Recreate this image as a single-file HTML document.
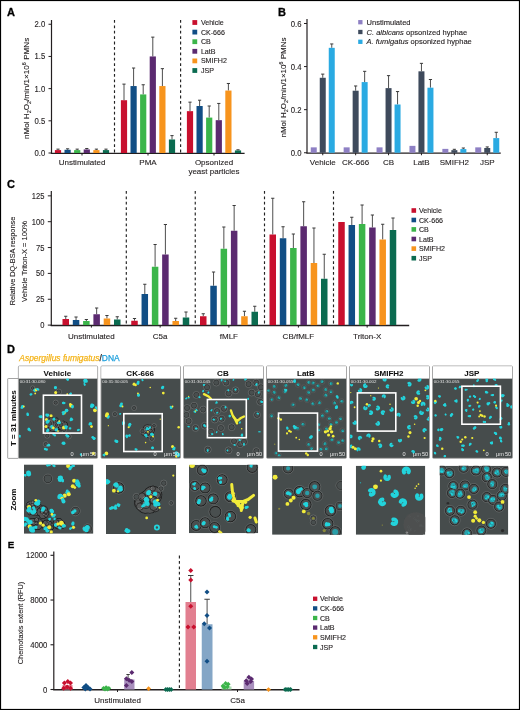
<!DOCTYPE html>
<html><head><meta charset="utf-8"><style>
html,body{margin:0;padding:0;background:#fff;}
body{width:520px;height:710px;overflow:hidden;}
svg{display:block;}
text{font-family:"Liberation Sans",sans-serif;}
</style></head><body>
<svg width="520" height="710" viewBox="0 0 520 710">
<defs><filter id="bl" x="-5%" y="-5%" width="110%" height="110%"><feGaussianBlur stdDeviation="0.3"/></filter></defs>
<rect x="0" y="0" width="520" height="710" fill="#fff"/>
<g opacity="0.999"><text x="7" y="15.7" font-size="11" text-anchor="start" font-weight="bold" fill="#000" stroke="#000" stroke-width="0.3">A</text><line x1="51.5" y1="20" x2="51.5" y2="153.6" stroke="#231f20" stroke-width="1.2"/><line x1="50.9" y1="153.35" x2="244.6" y2="153.35" stroke="#231f20" stroke-width="1.35"/><line x1="48.5" y1="153.0" x2="51.5" y2="153.0" stroke="#231f20" stroke-width="1"/><text x="0" y="0" font-size="8.4" text-anchor="end" font-weight="normal" fill="#231f20" stroke="#231f20" stroke-width="0.12" transform="translate(45.3 156.0) scale(0.92 1)">0.0</text><line x1="48.5" y1="120.8125" x2="51.5" y2="120.8125" stroke="#231f20" stroke-width="1"/><text x="0" y="0" font-size="8.4" text-anchor="end" font-weight="normal" fill="#231f20" stroke="#231f20" stroke-width="0.12" transform="translate(45.3 123.8125) scale(0.92 1)">0.5</text><line x1="48.5" y1="88.625" x2="51.5" y2="88.625" stroke="#231f20" stroke-width="1"/><text x="0" y="0" font-size="8.4" text-anchor="end" font-weight="normal" fill="#231f20" stroke="#231f20" stroke-width="0.12" transform="translate(45.3 91.625) scale(0.92 1)">1.0</text><line x1="48.5" y1="56.4375" x2="51.5" y2="56.4375" stroke="#231f20" stroke-width="1"/><text x="0" y="0" font-size="8.4" text-anchor="end" font-weight="normal" fill="#231f20" stroke="#231f20" stroke-width="0.12" transform="translate(45.3 59.4375) scale(0.92 1)">1.5</text><line x1="48.5" y1="24.25" x2="51.5" y2="24.25" stroke="#231f20" stroke-width="1"/><text x="0" y="0" font-size="8.4" text-anchor="end" font-weight="normal" fill="#231f20" stroke="#231f20" stroke-width="0.12" transform="translate(45.3 27.25) scale(0.92 1)">2.0</text><line x1="114.5" y1="20" x2="114.5" y2="153.0" stroke="#222" stroke-width="1.15" stroke-dasharray="2.8 2.6"/><line x1="180.6" y1="20" x2="180.6" y2="153.0" stroke="#222" stroke-width="1.15" stroke-dasharray="2.8 2.6"/><line x1="58.0" y1="150.103125" x2="58.0" y2="149.1375" stroke="#3a3a3a" stroke-width="0.9"/><line x1="56.4" y1="149.1375" x2="59.6" y2="149.1375" stroke="#3a3a3a" stroke-width="1.0"/><rect x="54.90" y="150.10" width="6.20" height="2.90" fill="#c8102e"/><line x1="67.6" y1="149.78125" x2="67.6" y2="148.815625" stroke="#3a3a3a" stroke-width="0.9"/><line x1="66.0" y1="148.815625" x2="69.19999999999999" y2="148.815625" stroke="#3a3a3a" stroke-width="1.0"/><rect x="64.50" y="149.78" width="6.20" height="3.22" fill="#114e85"/><line x1="77.19999999999999" y1="150.103125" x2="77.19999999999999" y2="149.1375" stroke="#3a3a3a" stroke-width="0.9"/><line x1="75.6" y1="149.1375" x2="78.79999999999998" y2="149.1375" stroke="#3a3a3a" stroke-width="1.0"/><rect x="74.10" y="150.10" width="6.20" height="2.90" fill="#3bb54a"/><line x1="86.79999999999998" y1="149.459375" x2="86.79999999999998" y2="148.49375" stroke="#3a3a3a" stroke-width="0.9"/><line x1="85.19999999999999" y1="148.49375" x2="88.39999999999998" y2="148.49375" stroke="#3a3a3a" stroke-width="1.0"/><rect x="83.70" y="149.46" width="6.20" height="3.54" fill="#5b2a70"/><line x1="96.39999999999999" y1="150.103125" x2="96.39999999999999" y2="149.1375" stroke="#3a3a3a" stroke-width="0.9"/><line x1="94.8" y1="149.1375" x2="97.99999999999999" y2="149.1375" stroke="#3a3a3a" stroke-width="1.0"/><rect x="93.30" y="150.10" width="6.20" height="2.90" fill="#f7941d"/><line x1="106.0" y1="150.103125" x2="106.0" y2="149.1375" stroke="#3a3a3a" stroke-width="0.9"/><line x1="104.4" y1="149.1375" x2="107.6" y2="149.1375" stroke="#3a3a3a" stroke-width="1.0"/><rect x="102.90" y="150.10" width="6.20" height="2.90" fill="#0b6b50"/><line x1="82.0" y1="153.0" x2="82.0" y2="155.5" stroke="#231f20" stroke-width="1"/><line x1="124.0" y1="100.2125" x2="124.0" y2="84.11874999999999" stroke="#3a3a3a" stroke-width="0.9"/><line x1="122.4" y1="84.11874999999999" x2="125.6" y2="84.11874999999999" stroke="#3a3a3a" stroke-width="1.0"/><rect x="120.90" y="100.21" width="6.20" height="52.79" fill="#c8102e"/><line x1="133.6" y1="86.05" x2="133.6" y2="68.02499999999999" stroke="#3a3a3a" stroke-width="0.9"/><line x1="132.0" y1="68.02499999999999" x2="135.2" y2="68.02499999999999" stroke="#3a3a3a" stroke-width="1.0"/><rect x="130.50" y="86.05" width="6.20" height="66.95" fill="#114e85"/><line x1="143.2" y1="94.41874999999999" x2="143.2" y2="84.7625" stroke="#3a3a3a" stroke-width="0.9"/><line x1="141.6" y1="84.7625" x2="144.79999999999998" y2="84.7625" stroke="#3a3a3a" stroke-width="1.0"/><rect x="140.10" y="94.42" width="6.20" height="58.58" fill="#3bb54a"/><line x1="152.79999999999998" y1="56.4375" x2="152.79999999999998" y2="37.125" stroke="#3a3a3a" stroke-width="0.9"/><line x1="151.2" y1="37.125" x2="154.39999999999998" y2="37.125" stroke="#3a3a3a" stroke-width="1.0"/><rect x="149.70" y="56.44" width="6.20" height="96.56" fill="#5b2a70"/><line x1="162.4" y1="86.05" x2="162.4" y2="68.66875" stroke="#3a3a3a" stroke-width="0.9"/><line x1="160.8" y1="68.66875" x2="164.0" y2="68.66875" stroke="#3a3a3a" stroke-width="1.0"/><rect x="159.30" y="86.05" width="6.20" height="66.95" fill="#f7941d"/><line x1="172.0" y1="139.48125" x2="172.0" y2="135.61875" stroke="#3a3a3a" stroke-width="0.9"/><line x1="170.4" y1="135.61875" x2="173.6" y2="135.61875" stroke="#3a3a3a" stroke-width="1.0"/><rect x="168.90" y="139.48" width="6.20" height="13.52" fill="#0b6b50"/><line x1="148.0" y1="153.0" x2="148.0" y2="155.5" stroke="#231f20" stroke-width="1"/><line x1="190.0" y1="111.15625" x2="190.0" y2="102.14375" stroke="#3a3a3a" stroke-width="0.9"/><line x1="188.4" y1="102.14375" x2="191.6" y2="102.14375" stroke="#3a3a3a" stroke-width="1.0"/><rect x="186.90" y="111.16" width="6.20" height="41.84" fill="#c8102e"/><line x1="199.6" y1="106.00625" x2="199.6" y2="100.2125" stroke="#3a3a3a" stroke-width="0.9"/><line x1="198.0" y1="100.2125" x2="201.2" y2="100.2125" stroke="#3a3a3a" stroke-width="1.0"/><rect x="196.50" y="106.01" width="6.20" height="46.99" fill="#114e85"/><line x1="209.2" y1="117.59375" x2="209.2" y2="106.00625" stroke="#3a3a3a" stroke-width="0.9"/><line x1="207.6" y1="106.00625" x2="210.79999999999998" y2="106.00625" stroke="#3a3a3a" stroke-width="1.0"/><rect x="206.10" y="117.59" width="6.20" height="35.41" fill="#3bb54a"/><line x1="218.79999999999998" y1="120.16875" x2="218.79999999999998" y2="103.43125" stroke="#3a3a3a" stroke-width="0.9"/><line x1="217.2" y1="103.43125" x2="220.39999999999998" y2="103.43125" stroke="#3a3a3a" stroke-width="1.0"/><rect x="215.70" y="120.17" width="6.20" height="32.83" fill="#5b2a70"/><line x1="228.4" y1="90.55625" x2="228.4" y2="83.475" stroke="#3a3a3a" stroke-width="0.9"/><line x1="226.8" y1="83.475" x2="230.0" y2="83.475" stroke="#3a3a3a" stroke-width="1.0"/><rect x="225.30" y="90.56" width="6.20" height="62.44" fill="#f7941d"/><line x1="238.0" y1="150.425" x2="238.0" y2="149.78125" stroke="#3a3a3a" stroke-width="0.9"/><line x1="236.4" y1="149.78125" x2="239.6" y2="149.78125" stroke="#3a3a3a" stroke-width="1.0"/><rect x="234.90" y="150.43" width="6.20" height="2.57" fill="#0b6b50"/><line x1="214.0" y1="153.0" x2="214.0" y2="155.5" stroke="#231f20" stroke-width="1"/><text x="82" y="165" font-size="8" text-anchor="middle" font-weight="normal" fill="#231f20" stroke="#231f20" stroke-width="0.12">Unstimulated</text><text x="148" y="165" font-size="8" text-anchor="middle" font-weight="normal" fill="#231f20" stroke="#231f20" stroke-width="0.12">PMA</text><text x="214" y="164.8" font-size="8" text-anchor="middle" font-weight="normal" fill="#231f20" stroke="#231f20" stroke-width="0.12">Opsonized</text><text x="214" y="173.8" font-size="8" text-anchor="middle" font-weight="normal" fill="#231f20" stroke="#231f20" stroke-width="0.12">yeast particles</text><rect x="192.40" y="20.10" width="4.80" height="4.80" fill="#c8102e"/><text x="200.9" y="25.0" font-size="7.1" text-anchor="start" font-weight="normal" fill="#231f20" stroke="#231f20" stroke-width="0.12">Vehicle</text><rect x="192.40" y="29.70" width="4.80" height="4.80" fill="#114e85"/><text x="200.9" y="34.6" font-size="7.1" text-anchor="start" font-weight="normal" fill="#231f20" stroke="#231f20" stroke-width="0.12">CK-666</text><rect x="192.40" y="39.30" width="4.80" height="4.80" fill="#3bb54a"/><text x="200.9" y="44.2" font-size="7.1" text-anchor="start" font-weight="normal" fill="#231f20" stroke="#231f20" stroke-width="0.12">CB</text><rect x="192.40" y="48.90" width="4.80" height="4.80" fill="#5b2a70"/><text x="200.9" y="53.8" font-size="7.1" text-anchor="start" font-weight="normal" fill="#231f20" stroke="#231f20" stroke-width="0.12">LatB</text><rect x="192.40" y="58.50" width="4.80" height="4.80" fill="#f7941d"/><text x="200.9" y="63.4" font-size="7.1" text-anchor="start" font-weight="normal" fill="#231f20" stroke="#231f20" stroke-width="0.12">SMIFH2</text><rect x="192.40" y="68.10" width="4.80" height="4.80" fill="#0b6b50"/><text x="200.9" y="73.0" font-size="7.1" text-anchor="start" font-weight="normal" fill="#231f20" stroke="#231f20" stroke-width="0.12">JSP</text><text x="29.5" y="88.4" font-size="8.1" text-anchor="middle" fill="#231f20" stroke="#231f20" stroke-width="0.12" transform="rotate(-90 29.5 88.4)">nMol H<tspan font-size="5.5" dy="1.5">2</tspan><tspan dy="-1.5">O</tspan><tspan font-size="5.5" dy="1.5">2</tspan><tspan dy="-1.5">/min/1×10</tspan><tspan font-size="5.5" dy="-3">6</tspan><tspan dy="3"> PMNs</tspan></text><text x="278" y="15.7" font-size="11" text-anchor="start" font-weight="bold" fill="#000" stroke="#000" stroke-width="0.3">B</text><line x1="307" y1="19" x2="307" y2="153.35" stroke="#231f20" stroke-width="1.2"/><line x1="306.4" y1="153.15" x2="500.75" y2="153.15" stroke="#231f20" stroke-width="1.35"/><line x1="304" y1="152.75" x2="307" y2="152.75" stroke="#231f20" stroke-width="1"/><text x="0" y="0" font-size="8.4" text-anchor="end" font-weight="normal" fill="#231f20" stroke="#231f20" stroke-width="0.12" transform="translate(301.5 155.75) scale(0.92 1)">0.0</text><line x1="304" y1="109.66666666666666" x2="307" y2="109.66666666666666" stroke="#231f20" stroke-width="1"/><text x="0" y="0" font-size="8.4" text-anchor="end" font-weight="normal" fill="#231f20" stroke="#231f20" stroke-width="0.12" transform="translate(301.5 112.66666666666666) scale(0.92 1)">0.2</text><line x1="304" y1="66.58333333333331" x2="307" y2="66.58333333333331" stroke="#231f20" stroke-width="1"/><text x="0" y="0" font-size="8.4" text-anchor="end" font-weight="normal" fill="#231f20" stroke="#231f20" stroke-width="0.12" transform="translate(301.5 69.58333333333331) scale(0.92 1)">0.4</text><line x1="304" y1="23.5" x2="307" y2="23.5" stroke="#231f20" stroke-width="1"/><text x="0" y="0" font-size="8.4" text-anchor="end" font-weight="normal" fill="#231f20" stroke="#231f20" stroke-width="0.12" transform="translate(301.5 26.5) scale(0.92 1)">0.6</text><rect x="310.75" y="147.36" width="6.00" height="5.39" fill="#8e80c4"/><line x1="322.75" y1="77.785" x2="322.75" y2="74.12291666666667" stroke="#3a3a3a" stroke-width="0.9"/><line x1="321.15" y1="74.12291666666667" x2="324.35" y2="74.12291666666667" stroke="#3a3a3a" stroke-width="1.0"/><rect x="319.75" y="77.78" width="6.00" height="74.97" fill="#3e4a5c"/><line x1="331.75" y1="47.84208333333332" x2="331.75" y2="43.96458333333332" stroke="#3a3a3a" stroke-width="0.9"/><line x1="330.15" y1="43.96458333333332" x2="333.35" y2="43.96458333333332" stroke="#3a3a3a" stroke-width="1.0"/><rect x="328.75" y="47.84" width="6.00" height="104.91" fill="#2aaae2"/><line x1="322.75" y1="152.75" x2="322.75" y2="155.25" stroke="#231f20" stroke-width="1"/><text x="322.75" y="165" font-size="8" text-anchor="middle" font-weight="normal" fill="#231f20" stroke="#231f20" stroke-width="0.12">Vehicle</text><rect x="343.65" y="147.36" width="6.00" height="5.39" fill="#8e80c4"/><line x1="355.65" y1="90.71000000000001" x2="355.65" y2="85.97083333333333" stroke="#3a3a3a" stroke-width="0.9"/><line x1="354.04999999999995" y1="85.97083333333333" x2="357.25" y2="85.97083333333333" stroke="#3a3a3a" stroke-width="1.0"/><rect x="352.65" y="90.71" width="6.00" height="62.04" fill="#3e4a5c"/><line x1="364.65" y1="82.09333333333332" x2="364.65" y2="71.32249999999999" stroke="#3a3a3a" stroke-width="0.9"/><line x1="363.04999999999995" y1="71.32249999999999" x2="366.25" y2="71.32249999999999" stroke="#3a3a3a" stroke-width="1.0"/><rect x="361.65" y="82.09" width="6.00" height="70.66" fill="#2aaae2"/><line x1="355.65" y1="152.75" x2="355.65" y2="155.25" stroke="#231f20" stroke-width="1"/><text x="355.65" y="165" font-size="8" text-anchor="middle" font-weight="normal" fill="#231f20" stroke="#231f20" stroke-width="0.12">CK-666</text><rect x="376.55" y="147.36" width="6.00" height="5.39" fill="#8e80c4"/><line x1="388.55" y1="88.125" x2="388.55" y2="75.63083333333333" stroke="#3a3a3a" stroke-width="0.9"/><line x1="386.95" y1="75.63083333333333" x2="390.15000000000003" y2="75.63083333333333" stroke="#3a3a3a" stroke-width="1.0"/><rect x="385.55" y="88.12" width="6.00" height="64.62" fill="#3e4a5c"/><line x1="397.55" y1="104.49666666666667" x2="397.55" y2="91.57166666666666" stroke="#3a3a3a" stroke-width="0.9"/><line x1="395.95" y1="91.57166666666666" x2="399.15000000000003" y2="91.57166666666666" stroke="#3a3a3a" stroke-width="1.0"/><rect x="394.55" y="104.50" width="6.00" height="48.25" fill="#2aaae2"/><line x1="388.55" y1="152.75" x2="388.55" y2="155.25" stroke="#231f20" stroke-width="1"/><text x="388.55" y="165" font-size="8" text-anchor="middle" font-weight="normal" fill="#231f20" stroke="#231f20" stroke-width="0.12">CB</text><rect x="409.45" y="145.86" width="6.00" height="6.89" fill="#8e80c4"/><line x1="421.45" y1="71.32249999999999" x2="421.45" y2="63.352083333333326" stroke="#3a3a3a" stroke-width="0.9"/><line x1="419.84999999999997" y1="63.352083333333326" x2="423.05" y2="63.352083333333326" stroke="#3a3a3a" stroke-width="1.0"/><rect x="418.45" y="71.32" width="6.00" height="81.43" fill="#3e4a5c"/><line x1="430.45" y1="87.69416666666666" x2="430.45" y2="79.50833333333333" stroke="#3a3a3a" stroke-width="0.9"/><line x1="428.84999999999997" y1="79.50833333333333" x2="432.05" y2="79.50833333333333" stroke="#3a3a3a" stroke-width="1.0"/><rect x="427.45" y="87.69" width="6.00" height="65.06" fill="#2aaae2"/><line x1="421.45" y1="152.75" x2="421.45" y2="155.25" stroke="#231f20" stroke-width="1"/><text x="421.45" y="165" font-size="8" text-anchor="middle" font-weight="normal" fill="#231f20" stroke="#231f20" stroke-width="0.12">LatB</text><rect x="442.35" y="148.87" width="6.00" height="3.88" fill="#8e80c4"/><line x1="454.35" y1="150.165" x2="454.35" y2="149.30333333333334" stroke="#3a3a3a" stroke-width="0.9"/><line x1="452.75" y1="149.30333333333334" x2="455.95000000000005" y2="149.30333333333334" stroke="#3a3a3a" stroke-width="1.0"/><rect x="451.35" y="150.16" width="6.00" height="2.59" fill="#3e4a5c"/><line x1="463.35" y1="149.08791666666667" x2="463.35" y2="148.01083333333332" stroke="#3a3a3a" stroke-width="0.9"/><line x1="461.75" y1="148.01083333333332" x2="464.95000000000005" y2="148.01083333333332" stroke="#3a3a3a" stroke-width="1.0"/><rect x="460.35" y="149.09" width="6.00" height="3.66" fill="#2aaae2"/><line x1="454.35" y1="152.75" x2="454.35" y2="155.25" stroke="#231f20" stroke-width="1"/><text x="454.35" y="165" font-size="8" text-anchor="middle" font-weight="normal" fill="#231f20" stroke="#231f20" stroke-width="0.12">SMIFH2</text><rect x="475.25" y="147.36" width="6.00" height="5.39" fill="#8e80c4"/><line x1="487.25" y1="148.01083333333332" x2="487.25" y2="146.93375" stroke="#3a3a3a" stroke-width="0.9"/><line x1="485.65" y1="146.93375" x2="488.85" y2="146.93375" stroke="#3a3a3a" stroke-width="1.0"/><rect x="484.25" y="148.01" width="6.00" height="4.74" fill="#3e4a5c"/><line x1="496.25" y1="138.10166666666666" x2="496.25" y2="132.28541666666666" stroke="#3a3a3a" stroke-width="0.9"/><line x1="494.65" y1="132.28541666666666" x2="497.85" y2="132.28541666666666" stroke="#3a3a3a" stroke-width="1.0"/><rect x="493.25" y="138.10" width="6.00" height="14.65" fill="#2aaae2"/><line x1="487.25" y1="152.75" x2="487.25" y2="155.25" stroke="#231f20" stroke-width="1"/><text x="487.25" y="165" font-size="8" text-anchor="middle" font-weight="normal" fill="#231f20" stroke="#231f20" stroke-width="0.12">JSP</text><rect x="358.20" y="20.05" width="4.30" height="4.30" fill="#8e80c4"/><text x="366.5" y="24.7" font-size="7.55" fill="#231f20" stroke="#231f20" stroke-width="0.12">Unstimulated</text><rect x="358.20" y="29.85" width="4.30" height="4.30" fill="#3e4a5c"/><text x="366.5" y="34.5" font-size="7.55" fill="#231f20" stroke="#231f20" stroke-width="0.12"><tspan font-style="italic">C. albicans</tspan> opsonized hyphae</text><rect x="358.20" y="39.65" width="4.30" height="4.30" fill="#2aaae2"/><text x="366.5" y="44.3" font-size="7.55" fill="#231f20" stroke="#231f20" stroke-width="0.12"><tspan font-style="italic">A. fumigatus</tspan> opsonized hyphae</text><text x="286.3" y="87.5" font-size="8.0" text-anchor="middle" fill="#231f20" stroke="#231f20" stroke-width="0.12" transform="rotate(-90 286.3 87.5)">nMol H<tspan font-size="5.5" dy="1.5">2</tspan><tspan dy="-1.5">O</tspan><tspan font-size="5.5" dy="1.5">2</tspan><tspan dy="-1.5">/min/1×10</tspan><tspan font-size="5.5" dy="-3">6</tspan><tspan dy="3"> PMNs</tspan></text><text x="7" y="188.2" font-size="11" text-anchor="start" font-weight="bold" fill="#000" stroke="#000" stroke-width="0.3">C</text><line x1="51.3" y1="191" x2="51.3" y2="325.70000000000005" stroke="#231f20" stroke-width="1.2"/><line x1="50.699999999999996" y1="325.45000000000005" x2="409.2" y2="325.45000000000005" stroke="#231f20" stroke-width="1.35"/><line x1="47.8" y1="325.1" x2="51.3" y2="325.1" stroke="#231f20" stroke-width="1"/><text x="0" y="0" font-size="8.4" text-anchor="end" font-weight="normal" fill="#231f20" stroke="#231f20" stroke-width="0.12" transform="translate(44.4 328.1) scale(0.9 1)">0</text><line x1="47.8" y1="299.25" x2="51.3" y2="299.25" stroke="#231f20" stroke-width="1"/><text x="0" y="0" font-size="8.4" text-anchor="end" font-weight="normal" fill="#231f20" stroke="#231f20" stroke-width="0.12" transform="translate(44.4 302.25) scale(0.9 1)">25</text><line x1="47.8" y1="273.40000000000003" x2="51.3" y2="273.40000000000003" stroke="#231f20" stroke-width="1"/><text x="0" y="0" font-size="8.4" text-anchor="end" font-weight="normal" fill="#231f20" stroke="#231f20" stroke-width="0.12" transform="translate(44.4 276.40000000000003) scale(0.9 1)">50</text><line x1="47.8" y1="247.55" x2="51.3" y2="247.55" stroke="#231f20" stroke-width="1"/><text x="0" y="0" font-size="8.4" text-anchor="end" font-weight="normal" fill="#231f20" stroke="#231f20" stroke-width="0.12" transform="translate(44.4 250.55) scale(0.9 1)">75</text><line x1="47.8" y1="221.70000000000002" x2="51.3" y2="221.70000000000002" stroke="#231f20" stroke-width="1"/><text x="0" y="0" font-size="8.4" text-anchor="end" font-weight="normal" fill="#231f20" stroke="#231f20" stroke-width="0.12" transform="translate(44.4 224.70000000000002) scale(0.9 1)">100</text><line x1="47.8" y1="195.85000000000002" x2="51.3" y2="195.85000000000002" stroke="#231f20" stroke-width="1"/><text x="0" y="0" font-size="8.4" text-anchor="end" font-weight="normal" fill="#231f20" stroke="#231f20" stroke-width="0.12" transform="translate(44.4 198.85000000000002) scale(0.9 1)">125</text><line x1="126.3" y1="191" x2="126.3" y2="325.1" stroke="#222" stroke-width="1.15" stroke-dasharray="2.8 2.6"/><line x1="195.25" y1="191" x2="195.25" y2="325.1" stroke="#222" stroke-width="1.15" stroke-dasharray="2.8 2.6"/><line x1="264.5" y1="191" x2="264.5" y2="325.1" stroke="#222" stroke-width="1.15" stroke-dasharray="2.8 2.6"/><line x1="333.5" y1="191" x2="333.5" y2="325.1" stroke="#222" stroke-width="1.15" stroke-dasharray="2.8 2.6"/><line x1="65.75" y1="319" x2="65.75" y2="316.25" stroke="#3a3a3a" stroke-width="0.9"/><line x1="64.15" y1="316.25" x2="67.35" y2="316.25" stroke="#3a3a3a" stroke-width="1.0"/><rect x="62.50" y="319.00" width="6.50" height="6.10" fill="#c8102e"/><line x1="76.05" y1="320" x2="76.05" y2="317" stroke="#3a3a3a" stroke-width="0.9"/><line x1="74.45" y1="317" x2="77.64999999999999" y2="317" stroke="#3a3a3a" stroke-width="1.0"/><rect x="72.80" y="320.00" width="6.50" height="5.10" fill="#114e85"/><line x1="86.35" y1="321" x2="86.35" y2="319.5" stroke="#3a3a3a" stroke-width="0.9"/><line x1="84.75" y1="319.5" x2="87.94999999999999" y2="319.5" stroke="#3a3a3a" stroke-width="1.0"/><rect x="83.10" y="321.00" width="6.50" height="4.10" fill="#3bb54a"/><line x1="96.65" y1="314.25" x2="96.65" y2="308" stroke="#3a3a3a" stroke-width="0.9"/><line x1="95.05000000000001" y1="308" x2="98.25" y2="308" stroke="#3a3a3a" stroke-width="1.0"/><rect x="93.40" y="314.25" width="6.50" height="10.85" fill="#5b2a70"/><line x1="106.95" y1="318.5" x2="106.95" y2="315.5" stroke="#3a3a3a" stroke-width="0.9"/><line x1="105.35000000000001" y1="315.5" x2="108.55" y2="315.5" stroke="#3a3a3a" stroke-width="1.0"/><rect x="103.70" y="318.50" width="6.50" height="6.60" fill="#f7941d"/><line x1="117.25" y1="319.5" x2="117.25" y2="316.75" stroke="#3a3a3a" stroke-width="0.9"/><line x1="115.65" y1="316.75" x2="118.85" y2="316.75" stroke="#3a3a3a" stroke-width="1.0"/><rect x="114.00" y="319.50" width="6.50" height="5.60" fill="#0b6b50"/><line x1="91.4" y1="325.1" x2="91.4" y2="327.6" stroke="#231f20" stroke-width="1"/><text x="91.4" y="338.5" font-size="8" text-anchor="middle" font-weight="normal" fill="#231f20" stroke="#231f20" stroke-width="0.12">Unstimulated</text><line x1="134.5" y1="320.75" x2="134.5" y2="318.5" stroke="#3a3a3a" stroke-width="0.9"/><line x1="132.9" y1="318.5" x2="136.1" y2="318.5" stroke="#3a3a3a" stroke-width="1.0"/><rect x="131.25" y="320.75" width="6.50" height="4.35" fill="#c8102e"/><line x1="144.8" y1="294" x2="144.8" y2="284.25" stroke="#3a3a3a" stroke-width="0.9"/><line x1="143.20000000000002" y1="284.25" x2="146.4" y2="284.25" stroke="#3a3a3a" stroke-width="1.0"/><rect x="141.55" y="294.00" width="6.50" height="31.10" fill="#114e85"/><line x1="155.1" y1="266.75" x2="155.1" y2="244.5" stroke="#3a3a3a" stroke-width="0.9"/><line x1="153.5" y1="244.5" x2="156.7" y2="244.5" stroke="#3a3a3a" stroke-width="1.0"/><rect x="151.85" y="266.75" width="6.50" height="58.35" fill="#3bb54a"/><line x1="165.4" y1="254.5" x2="165.4" y2="224.5" stroke="#3a3a3a" stroke-width="0.9"/><line x1="163.8" y1="224.5" x2="167.0" y2="224.5" stroke="#3a3a3a" stroke-width="1.0"/><rect x="162.15" y="254.50" width="6.50" height="70.60" fill="#5b2a70"/><line x1="175.7" y1="321" x2="175.7" y2="318.25" stroke="#3a3a3a" stroke-width="0.9"/><line x1="174.1" y1="318.25" x2="177.29999999999998" y2="318.25" stroke="#3a3a3a" stroke-width="1.0"/><rect x="172.45" y="321.00" width="6.50" height="4.10" fill="#f7941d"/><line x1="186.0" y1="317.5" x2="186.0" y2="312" stroke="#3a3a3a" stroke-width="0.9"/><line x1="184.4" y1="312" x2="187.6" y2="312" stroke="#3a3a3a" stroke-width="1.0"/><rect x="182.75" y="317.50" width="6.50" height="7.60" fill="#0b6b50"/><line x1="160.15" y1="325.1" x2="160.15" y2="327.6" stroke="#231f20" stroke-width="1"/><text x="160.15" y="338.5" font-size="8" text-anchor="middle" font-weight="normal" fill="#231f20" stroke="#231f20" stroke-width="0.12">C5a</text><line x1="203.25" y1="316.25" x2="203.25" y2="313.75" stroke="#3a3a3a" stroke-width="0.9"/><line x1="201.65" y1="313.75" x2="204.85" y2="313.75" stroke="#3a3a3a" stroke-width="1.0"/><rect x="200.00" y="316.25" width="6.50" height="8.85" fill="#c8102e"/><line x1="213.55" y1="285.75" x2="213.55" y2="272" stroke="#3a3a3a" stroke-width="0.9"/><line x1="211.95000000000002" y1="272" x2="215.15" y2="272" stroke="#3a3a3a" stroke-width="1.0"/><rect x="210.30" y="285.75" width="6.50" height="39.35" fill="#114e85"/><line x1="223.85" y1="248.75" x2="223.85" y2="227" stroke="#3a3a3a" stroke-width="0.9"/><line x1="222.25" y1="227" x2="225.45" y2="227" stroke="#3a3a3a" stroke-width="1.0"/><rect x="220.60" y="248.75" width="6.50" height="76.35" fill="#3bb54a"/><line x1="234.15" y1="230.75" x2="234.15" y2="205.5" stroke="#3a3a3a" stroke-width="0.9"/><line x1="232.55" y1="205.5" x2="235.75" y2="205.5" stroke="#3a3a3a" stroke-width="1.0"/><rect x="230.90" y="230.75" width="6.50" height="94.35" fill="#5b2a70"/><line x1="244.45" y1="316.25" x2="244.45" y2="311.25" stroke="#3a3a3a" stroke-width="0.9"/><line x1="242.85" y1="311.25" x2="246.04999999999998" y2="311.25" stroke="#3a3a3a" stroke-width="1.0"/><rect x="241.20" y="316.25" width="6.50" height="8.85" fill="#f7941d"/><line x1="254.75" y1="311.75" x2="254.75" y2="306.25" stroke="#3a3a3a" stroke-width="0.9"/><line x1="253.15" y1="306.25" x2="256.35" y2="306.25" stroke="#3a3a3a" stroke-width="1.0"/><rect x="251.50" y="311.75" width="6.50" height="13.35" fill="#0b6b50"/><line x1="228.9" y1="325.1" x2="228.9" y2="327.6" stroke="#231f20" stroke-width="1"/><text x="228.9" y="338.5" font-size="8" text-anchor="middle" font-weight="normal" fill="#231f20" stroke="#231f20" stroke-width="0.12">fMLF</text><line x1="272.75" y1="234.5" x2="272.75" y2="198.25" stroke="#3a3a3a" stroke-width="0.9"/><line x1="271.15" y1="198.25" x2="274.35" y2="198.25" stroke="#3a3a3a" stroke-width="1.0"/><rect x="269.50" y="234.50" width="6.50" height="90.60" fill="#c8102e"/><line x1="283.05" y1="238.25" x2="283.05" y2="226.75" stroke="#3a3a3a" stroke-width="0.9"/><line x1="281.45" y1="226.75" x2="284.65000000000003" y2="226.75" stroke="#3a3a3a" stroke-width="1.0"/><rect x="279.80" y="238.25" width="6.50" height="86.85" fill="#114e85"/><line x1="293.35" y1="248" x2="293.35" y2="234" stroke="#3a3a3a" stroke-width="0.9"/><line x1="291.75" y1="234" x2="294.95000000000005" y2="234" stroke="#3a3a3a" stroke-width="1.0"/><rect x="290.10" y="248.00" width="6.50" height="77.10" fill="#3bb54a"/><line x1="303.65" y1="226.25" x2="303.65" y2="201.75" stroke="#3a3a3a" stroke-width="0.9"/><line x1="302.04999999999995" y1="201.75" x2="305.25" y2="201.75" stroke="#3a3a3a" stroke-width="1.0"/><rect x="300.40" y="226.25" width="6.50" height="98.85" fill="#5b2a70"/><line x1="313.95" y1="263" x2="313.95" y2="228" stroke="#3a3a3a" stroke-width="0.9"/><line x1="312.34999999999997" y1="228" x2="315.55" y2="228" stroke="#3a3a3a" stroke-width="1.0"/><rect x="310.70" y="263.00" width="6.50" height="62.10" fill="#f7941d"/><line x1="324.25" y1="278.75" x2="324.25" y2="254.25" stroke="#3a3a3a" stroke-width="0.9"/><line x1="322.65" y1="254.25" x2="325.85" y2="254.25" stroke="#3a3a3a" stroke-width="1.0"/><rect x="321.00" y="278.75" width="6.50" height="46.35" fill="#0b6b50"/><line x1="298.4" y1="325.1" x2="298.4" y2="327.6" stroke="#231f20" stroke-width="1"/><text x="298.4" y="338.5" font-size="8" text-anchor="middle" font-weight="normal" fill="#231f20" stroke="#231f20" stroke-width="0.12">CB/fMLF</text><rect x="338.25" y="222.00" width="6.50" height="103.10" fill="#c8102e"/><line x1="351.8" y1="225" x2="351.8" y2="217.25" stroke="#3a3a3a" stroke-width="0.9"/><line x1="350.2" y1="217.25" x2="353.40000000000003" y2="217.25" stroke="#3a3a3a" stroke-width="1.0"/><rect x="348.55" y="225.00" width="6.50" height="100.10" fill="#114e85"/><line x1="362.1" y1="224" x2="362.1" y2="205" stroke="#3a3a3a" stroke-width="0.9"/><line x1="360.5" y1="205" x2="363.70000000000005" y2="205" stroke="#3a3a3a" stroke-width="1.0"/><rect x="358.85" y="224.00" width="6.50" height="101.10" fill="#3bb54a"/><line x1="372.4" y1="227.5" x2="372.4" y2="215" stroke="#3a3a3a" stroke-width="0.9"/><line x1="370.79999999999995" y1="215" x2="374.0" y2="215" stroke="#3a3a3a" stroke-width="1.0"/><rect x="369.15" y="227.50" width="6.50" height="97.60" fill="#5b2a70"/><line x1="382.7" y1="239.5" x2="382.7" y2="224.25" stroke="#3a3a3a" stroke-width="0.9"/><line x1="381.09999999999997" y1="224.25" x2="384.3" y2="224.25" stroke="#3a3a3a" stroke-width="1.0"/><rect x="379.45" y="239.50" width="6.50" height="85.60" fill="#f7941d"/><line x1="393.0" y1="230" x2="393.0" y2="218" stroke="#3a3a3a" stroke-width="0.9"/><line x1="391.4" y1="218" x2="394.6" y2="218" stroke="#3a3a3a" stroke-width="1.0"/><rect x="389.75" y="230.00" width="6.50" height="95.10" fill="#0b6b50"/><line x1="367.15" y1="325.1" x2="367.15" y2="327.6" stroke="#231f20" stroke-width="1"/><text x="367.15" y="338.5" font-size="8" text-anchor="middle" font-weight="normal" fill="#231f20" stroke="#231f20" stroke-width="0.12">Triton-X</text><rect x="411.50" y="208.20" width="4.60" height="4.60" fill="#c8102e"/><text x="419" y="213.0" font-size="7.1" text-anchor="start" font-weight="normal" fill="#231f20" stroke="#231f20" stroke-width="0.12">Vehicle</text><rect x="411.50" y="217.70" width="4.60" height="4.60" fill="#114e85"/><text x="419" y="222.5" font-size="7.1" text-anchor="start" font-weight="normal" fill="#231f20" stroke="#231f20" stroke-width="0.12">CK-666</text><rect x="411.50" y="227.10" width="4.60" height="4.60" fill="#3bb54a"/><text x="419" y="231.9" font-size="7.1" text-anchor="start" font-weight="normal" fill="#231f20" stroke="#231f20" stroke-width="0.12">CB</text><rect x="411.50" y="236.70" width="4.60" height="4.60" fill="#5b2a70"/><text x="419" y="241.5" font-size="7.1" text-anchor="start" font-weight="normal" fill="#231f20" stroke="#231f20" stroke-width="0.12">LatB</text><rect x="411.50" y="246.30" width="4.60" height="4.60" fill="#f7941d"/><text x="419" y="251.1" font-size="7.1" text-anchor="start" font-weight="normal" fill="#231f20" stroke="#231f20" stroke-width="0.12">SMIFH2</text><rect x="411.50" y="255.90" width="4.60" height="4.60" fill="#0b6b50"/><text x="419" y="260.7" font-size="7.1" text-anchor="start" font-weight="normal" fill="#231f20" stroke="#231f20" stroke-width="0.12">JSP</text><text x="14.8" y="261" font-size="7.35" text-anchor="middle" font-weight="normal" fill="#231f20" stroke="#231f20" stroke-width="0.12" transform="rotate(-90 14.8 261)">Relative DQ-BSA response</text><text x="26.6" y="261.5" font-size="7.55" text-anchor="middle" font-weight="normal" fill="#231f20" stroke="#231f20" stroke-width="0.12" transform="rotate(-90 26.6 261.5)">Vehicle Triton-X = 100%</text><text x="7" y="352.6" font-size="11" text-anchor="start" font-weight="bold" fill="#000" stroke="#000" stroke-width="0.3">D</text><text x="19.3" y="361.3" font-size="8.45" fill="#231f20" stroke="#231f20" stroke-width="0.25"><tspan font-style="italic" fill="#f4b41a" stroke="#f4b41a">Aspergillus fumigatus</tspan>/<tspan fill="#1c9fdc" stroke="#1c9fdc">DNA</tspan></text><clipPath id="cp0"><rect x="18.4" y="378.3" width="79.2" height="80.0"/></clipPath><g clip-path="url(#cp0)"><rect x="18.40" y="378.30" width="79.20" height="80.00" fill="#464c4c"/><g filter="url(#bl)"><circle cx="67.94" cy="379.61" r="1.05" fill="#22d4dc"/><circle cx="67.49" cy="379.30" r="1.25" fill="#22d4dc"/><circle cx="67.79" cy="379.49" r="1.06" fill="#22d4dc"/><circle cx="86.35" cy="381.39" r="1.43" fill="#22d4dc"/><circle cx="86.04" cy="380.42" r="1.34" fill="#22d4dc"/><circle cx="84.85" cy="380.21" r="1.50" fill="#22d4dc"/><circle cx="84.72" cy="381.82" r="1.26" fill="#22d4dc"/><circle cx="84.80" cy="384.64" r="0.86" fill="#22d4dc"/><circle cx="84.65" cy="384.86" r="0.88" fill="#22d4dc"/><circle cx="84.32" cy="383.82" r="0.94" fill="#22d4dc"/><circle cx="58.77" cy="391.85" r="2.15" fill="#4a5050" stroke="#1a1a1a" stroke-width="0.55"/><circle cx="58.77" cy="391.85" r="2.75" fill="none" stroke="#7a7e7e" stroke-width="0.55"/><circle cx="55.52" cy="387.60" r="1.46" fill="#22d4dc"/><circle cx="55.37" cy="387.78" r="1.45" fill="#22d4dc"/><circle cx="55.69" cy="392.62" r="1.54" fill="#f2ec3a"/><circle cx="32.62" cy="388.00" r="1.54" fill="#4a5050" stroke="#1a1a1a" stroke-width="0.55"/><circle cx="32.62" cy="388.00" r="2.14" fill="none" stroke="#7a7e7e" stroke-width="0.55"/><circle cx="34.79" cy="390.83" r="1.10" fill="#22d4dc"/><circle cx="35.34" cy="389.72" r="1.15" fill="#22d4dc"/><circle cx="34.51" cy="390.33" r="1.20" fill="#22d4dc"/><circle cx="34.77" cy="389.93" r="1.22" fill="#22d4dc"/><circle cx="36.15" cy="390.00" r="1.38" fill="#f2ec3a"/><circle cx="37.72" cy="389.03" r="0.97" fill="#22d4dc"/><circle cx="38.37" cy="389.71" r="1.06" fill="#22d4dc"/><circle cx="36.99" cy="389.19" r="0.92" fill="#22d4dc"/><circle cx="35.23" cy="393.38" r="0.92" fill="#f2ec3a"/><circle cx="30.52" cy="394.55" r="0.96" fill="#22d4dc"/><circle cx="31.51" cy="394.24" r="0.97" fill="#22d4dc"/><circle cx="30.83" cy="394.52" r="1.04" fill="#22d4dc"/><circle cx="70.18" cy="393.97" r="1.03" fill="#22d4dc"/><circle cx="70.93" cy="393.47" r="0.88" fill="#22d4dc"/><circle cx="70.66" cy="393.70" r="1.06" fill="#22d4dc"/><circle cx="70.68" cy="393.78" r="0.94" fill="#22d4dc"/><circle cx="67.23" cy="394.15" r="0.92" fill="#f2ec3a"/><circle cx="22.52" cy="407.30" r="1.24" fill="#22d4dc"/><circle cx="22.55" cy="406.29" r="1.36" fill="#22d4dc"/><circle cx="21.71" cy="407.67" r="1.17" fill="#22d4dc"/><circle cx="22.60" cy="406.25" r="1.09" fill="#22d4dc"/><circle cx="23.85" cy="406.46" r="0.92" fill="#f2ec3a"/><circle cx="27.74" cy="414.86" r="1.04" fill="#22d4dc"/><circle cx="27.55" cy="413.59" r="1.14" fill="#22d4dc"/><circle cx="27.73" cy="414.80" r="1.26" fill="#22d4dc"/><circle cx="41.16" cy="416.97" r="1.23" fill="#22d4dc"/><circle cx="39.66" cy="416.64" r="1.05" fill="#22d4dc"/><circle cx="41.06" cy="416.68" r="1.36" fill="#22d4dc"/><circle cx="55.69" cy="402.62" r="1.85" fill="#4a5050" stroke="#1a1a1a" stroke-width="0.55"/><circle cx="55.69" cy="402.62" r="2.45" fill="none" stroke="#7a7e7e" stroke-width="0.55"/><circle cx="63.31" cy="403.02" r="1.09" fill="#22d4dc"/><circle cx="63.37" cy="402.96" r="1.26" fill="#22d4dc"/><circle cx="63.33" cy="402.82" r="1.13" fill="#22d4dc"/><circle cx="64.44" cy="403.06" r="1.11" fill="#22d4dc"/><circle cx="71.08" cy="405.69" r="1.85" fill="#f2ec3a"/><circle cx="72.63" cy="406.07" r="1.11" fill="#22d4dc"/><circle cx="72.46" cy="407.07" r="1.39" fill="#22d4dc"/><circle cx="72.45" cy="405.99" r="1.08" fill="#22d4dc"/><circle cx="70.31" cy="404.15" r="1.23" fill="#f2ec3a"/><circle cx="66.63" cy="410.27" r="1.46" fill="#22d4dc"/><circle cx="66.32" cy="410.68" r="1.39" fill="#22d4dc"/><circle cx="65.59" cy="411.45" r="1.31" fill="#22d4dc"/><circle cx="66.89" cy="410.48" r="1.48" fill="#22d4dc"/><circle cx="64.15" cy="413.08" r="1.54" fill="#f2ec3a"/><circle cx="63.02" cy="412.46" r="1.32" fill="#22d4dc"/><circle cx="63.13" cy="414.21" r="1.07" fill="#22d4dc"/><circle cx="63.84" cy="412.72" r="1.37" fill="#22d4dc"/><circle cx="71.18" cy="418.81" r="1.19" fill="#22d4dc"/><circle cx="70.79" cy="420.07" r="1.20" fill="#22d4dc"/><circle cx="71.94" cy="419.46" r="1.20" fill="#22d4dc"/><circle cx="91.80" cy="404.89" r="1.47" fill="#22d4dc"/><circle cx="91.42" cy="406.24" r="1.25" fill="#22d4dc"/><circle cx="91.70" cy="406.50" r="1.55" fill="#22d4dc"/><circle cx="92.74" cy="405.44" r="1.66" fill="#22d4dc"/><circle cx="94.92" cy="410.31" r="1.85" fill="#f2ec3a"/><circle cx="97.03" cy="407.84" r="0.89" fill="#22d4dc"/><circle cx="96.54" cy="408.52" r="0.89" fill="#22d4dc"/><circle cx="95.90" cy="407.45" r="1.08" fill="#22d4dc"/><circle cx="90.92" cy="423.76" r="1.27" fill="#22d4dc"/><circle cx="90.62" cy="423.62" r="1.18" fill="#22d4dc"/><circle cx="90.15" cy="423.52" r="1.37" fill="#22d4dc"/><circle cx="89.52" cy="424.50" r="1.06" fill="#22d4dc"/><circle cx="91.54" cy="426.62" r="1.38" fill="#f2ec3a"/><circle cx="28.65" cy="429.75" r="1.06" fill="#22d4dc"/><circle cx="30.10" cy="430.40" r="1.04" fill="#22d4dc"/><circle cx="28.88" cy="429.12" r="1.28" fill="#22d4dc"/><circle cx="28.89" cy="428.99" r="1.21" fill="#22d4dc"/><circle cx="19.90" cy="437.01" r="0.83" fill="#22d4dc"/><circle cx="19.76" cy="435.77" r="0.86" fill="#22d4dc"/><circle cx="19.54" cy="435.96" r="1.12" fill="#22d4dc"/><circle cx="54.15" cy="424.15" r="4.58" fill="#1a1a1a" stroke="#1a1a1a" stroke-width="1.4"/><circle cx="55.24" cy="427.15" r="3.35" fill="#1a1a1a" stroke="#1a1a1a" stroke-width="1.4"/><circle cx="54.80" cy="426.85" r="4.17" fill="#1a1a1a" stroke="#1a1a1a" stroke-width="1.4"/><circle cx="52.86" cy="426.66" r="4.25" fill="#1a1a1a" stroke="#1a1a1a" stroke-width="1.4"/><circle cx="56.97" cy="425.29" r="4.32" fill="#1a1a1a" stroke="#1a1a1a" stroke-width="1.4"/><circle cx="52.52" cy="421.50" r="3.90" fill="#1a1a1a" stroke="#1a1a1a" stroke-width="1.4"/><circle cx="54.15" cy="424.15" r="4.58" fill="#535555"/><circle cx="55.24" cy="427.15" r="3.35" fill="#535555"/><circle cx="54.80" cy="426.85" r="4.17" fill="#535555"/><circle cx="52.86" cy="426.66" r="4.25" fill="#535555"/><circle cx="56.97" cy="425.29" r="4.32" fill="#535555"/><circle cx="52.52" cy="421.50" r="3.90" fill="#535555"/><circle cx="56.73" cy="419.26" r="1.36" fill="#565858" stroke="#141414" stroke-width="0.6"/><path d="M57.32 420.09 A1.02 1.02 0 0 1 55.79 419.64" fill="none" stroke="#c4c6c6" stroke-width="0.4"/><circle cx="48.65" cy="423.79" r="1.89" fill="#565858" stroke="#141414" stroke-width="0.6"/><path d="M47.55 422.90 A1.41 1.41 0 0 1 49.76 422.92" fill="none" stroke="#c4c6c6" stroke-width="0.4"/><circle cx="54.53" cy="421.90" r="1.37" fill="#565858" stroke="#141414" stroke-width="0.6"/><path d="M53.77 421.20 A1.03 1.03 0 0 1 55.38 421.32" fill="none" stroke="#c4c6c6" stroke-width="0.4"/><circle cx="55.22" cy="425.16" r="1.81" fill="#565858" stroke="#141414" stroke-width="0.6"/><path d="M53.89 424.90 A1.36 1.36 0 0 1 55.78 423.92" fill="none" stroke="#c4c6c6" stroke-width="0.4"/><circle cx="48.98" cy="424.73" r="1.97" fill="#565858" stroke="#141414" stroke-width="0.6"/><path d="M50.37 425.24 A1.48 1.48 0 0 1 48.16 425.96" fill="none" stroke="#c4c6c6" stroke-width="0.4"/><circle cx="54.59" cy="425.29" r="1.33" fill="#565858" stroke="#141414" stroke-width="0.6"/><path d="M53.64 425.58 A1.00 1.00 0 0 1 54.52 424.29" fill="none" stroke="#c4c6c6" stroke-width="0.4"/><circle cx="59.65" cy="425.13" r="1.31" fill="#565858" stroke="#141414" stroke-width="0.6"/><path d="M59.21 426.00 A0.98 0.98 0 0 1 58.91 424.49" fill="none" stroke="#c4c6c6" stroke-width="0.4"/><circle cx="58.69" cy="423.39" r="1.42" fill="#565858" stroke="#141414" stroke-width="0.6"/><path d="M58.51 424.44 A1.06 1.06 0 0 1 57.71 422.97" fill="none" stroke="#c4c6c6" stroke-width="0.4"/><circle cx="62.62" cy="425.69" r="2.86" fill="#1a1a1a" stroke="#1a1a1a" stroke-width="1.4"/><circle cx="60.67" cy="425.59" r="2.43" fill="#1a1a1a" stroke="#1a1a1a" stroke-width="1.4"/><circle cx="62.64" cy="427.44" r="2.68" fill="#1a1a1a" stroke="#1a1a1a" stroke-width="1.4"/><circle cx="64.43" cy="424.81" r="2.69" fill="#1a1a1a" stroke="#1a1a1a" stroke-width="1.4"/><circle cx="63.11" cy="427.31" r="2.37" fill="#1a1a1a" stroke="#1a1a1a" stroke-width="1.4"/><circle cx="61.36" cy="426.70" r="2.54" fill="#1a1a1a" stroke="#1a1a1a" stroke-width="1.4"/><circle cx="62.62" cy="425.69" r="2.86" fill="#535555"/><circle cx="60.67" cy="425.59" r="2.43" fill="#535555"/><circle cx="62.64" cy="427.44" r="2.68" fill="#535555"/><circle cx="64.43" cy="424.81" r="2.69" fill="#535555"/><circle cx="63.11" cy="427.31" r="2.37" fill="#535555"/><circle cx="61.36" cy="426.70" r="2.54" fill="#535555"/><circle cx="61.08" cy="426.43" r="0.94" fill="#565858" stroke="#141414" stroke-width="0.6"/><path d="M61.59 426.92 A0.70 0.70 0 0 1 60.49 426.81" fill="none" stroke="#c4c6c6" stroke-width="0.4"/><circle cx="63.22" cy="422.16" r="1.11" fill="#565858" stroke="#141414" stroke-width="0.6"/><path d="M62.66 422.79 A0.83 0.83 0 0 1 62.74 421.48" fill="none" stroke="#c4c6c6" stroke-width="0.4"/><circle cx="62.59" cy="427.06" r="1.02" fill="#565858" stroke="#141414" stroke-width="0.6"/><path d="M62.57 426.29 A0.77 0.77 0 0 1 63.34 427.22" fill="none" stroke="#c4c6c6" stroke-width="0.4"/><circle cx="65.50" cy="427.63" r="0.87" fill="#565858" stroke="#141414" stroke-width="0.6"/><path d="M65.18 427.06 A0.65 0.65 0 0 1 66.12 427.44" fill="none" stroke="#c4c6c6" stroke-width="0.4"/><circle cx="63.13" cy="428.75" r="1.29" fill="#565858" stroke="#141414" stroke-width="0.6"/><path d="M62.33 429.30 A0.97 0.97 0 0 1 62.77 427.85" fill="none" stroke="#c4c6c6" stroke-width="0.4"/><circle cx="49.54" cy="423.38" r="2.31" fill="#4a5050" stroke="#1a1a1a" stroke-width="0.55"/><circle cx="49.54" cy="423.38" r="2.91" fill="none" stroke="#7a7e7e" stroke-width="0.55"/><circle cx="61.08" cy="424.92" r="2.15" fill="#4a5050" stroke="#1a1a1a" stroke-width="0.55"/><circle cx="61.08" cy="424.92" r="2.75" fill="none" stroke="#7a7e7e" stroke-width="0.55"/><circle cx="56.46" cy="424.92" r="1.54" fill="#4a5050" stroke="#1a1a1a" stroke-width="0.55"/><circle cx="56.46" cy="424.92" r="2.14" fill="none" stroke="#7a7e7e" stroke-width="0.55"/><circle cx="44.92" cy="424.15" r="1.85" fill="#4a5050" stroke="#1a1a1a" stroke-width="0.55"/><circle cx="44.92" cy="424.15" r="2.45" fill="none" stroke="#7a7e7e" stroke-width="0.55"/><circle cx="64.15" cy="430.31" r="1.54" fill="#4a5050" stroke="#1a1a1a" stroke-width="0.55"/><circle cx="64.15" cy="430.31" r="2.14" fill="none" stroke="#7a7e7e" stroke-width="0.55"/><circle cx="47.47" cy="415.59" r="1.30" fill="#22d4dc"/><circle cx="48.05" cy="415.02" r="1.20" fill="#22d4dc"/><circle cx="47.94" cy="415.00" r="1.27" fill="#22d4dc"/><circle cx="46.64" cy="414.88" r="1.40" fill="#22d4dc"/><circle cx="51.08" cy="415.69" r="1.54" fill="#f2ec3a"/><circle cx="53.99" cy="418.66" r="1.13" fill="#22d4dc"/><circle cx="54.28" cy="419.00" r="1.13" fill="#22d4dc"/><circle cx="53.91" cy="419.32" r="1.37" fill="#22d4dc"/><circle cx="46.46" cy="419.54" r="1.54" fill="#f2ec3a"/><circle cx="47.19" cy="422.39" r="1.47" fill="#22d4dc"/><circle cx="47.14" cy="421.88" r="1.36" fill="#22d4dc"/><circle cx="48.24" cy="421.10" r="1.64" fill="#22d4dc"/><circle cx="46.00" cy="426.46" r="1.54" fill="#f2ec3a"/><circle cx="52.03" cy="426.84" r="1.60" fill="#22d4dc"/><circle cx="52.08" cy="427.81" r="1.27" fill="#22d4dc"/><circle cx="51.68" cy="426.52" r="1.39" fill="#22d4dc"/><circle cx="53.38" cy="428.00" r="1.38" fill="#f2ec3a"/><circle cx="57.08" cy="429.23" r="1.08" fill="#22d4dc"/><circle cx="55.80" cy="429.42" r="1.07" fill="#22d4dc"/><circle cx="56.77" cy="430.04" r="1.11" fill="#22d4dc"/><circle cx="56.19" cy="430.19" r="1.32" fill="#22d4dc"/><circle cx="57.94" cy="422.91" r="1.13" fill="#22d4dc"/><circle cx="59.11" cy="421.64" r="1.05" fill="#22d4dc"/><circle cx="59.56" cy="422.71" r="1.40" fill="#22d4dc"/><circle cx="59.23" cy="421.08" r="0.92" fill="#f2ec3a"/><circle cx="63.85" cy="427.54" r="1.85" fill="#f2ec3a"/><circle cx="66.02" cy="428.00" r="1.28" fill="#22d4dc"/><circle cx="65.49" cy="426.53" r="1.24" fill="#22d4dc"/><circle cx="66.78" cy="426.58" r="1.15" fill="#22d4dc"/><circle cx="66.15" cy="427.89" r="1.11" fill="#22d4dc"/><circle cx="69.52" cy="428.33" r="0.84" fill="#22d4dc"/><circle cx="70.33" cy="428.35" r="1.05" fill="#22d4dc"/><circle cx="69.98" cy="428.51" r="0.85" fill="#22d4dc"/><circle cx="47.83" cy="429.67" r="1.14" fill="#22d4dc"/><circle cx="47.27" cy="431.01" r="1.20" fill="#22d4dc"/><circle cx="47.65" cy="430.95" r="1.13" fill="#22d4dc"/><circle cx="48.22" cy="430.07" r="1.24" fill="#22d4dc"/><circle cx="58.00" cy="431.08" r="0.92" fill="#f2ec3a"/><circle cx="78.86" cy="429.73" r="1.00" fill="#22d4dc"/><circle cx="78.27" cy="430.13" r="0.96" fill="#22d4dc"/><circle cx="77.86" cy="430.31" r="1.01" fill="#22d4dc"/><circle cx="47.23" cy="435.69" r="1.85" fill="#4a5050" stroke="#1a1a1a" stroke-width="0.55"/><circle cx="47.23" cy="435.69" r="2.45" fill="none" stroke="#7a7e7e" stroke-width="0.55"/><circle cx="54.95" cy="435.43" r="1.09" fill="#22d4dc"/><circle cx="53.51" cy="434.54" r="1.14" fill="#22d4dc"/><circle cx="68.77" cy="436.46" r="1.85" fill="#4a5050" stroke="#1a1a1a" stroke-width="0.55"/><circle cx="68.77" cy="436.46" r="2.45" fill="none" stroke="#7a7e7e" stroke-width="0.55"/><circle cx="68.02" cy="436.15" r="1.22" fill="#22d4dc"/><circle cx="67.73" cy="436.42" r="1.19" fill="#22d4dc"/><circle cx="66.55" cy="435.22" r="1.17" fill="#22d4dc"/><circle cx="93.92" cy="438.73" r="1.27" fill="#22d4dc"/><circle cx="94.30" cy="438.26" r="1.37" fill="#22d4dc"/><circle cx="92.75" cy="437.35" r="1.34" fill="#22d4dc"/><circle cx="93.90" cy="438.62" r="1.22" fill="#22d4dc"/><circle cx="63.85" cy="443.26" r="1.64" fill="#22d4dc"/><circle cx="62.95" cy="443.18" r="1.34" fill="#22d4dc"/><circle cx="45.69" cy="444.15" r="1.85" fill="#4a5050" stroke="#1a1a1a" stroke-width="0.55"/><circle cx="45.69" cy="444.15" r="2.45" fill="none" stroke="#7a7e7e" stroke-width="0.55"/><circle cx="48.83" cy="445.15" r="1.39" fill="#22d4dc"/><circle cx="47.45" cy="445.47" r="1.05" fill="#22d4dc"/><circle cx="45.07" cy="448.91" r="1.22" fill="#22d4dc"/><circle cx="46.63" cy="449.56" r="1.31" fill="#22d4dc"/><circle cx="80.82" cy="454.22" r="1.05" fill="#22d4dc"/><circle cx="81.07" cy="455.09" r="0.91" fill="#22d4dc"/><circle cx="93.38" cy="453.38" r="1.54" fill="#f2ec3a"/></g><text x="19.7" y="382.90000000000003" font-size="4.4" fill="#e2e2e2">00:31:30.080</text><text x="70.6" y="455.90000000000003" font-size="5.6" fill="#e8e8e8">0</text><text x="81.1" y="455.90000000000003" font-size="5.6" fill="#e8e8e8">μm</text><text x="90.1" y="455.90000000000003" font-size="5.6" fill="#e8e8e8">50</text></g><rect x="43.4" y="395.2" width="38.1" height="37.9" fill="none" stroke="#fff" stroke-width="1.6"/><clipPath id="cp1"><rect x="101.0" y="378.3" width="79.5" height="80.0"/></clipPath><g clip-path="url(#cp1)"><rect x="101.00" y="378.30" width="79.50" height="80.00" fill="#464c4c"/><g filter="url(#bl)"><circle cx="134.08" cy="384.15" r="1.54" fill="#f2ec3a"/><circle cx="138.03" cy="383.48" r="1.21" fill="#22d4dc"/><circle cx="138.26" cy="382.12" r="1.37" fill="#22d4dc"/><circle cx="137.79" cy="383.18" r="1.27" fill="#22d4dc"/><circle cx="135.62" cy="384.92" r="1.23" fill="#f2ec3a"/><circle cx="142.62" cy="380.51" r="0.79" fill="#22d4dc"/><circle cx="142.21" cy="379.81" r="0.87" fill="#22d4dc"/><circle cx="142.64" cy="380.34" r="0.79" fill="#22d4dc"/><circle cx="162.93" cy="387.01" r="1.37" fill="#22d4dc"/><circle cx="162.38" cy="387.90" r="1.45" fill="#22d4dc"/><circle cx="163.31" cy="393.08" r="1.38" fill="#f2ec3a"/><circle cx="150.23" cy="387.54" r="0.77" fill="#f2ec3a"/><circle cx="138.60" cy="394.88" r="1.38" fill="#22d4dc"/><circle cx="138.42" cy="395.41" r="1.37" fill="#22d4dc"/><circle cx="137.92" cy="393.38" r="0.92" fill="#f2ec3a"/><circle cx="121.52" cy="403.82" r="1.44" fill="#22d4dc"/><circle cx="120.91" cy="405.71" r="1.66" fill="#22d4dc"/><circle cx="122.54" cy="406.46" r="0.92" fill="#f2ec3a"/><circle cx="134.08" cy="408.00" r="1.85" fill="#4a5050" stroke="#1a1a1a" stroke-width="0.55"/><circle cx="134.08" cy="408.00" r="2.45" fill="none" stroke="#7a7e7e" stroke-width="0.55"/><circle cx="171.49" cy="407.48" r="1.18" fill="#22d4dc"/><circle cx="170.95" cy="407.89" r="1.13" fill="#22d4dc"/><circle cx="170.58" cy="406.77" r="0.97" fill="#22d4dc"/><circle cx="172.54" cy="406.46" r="0.92" fill="#f2ec3a"/><circle cx="107.15" cy="414.15" r="1.85" fill="#f2ec3a"/><circle cx="108.04" cy="417.44" r="1.21" fill="#22d4dc"/><circle cx="108.48" cy="416.55" r="1.22" fill="#22d4dc"/><circle cx="107.25" cy="416.68" r="1.09" fill="#22d4dc"/><circle cx="106.38" cy="415.69" r="1.54" fill="#f2ec3a"/><circle cx="114.85" cy="414.15" r="1.85" fill="#4a5050" stroke="#1a1a1a" stroke-width="0.55"/><circle cx="114.85" cy="414.15" r="2.45" fill="none" stroke="#7a7e7e" stroke-width="0.55"/><circle cx="119.97" cy="413.95" r="0.69" fill="#22d4dc"/><circle cx="120.04" cy="414.08" r="0.71" fill="#22d4dc"/><circle cx="120.60" cy="413.55" r="0.62" fill="#22d4dc"/><circle cx="123.30" cy="423.98" r="1.18" fill="#22d4dc"/><circle cx="123.72" cy="422.95" r="1.38" fill="#22d4dc"/><circle cx="123.34" cy="422.42" r="1.14" fill="#22d4dc"/><circle cx="129.85" cy="424.26" r="1.52" fill="#22d4dc"/><circle cx="129.46" cy="425.68" r="1.35" fill="#22d4dc"/><circle cx="128.69" cy="427.23" r="1.08" fill="#f2ec3a"/><circle cx="108.38" cy="425.69" r="0.62" fill="#f2ec3a"/><circle cx="147.92" cy="431.08" r="4.29" fill="#1a1a1a" stroke="#1a1a1a" stroke-width="1.4"/><circle cx="148.83" cy="433.37" r="4.11" fill="#1a1a1a" stroke="#1a1a1a" stroke-width="1.4"/><circle cx="150.10" cy="429.14" r="3.77" fill="#1a1a1a" stroke="#1a1a1a" stroke-width="1.4"/><circle cx="150.54" cy="429.50" r="3.69" fill="#1a1a1a" stroke="#1a1a1a" stroke-width="1.4"/><circle cx="147.52" cy="428.99" r="3.88" fill="#1a1a1a" stroke="#1a1a1a" stroke-width="1.4"/><circle cx="145.20" cy="431.95" r="3.78" fill="#1a1a1a" stroke="#1a1a1a" stroke-width="1.4"/><circle cx="147.92" cy="431.08" r="4.29" fill="#535555"/><circle cx="148.83" cy="433.37" r="4.11" fill="#535555"/><circle cx="150.10" cy="429.14" r="3.77" fill="#535555"/><circle cx="150.54" cy="429.50" r="3.69" fill="#535555"/><circle cx="147.52" cy="428.99" r="3.88" fill="#535555"/><circle cx="145.20" cy="431.95" r="3.78" fill="#535555"/><circle cx="147.65" cy="432.27" r="1.88" fill="#565858" stroke="#141414" stroke-width="0.6"/><path d="M148.63 433.28 A1.41 1.41 0 0 1 146.44 433.00" fill="none" stroke="#c4c6c6" stroke-width="0.4"/><circle cx="144.73" cy="431.64" r="1.40" fill="#565858" stroke="#141414" stroke-width="0.6"/><path d="M144.65 430.59 A1.05 1.05 0 0 1 145.77 431.81" fill="none" stroke="#c4c6c6" stroke-width="0.4"/><circle cx="150.72" cy="430.66" r="1.68" fill="#565858" stroke="#141414" stroke-width="0.6"/><path d="M150.32 431.85 A1.26 1.26 0 0 1 149.64 430.00" fill="none" stroke="#c4c6c6" stroke-width="0.4"/><circle cx="144.67" cy="429.85" r="1.30" fill="#565858" stroke="#141414" stroke-width="0.6"/><path d="M145.18 430.68 A0.98 0.98 0 0 1 143.74 430.16" fill="none" stroke="#c4c6c6" stroke-width="0.4"/><circle cx="149.30" cy="436.16" r="1.56" fill="#565858" stroke="#141414" stroke-width="0.6"/><path d="M149.52 437.31 A1.17 1.17 0 0 1 148.14 436.12" fill="none" stroke="#c4c6c6" stroke-width="0.4"/><circle cx="152.52" cy="428.01" r="1.52" fill="#565858" stroke="#141414" stroke-width="0.6"/><path d="M153.25 428.88 A1.14 1.14 0 0 1 151.50 428.52" fill="none" stroke="#c4c6c6" stroke-width="0.4"/><circle cx="148.51" cy="432.64" r="1.44" fill="#565858" stroke="#141414" stroke-width="0.6"/><path d="M149.42 433.22 A1.08 1.08 0 0 1 147.74 433.39" fill="none" stroke="#c4c6c6" stroke-width="0.4"/><circle cx="147.15" cy="428.77" r="2.15" fill="#4a5050" stroke="#1a1a1a" stroke-width="0.55"/><circle cx="147.15" cy="428.77" r="2.75" fill="none" stroke="#7a7e7e" stroke-width="0.55"/><circle cx="154.08" cy="425.69" r="1.54" fill="#4a5050" stroke="#1a1a1a" stroke-width="0.55"/><circle cx="154.08" cy="425.69" r="2.14" fill="none" stroke="#7a7e7e" stroke-width="0.55"/><circle cx="142.54" cy="431.08" r="1.85" fill="#4a5050" stroke="#1a1a1a" stroke-width="0.55"/><circle cx="142.54" cy="431.08" r="2.45" fill="none" stroke="#7a7e7e" stroke-width="0.55"/><circle cx="151.77" cy="438.77" r="1.85" fill="#4a5050" stroke="#1a1a1a" stroke-width="0.55"/><circle cx="151.77" cy="438.77" r="2.45" fill="none" stroke="#7a7e7e" stroke-width="0.55"/><circle cx="146.52" cy="429.46" r="1.11" fill="#22d4dc"/><circle cx="148.12" cy="428.89" r="1.18" fill="#22d4dc"/><circle cx="147.14" cy="428.11" r="1.13" fill="#22d4dc"/><circle cx="149.56" cy="428.01" r="0.93" fill="#22d4dc"/><circle cx="149.98" cy="427.40" r="1.06" fill="#22d4dc"/><circle cx="147.92" cy="431.85" r="0.92" fill="#f2ec3a"/><circle cx="146.44" cy="436.23" r="1.18" fill="#22d4dc"/><circle cx="145.15" cy="435.08" r="1.15" fill="#22d4dc"/><circle cx="146.02" cy="434.76" r="1.08" fill="#22d4dc"/><circle cx="151.52" cy="433.97" r="1.21" fill="#22d4dc"/><circle cx="151.29" cy="434.63" r="1.18" fill="#22d4dc"/><circle cx="152.62" cy="434.50" r="1.35" fill="#22d4dc"/><circle cx="152.44" cy="434.81" r="1.07" fill="#22d4dc"/><circle cx="153.00" cy="436.46" r="0.92" fill="#f2ec3a"/><circle cx="178.69" cy="427.23" r="1.23" fill="#f2ec3a"/><circle cx="126.91" cy="437.21" r="0.97" fill="#22d4dc"/><circle cx="126.75" cy="435.75" r="1.22" fill="#22d4dc"/><circle cx="126.81" cy="436.13" r="1.19" fill="#22d4dc"/><circle cx="129.58" cy="435.56" r="1.24" fill="#22d4dc"/><circle cx="129.07" cy="435.65" r="0.97" fill="#22d4dc"/><circle cx="115.63" cy="440.94" r="1.32" fill="#22d4dc"/><circle cx="116.96" cy="441.49" r="1.39" fill="#22d4dc"/><circle cx="116.63" cy="441.72" r="1.33" fill="#22d4dc"/><circle cx="145.62" cy="442.62" r="0.77" fill="#f2ec3a"/><circle cx="152.47" cy="448.05" r="1.21" fill="#22d4dc"/><circle cx="152.61" cy="447.78" r="1.36" fill="#22d4dc"/><circle cx="135.43" cy="448.97" r="0.83" fill="#22d4dc"/><circle cx="135.49" cy="449.44" r="0.84" fill="#22d4dc"/><circle cx="136.35" cy="449.81" r="1.02" fill="#22d4dc"/><circle cx="136.54" cy="449.34" r="0.95" fill="#22d4dc"/><circle cx="172.54" cy="446.46" r="1.54" fill="#f2ec3a"/><circle cx="174.16" cy="449.34" r="1.16" fill="#22d4dc"/><circle cx="173.30" cy="449.19" r="1.11" fill="#22d4dc"/><circle cx="174.34" cy="447.90" r="1.22" fill="#22d4dc"/><circle cx="106.38" cy="453.38" r="1.85" fill="#f2ec3a"/><circle cx="103.55" cy="454.94" r="1.06" fill="#22d4dc"/><circle cx="104.29" cy="455.51" r="0.91" fill="#22d4dc"/><circle cx="104.45" cy="454.61" r="1.01" fill="#22d4dc"/><circle cx="176.37" cy="452.81" r="1.65" fill="#22d4dc"/><circle cx="176.56" cy="453.74" r="1.65" fill="#22d4dc"/><circle cx="176.26" cy="453.62" r="1.51" fill="#22d4dc"/><circle cx="176.38" cy="456.46" r="1.23" fill="#f2ec3a"/><circle cx="178.48" cy="455.11" r="1.18" fill="#22d4dc"/><circle cx="178.71" cy="454.34" r="1.31" fill="#22d4dc"/><circle cx="178.92" cy="454.91" r="1.16" fill="#22d4dc"/><circle cx="178.32" cy="455.84" r="1.31" fill="#22d4dc"/><circle cx="160.23" cy="419.23" r="0.62" fill="#f2ec3a"/></g><text x="102.3" y="382.90000000000003" font-size="4.4" fill="#e2e2e2">00:31:30.005</text><text x="153.5" y="455.90000000000003" font-size="5.6" fill="#e8e8e8">0</text><text x="164.0" y="455.90000000000003" font-size="5.6" fill="#e8e8e8">μm</text><text x="173.0" y="455.90000000000003" font-size="5.6" fill="#e8e8e8">50</text></g><rect x="123.8" y="413.7" width="38.4" height="37.8" fill="none" stroke="#fff" stroke-width="1.6"/><clipPath id="cp2"><rect x="183.5" y="378.3" width="80.0" height="80.0"/></clipPath><g clip-path="url(#cp2)"><rect x="183.50" y="378.30" width="80.00" height="80.00" fill="#464c4c"/><g filter="url(#bl)"><circle cx="196.31" cy="394.92" r="2.77" fill="#4a5050" stroke="#1a1a1a" stroke-width="0.55"/><circle cx="196.31" cy="394.92" r="3.37" fill="none" stroke="#7a7e7e" stroke-width="0.55"/><circle cx="207.08" cy="387.23" r="2.77" fill="#4a5050" stroke="#1a1a1a" stroke-width="0.55"/><circle cx="207.08" cy="387.23" r="3.37" fill="none" stroke="#7a7e7e" stroke-width="0.55"/><circle cx="216.31" cy="382.62" r="2.77" fill="#4a5050" stroke="#1a1a1a" stroke-width="0.55"/><circle cx="216.31" cy="382.62" r="3.37" fill="none" stroke="#7a7e7e" stroke-width="0.55"/><circle cx="226.31" cy="382.62" r="2.77" fill="#4a5050" stroke="#1a1a1a" stroke-width="0.55"/><circle cx="226.31" cy="382.62" r="3.37" fill="none" stroke="#7a7e7e" stroke-width="0.55"/><circle cx="235.54" cy="390.31" r="2.77" fill="#4a5050" stroke="#1a1a1a" stroke-width="0.55"/><circle cx="235.54" cy="390.31" r="3.37" fill="none" stroke="#7a7e7e" stroke-width="0.55"/><circle cx="228.62" cy="393.38" r="2.77" fill="#4a5050" stroke="#1a1a1a" stroke-width="0.55"/><circle cx="228.62" cy="393.38" r="3.37" fill="none" stroke="#7a7e7e" stroke-width="0.55"/><circle cx="187.08" cy="408.00" r="2.77" fill="#4a5050" stroke="#1a1a1a" stroke-width="0.55"/><circle cx="187.08" cy="408.00" r="3.37" fill="none" stroke="#7a7e7e" stroke-width="0.55"/><circle cx="194.00" cy="405.69" r="2.77" fill="#4a5050" stroke="#1a1a1a" stroke-width="0.55"/><circle cx="194.00" cy="405.69" r="3.37" fill="none" stroke="#7a7e7e" stroke-width="0.55"/><circle cx="203.23" cy="409.54" r="2.77" fill="#4a5050" stroke="#1a1a1a" stroke-width="0.55"/><circle cx="203.23" cy="409.54" r="3.37" fill="none" stroke="#7a7e7e" stroke-width="0.55"/><circle cx="188.62" cy="421.08" r="2.77" fill="#4a5050" stroke="#1a1a1a" stroke-width="0.55"/><circle cx="188.62" cy="421.08" r="3.37" fill="none" stroke="#7a7e7e" stroke-width="0.55"/><circle cx="217.08" cy="411.08" r="2.77" fill="#4a5050" stroke="#1a1a1a" stroke-width="0.55"/><circle cx="217.08" cy="411.08" r="3.37" fill="none" stroke="#7a7e7e" stroke-width="0.55"/><circle cx="224.00" cy="408.77" r="2.77" fill="#4a5050" stroke="#1a1a1a" stroke-width="0.55"/><circle cx="224.00" cy="408.77" r="3.37" fill="none" stroke="#7a7e7e" stroke-width="0.55"/><circle cx="214.77" cy="419.54" r="2.77" fill="#4a5050" stroke="#1a1a1a" stroke-width="0.55"/><circle cx="214.77" cy="419.54" r="3.37" fill="none" stroke="#7a7e7e" stroke-width="0.55"/><circle cx="221.69" cy="418.77" r="2.77" fill="#4a5050" stroke="#1a1a1a" stroke-width="0.55"/><circle cx="221.69" cy="418.77" r="3.37" fill="none" stroke="#7a7e7e" stroke-width="0.55"/><circle cx="231.69" cy="427.23" r="2.77" fill="#4a5050" stroke="#1a1a1a" stroke-width="0.55"/><circle cx="231.69" cy="427.23" r="3.37" fill="none" stroke="#7a7e7e" stroke-width="0.55"/><circle cx="220.92" cy="428.00" r="2.77" fill="#4a5050" stroke="#1a1a1a" stroke-width="0.55"/><circle cx="220.92" cy="428.00" r="3.37" fill="none" stroke="#7a7e7e" stroke-width="0.55"/><circle cx="210.92" cy="431.85" r="2.77" fill="#4a5050" stroke="#1a1a1a" stroke-width="0.55"/><circle cx="210.92" cy="431.85" r="3.37" fill="none" stroke="#7a7e7e" stroke-width="0.55"/><circle cx="195.54" cy="428.00" r="2.77" fill="#4a5050" stroke="#1a1a1a" stroke-width="0.55"/><circle cx="195.54" cy="428.00" r="3.37" fill="none" stroke="#7a7e7e" stroke-width="0.55"/><circle cx="204.77" cy="425.69" r="2.77" fill="#4a5050" stroke="#1a1a1a" stroke-width="0.55"/><circle cx="204.77" cy="425.69" r="3.37" fill="none" stroke="#7a7e7e" stroke-width="0.55"/><circle cx="257.08" cy="414.92" r="2.77" fill="#4a5050" stroke="#1a1a1a" stroke-width="0.55"/><circle cx="257.08" cy="414.92" r="3.37" fill="none" stroke="#7a7e7e" stroke-width="0.55"/><circle cx="260.15" cy="401.85" r="2.77" fill="#4a5050" stroke="#1a1a1a" stroke-width="0.55"/><circle cx="260.15" cy="401.85" r="3.37" fill="none" stroke="#7a7e7e" stroke-width="0.55"/><circle cx="251.69" cy="392.62" r="2.77" fill="#4a5050" stroke="#1a1a1a" stroke-width="0.55"/><circle cx="251.69" cy="392.62" r="3.37" fill="none" stroke="#7a7e7e" stroke-width="0.55"/><circle cx="257.85" cy="394.15" r="2.77" fill="#4a5050" stroke="#1a1a1a" stroke-width="0.55"/><circle cx="257.85" cy="394.15" r="3.37" fill="none" stroke="#7a7e7e" stroke-width="0.55"/><circle cx="240.15" cy="444.15" r="2.77" fill="#4a5050" stroke="#1a1a1a" stroke-width="0.55"/><circle cx="240.15" cy="444.15" r="3.37" fill="none" stroke="#7a7e7e" stroke-width="0.55"/><circle cx="244.00" cy="441.85" r="2.77" fill="#4a5050" stroke="#1a1a1a" stroke-width="0.55"/><circle cx="244.00" cy="441.85" r="3.37" fill="none" stroke="#7a7e7e" stroke-width="0.55"/><circle cx="234.00" cy="441.08" r="2.77" fill="#4a5050" stroke="#1a1a1a" stroke-width="0.55"/><circle cx="234.00" cy="441.08" r="3.37" fill="none" stroke="#7a7e7e" stroke-width="0.55"/><circle cx="207.85" cy="449.54" r="2.77" fill="#4a5050" stroke="#1a1a1a" stroke-width="0.55"/><circle cx="207.85" cy="449.54" r="3.37" fill="none" stroke="#7a7e7e" stroke-width="0.55"/><circle cx="228.62" cy="450.31" r="2.77" fill="#4a5050" stroke="#1a1a1a" stroke-width="0.55"/><circle cx="228.62" cy="450.31" r="3.37" fill="none" stroke="#7a7e7e" stroke-width="0.55"/><circle cx="256.31" cy="451.08" r="2.77" fill="#4a5050" stroke="#1a1a1a" stroke-width="0.55"/><circle cx="256.31" cy="451.08" r="3.37" fill="none" stroke="#7a7e7e" stroke-width="0.55"/><circle cx="186.31" cy="414.92" r="2.77" fill="#4a5050" stroke="#1a1a1a" stroke-width="0.55"/><circle cx="186.31" cy="414.92" r="3.37" fill="none" stroke="#7a7e7e" stroke-width="0.55"/><circle cx="248.62" cy="384.15" r="2.77" fill="#4a5050" stroke="#1a1a1a" stroke-width="0.55"/><circle cx="248.62" cy="384.15" r="3.37" fill="none" stroke="#7a7e7e" stroke-width="0.55"/><circle cx="256.31" cy="382.62" r="2.77" fill="#4a5050" stroke="#1a1a1a" stroke-width="0.55"/><circle cx="256.31" cy="382.62" r="3.37" fill="none" stroke="#7a7e7e" stroke-width="0.55"/><circle cx="260.92" cy="387.23" r="2.77" fill="#4a5050" stroke="#1a1a1a" stroke-width="0.55"/><circle cx="260.92" cy="387.23" r="3.37" fill="none" stroke="#7a7e7e" stroke-width="0.55"/><circle cx="186.07" cy="398.59" r="0.94" fill="#22d4dc"/><circle cx="186.84" cy="397.95" r="0.75" fill="#22d4dc"/><circle cx="188.53" cy="397.66" r="0.83" fill="#22d4dc"/><circle cx="189.05" cy="397.66" r="0.67" fill="#22d4dc"/><circle cx="194.83" cy="411.35" r="0.93" fill="#22d4dc"/><circle cx="195.30" cy="412.17" r="0.77" fill="#22d4dc"/><circle cx="194.25" cy="411.71" r="0.81" fill="#22d4dc"/><circle cx="196.75" cy="410.39" r="0.80" fill="#22d4dc"/><circle cx="196.34" cy="409.96" r="0.63" fill="#22d4dc"/><circle cx="196.86" cy="410.54" r="0.68" fill="#22d4dc"/><circle cx="196.30" cy="409.72" r="0.70" fill="#22d4dc"/><circle cx="202.92" cy="391.60" r="0.63" fill="#22d4dc"/><circle cx="203.22" cy="390.55" r="0.83" fill="#22d4dc"/><circle cx="203.07" cy="391.59" r="0.75" fill="#22d4dc"/><circle cx="208.31" cy="392.69" r="0.85" fill="#22d4dc"/><circle cx="208.53" cy="392.43" r="0.82" fill="#22d4dc"/><circle cx="204.49" cy="384.63" r="0.65" fill="#22d4dc"/><circle cx="203.66" cy="384.93" r="0.83" fill="#22d4dc"/><circle cx="203.82" cy="385.43" r="0.65" fill="#22d4dc"/><circle cx="221.46" cy="380.75" r="0.82" fill="#22d4dc"/><circle cx="221.78" cy="379.90" r="0.77" fill="#22d4dc"/><circle cx="221.70" cy="379.83" r="0.74" fill="#22d4dc"/><circle cx="225.05" cy="381.13" r="0.66" fill="#22d4dc"/><circle cx="225.21" cy="381.24" r="0.64" fill="#22d4dc"/><circle cx="233.35" cy="379.98" r="0.84" fill="#22d4dc"/><circle cx="233.61" cy="379.47" r="0.65" fill="#22d4dc"/><circle cx="245.09" cy="379.12" r="0.92" fill="#22d4dc"/><circle cx="245.89" cy="379.04" r="0.75" fill="#22d4dc"/><circle cx="245.80" cy="379.13" r="0.87" fill="#22d4dc"/><circle cx="245.09" cy="379.99" r="0.77" fill="#22d4dc"/><circle cx="256.52" cy="384.65" r="0.91" fill="#22d4dc"/><circle cx="256.74" cy="383.87" r="0.85" fill="#22d4dc"/><circle cx="256.30" cy="384.70" r="0.98" fill="#22d4dc"/><circle cx="258.97" cy="392.02" r="0.75" fill="#22d4dc"/><circle cx="258.73" cy="392.72" r="0.94" fill="#22d4dc"/><circle cx="248.25" cy="398.87" r="0.65" fill="#22d4dc"/><circle cx="248.07" cy="399.34" r="0.75" fill="#22d4dc"/><circle cx="248.25" cy="398.58" r="0.81" fill="#22d4dc"/><circle cx="261.17" cy="401.45" r="0.90" fill="#22d4dc"/><circle cx="262.30" cy="401.87" r="0.91" fill="#22d4dc"/><circle cx="261.45" cy="402.18" r="0.81" fill="#22d4dc"/><circle cx="262.39" cy="402.04" r="0.73" fill="#22d4dc"/><circle cx="216.57" cy="402.01" r="0.83" fill="#22d4dc"/><circle cx="215.89" cy="403.05" r="0.74" fill="#22d4dc"/><circle cx="216.85" cy="402.72" r="0.85" fill="#22d4dc"/><circle cx="225.90" cy="407.50" r="0.74" fill="#22d4dc"/><circle cx="225.31" cy="406.95" r="0.66" fill="#22d4dc"/><circle cx="225.39" cy="406.80" r="0.68" fill="#22d4dc"/><circle cx="225.32" cy="407.80" r="0.69" fill="#22d4dc"/><circle cx="211.40" cy="410.48" r="0.79" fill="#22d4dc"/><circle cx="211.86" cy="409.82" r="0.71" fill="#22d4dc"/><circle cx="211.19" cy="410.65" r="0.72" fill="#22d4dc"/><circle cx="216.57" cy="412.88" r="0.71" fill="#22d4dc"/><circle cx="217.42" cy="412.30" r="0.66" fill="#22d4dc"/><circle cx="217.57" cy="412.66" r="0.76" fill="#22d4dc"/><circle cx="214.43" cy="419.81" r="0.70" fill="#22d4dc"/><circle cx="213.62" cy="419.53" r="0.68" fill="#22d4dc"/><circle cx="213.41" cy="419.46" r="0.64" fill="#22d4dc"/><circle cx="213.44" cy="419.57" r="0.84" fill="#22d4dc"/><circle cx="220.74" cy="419.31" r="0.63" fill="#22d4dc"/><circle cx="221.29" cy="418.55" r="0.76" fill="#22d4dc"/><circle cx="220.69" cy="418.50" r="0.78" fill="#22d4dc"/><circle cx="229.66" cy="415.87" r="1.01" fill="#22d4dc"/><circle cx="229.76" cy="416.12" r="0.97" fill="#22d4dc"/><circle cx="229.73" cy="416.28" r="1.11" fill="#22d4dc"/><circle cx="239.83" cy="422.91" r="0.79" fill="#22d4dc"/><circle cx="240.05" cy="421.94" r="0.73" fill="#22d4dc"/><circle cx="239.56" cy="422.37" r="0.73" fill="#22d4dc"/><circle cx="205.27" cy="426.15" r="0.99" fill="#22d4dc"/><circle cx="204.37" cy="425.29" r="0.95" fill="#22d4dc"/><circle cx="204.24" cy="425.39" r="1.02" fill="#22d4dc"/><circle cx="195.85" cy="428.76" r="0.72" fill="#22d4dc"/><circle cx="196.85" cy="428.72" r="0.84" fill="#22d4dc"/><circle cx="195.82" cy="428.32" r="0.94" fill="#22d4dc"/><circle cx="196.50" cy="428.28" r="0.74" fill="#22d4dc"/><circle cx="188.29" cy="426.62" r="0.72" fill="#22d4dc"/><circle cx="188.27" cy="426.44" r="0.76" fill="#22d4dc"/><circle cx="189.09" cy="426.73" r="0.79" fill="#22d4dc"/><circle cx="212.22" cy="434.34" r="0.82" fill="#22d4dc"/><circle cx="212.11" cy="434.02" r="0.95" fill="#22d4dc"/><circle cx="216.52" cy="432.42" r="0.73" fill="#22d4dc"/><circle cx="216.88" cy="431.69" r="0.66" fill="#22d4dc"/><circle cx="222.86" cy="434.33" r="0.79" fill="#22d4dc"/><circle cx="222.78" cy="434.65" r="0.68" fill="#22d4dc"/><circle cx="222.61" cy="433.81" r="0.73" fill="#22d4dc"/><circle cx="241.83" cy="435.45" r="0.98" fill="#22d4dc"/><circle cx="241.50" cy="435.34" r="0.88" fill="#22d4dc"/><circle cx="242.12" cy="435.60" r="1.03" fill="#22d4dc"/><circle cx="242.10" cy="434.61" r="1.06" fill="#22d4dc"/><circle cx="239.43" cy="439.90" r="0.95" fill="#22d4dc"/><circle cx="239.92" cy="440.19" r="0.86" fill="#22d4dc"/><circle cx="243.99" cy="444.72" r="0.95" fill="#22d4dc"/><circle cx="243.96" cy="443.64" r="0.82" fill="#22d4dc"/><circle cx="234.38" cy="444.72" r="0.79" fill="#22d4dc"/><circle cx="234.41" cy="445.06" r="0.79" fill="#22d4dc"/><circle cx="235.31" cy="445.09" r="0.68" fill="#22d4dc"/><circle cx="207.78" cy="449.67" r="0.78" fill="#22d4dc"/><circle cx="207.69" cy="450.89" r="0.83" fill="#22d4dc"/><circle cx="207.58" cy="450.62" r="0.85" fill="#22d4dc"/><circle cx="227.47" cy="450.36" r="0.82" fill="#22d4dc"/><circle cx="227.48" cy="450.62" r="0.78" fill="#22d4dc"/><circle cx="228.28" cy="390.10" r="0.76" fill="#22d4dc"/><circle cx="228.24" cy="390.37" r="0.83" fill="#22d4dc"/><circle cx="228.63" cy="390.69" r="0.64" fill="#22d4dc"/><circle cx="235.92" cy="389.13" r="0.71" fill="#22d4dc"/><circle cx="235.51" cy="389.88" r="0.76" fill="#22d4dc"/><circle cx="235.14" cy="389.37" r="0.76" fill="#22d4dc"/><circle cx="199.00" cy="396.94" r="0.73" fill="#22d4dc"/><circle cx="199.56" cy="397.52" r="0.63" fill="#22d4dc"/><circle cx="199.77" cy="397.29" r="0.66" fill="#22d4dc"/><circle cx="199.70" cy="397.04" r="0.76" fill="#22d4dc"/><circle cx="258.09" cy="413.69" r="0.76" fill="#22d4dc"/><circle cx="257.33" cy="413.36" r="0.80" fill="#22d4dc"/><circle cx="258.04" cy="413.76" r="0.69" fill="#22d4dc"/><circle cx="259.93" cy="431.83" r="0.73" fill="#22d4dc"/><circle cx="258.95" cy="431.74" r="0.72" fill="#22d4dc"/><path d="M230.92 410.31 L232.46 414.92 L234.77 418.77 L237.08 423.38" fill="none" stroke="#f2ec3a" stroke-width="2.3" stroke-linecap="round" stroke-linejoin="round"/><path d="M233.23 416.46 L237.08 421.08 L240.92 418.00 L244.00 416.46" fill="none" stroke="#f2ec3a" stroke-width="2.3" stroke-linecap="round" stroke-linejoin="round"/><path d="M204.00 394.15 L208.62 396.46 L210.92 398.77" fill="none" stroke="#f2ec3a" stroke-width="2.3" stroke-linecap="round" stroke-linejoin="round"/><circle cx="241.69" cy="428.77" r="0.77" fill="#f2ec3a"/><circle cx="195.54" cy="411.08" r="0.77" fill="#f2ec3a"/><circle cx="188.62" cy="396.46" r="0.62" fill="#f2ec3a"/></g><text x="184.8" y="382.90000000000003" font-size="4.4" fill="#e2e2e2">00:31:30.045</text><text x="236.5" y="455.90000000000003" font-size="5.6" fill="#e8e8e8">0</text><text x="247.0" y="455.90000000000003" font-size="5.6" fill="#e8e8e8">μm</text><text x="256.0" y="455.90000000000003" font-size="5.6" fill="#e8e8e8">50</text></g><rect x="207.4" y="399.5" width="38.9" height="38.2" fill="none" stroke="#fff" stroke-width="1.6"/><clipPath id="cp3"><rect x="266.5" y="378.3" width="80.0" height="80.0"/></clipPath><g clip-path="url(#cp3)"><rect x="266.50" y="378.30" width="80.00" height="80.00" fill="#464c4c"/><g filter="url(#bl)"><circle cx="273.92" cy="392.62" r="2.46" fill="#454848" stroke="#626464" stroke-width="0.45"/><circle cx="274.25" cy="392.28" r="1.53" fill="#1f8e92"/><circle cx="273.84" cy="391.67" r="0.62" fill="#2cb8b8"/><circle cx="274.59" cy="392.94" r="0.62" fill="#2cb8b8"/><circle cx="278.54" cy="398.00" r="2.46" fill="#454848" stroke="#626464" stroke-width="0.45"/><circle cx="278.94" cy="397.81" r="1.53" fill="#1f8e92"/><circle cx="278.48" cy="397.23" r="0.62" fill="#2cb8b8"/><circle cx="279.46" cy="398.33" r="0.62" fill="#2cb8b8"/><circle cx="284.69" cy="391.08" r="2.46" fill="#454848" stroke="#626464" stroke-width="0.45"/><circle cx="285.01" cy="391.42" r="1.53" fill="#1f8e92"/><circle cx="285.70" cy="391.16" r="0.62" fill="#2cb8b8"/><circle cx="284.94" cy="392.15" r="0.62" fill="#2cb8b8"/><circle cx="274.69" cy="386.46" r="2.46" fill="#454848" stroke="#626464" stroke-width="0.45"/><circle cx="274.33" cy="386.57" r="1.53" fill="#1f8e92"/><circle cx="274.02" cy="385.90" r="0.62" fill="#2cb8b8"/><circle cx="274.04" cy="385.89" r="0.62" fill="#2cb8b8"/><circle cx="285.46" cy="384.92" r="2.46" fill="#454848" stroke="#626464" stroke-width="0.45"/><circle cx="285.80" cy="385.30" r="1.53" fill="#1f8e92"/><circle cx="285.59" cy="386.01" r="0.62" fill="#2cb8b8"/><circle cx="286.46" cy="384.98" r="0.62" fill="#2cb8b8"/><circle cx="297.77" cy="384.92" r="2.46" fill="#454848" stroke="#626464" stroke-width="0.45"/><circle cx="298.08" cy="384.59" r="1.53" fill="#1f8e92"/><circle cx="297.35" cy="384.56" r="0.62" fill="#2cb8b8"/><circle cx="298.44" cy="385.24" r="0.62" fill="#2cb8b8"/><circle cx="303.92" cy="387.23" r="2.46" fill="#454848" stroke="#626464" stroke-width="0.45"/><circle cx="304.25" cy="387.50" r="1.53" fill="#1f8e92"/><circle cx="304.46" cy="388.21" r="0.62" fill="#2cb8b8"/><circle cx="304.65" cy="388.13" r="0.62" fill="#2cb8b8"/><circle cx="308.54" cy="382.62" r="2.46" fill="#454848" stroke="#626464" stroke-width="0.45"/><circle cx="308.87" cy="382.37" r="1.53" fill="#1f8e92"/><circle cx="308.31" cy="382.84" r="0.62" fill="#2cb8b8"/><circle cx="308.28" cy="381.93" r="0.62" fill="#2cb8b8"/><circle cx="313.15" cy="382.62" r="2.46" fill="#454848" stroke="#626464" stroke-width="0.45"/><circle cx="313.06" cy="382.90" r="1.53" fill="#1f8e92"/><circle cx="313.71" cy="382.55" r="0.62" fill="#2cb8b8"/><circle cx="313.79" cy="382.81" r="0.62" fill="#2cb8b8"/><circle cx="317.77" cy="385.69" r="2.46" fill="#454848" stroke="#626464" stroke-width="0.45"/><circle cx="318.04" cy="385.72" r="1.53" fill="#1f8e92"/><circle cx="317.32" cy="385.85" r="0.62" fill="#2cb8b8"/><circle cx="317.32" cy="385.58" r="0.62" fill="#2cb8b8"/><circle cx="322.38" cy="381.85" r="2.46" fill="#454848" stroke="#626464" stroke-width="0.45"/><circle cx="321.99" cy="381.47" r="1.53" fill="#1f8e92"/><circle cx="322.70" cy="381.26" r="0.62" fill="#2cb8b8"/><circle cx="322.06" cy="382.20" r="0.62" fill="#2cb8b8"/><circle cx="330.85" cy="383.38" r="2.46" fill="#454848" stroke="#626464" stroke-width="0.45"/><circle cx="331.15" cy="383.62" r="1.53" fill="#1f8e92"/><circle cx="330.58" cy="384.08" r="0.62" fill="#2cb8b8"/><circle cx="330.52" cy="383.24" r="0.62" fill="#2cb8b8"/><circle cx="308.54" cy="392.62" r="2.46" fill="#454848" stroke="#626464" stroke-width="0.45"/><circle cx="308.59" cy="392.35" r="1.53" fill="#1f8e92"/><circle cx="309.31" cy="392.50" r="0.62" fill="#2cb8b8"/><circle cx="309.15" cy="392.83" r="0.62" fill="#2cb8b8"/><circle cx="313.15" cy="390.31" r="2.46" fill="#454848" stroke="#626464" stroke-width="0.45"/><circle cx="313.25" cy="390.04" r="1.53" fill="#1f8e92"/><circle cx="313.98" cy="389.93" r="0.62" fill="#2cb8b8"/><circle cx="313.03" cy="389.33" r="0.62" fill="#2cb8b8"/><circle cx="300.85" cy="398.77" r="2.46" fill="#454848" stroke="#626464" stroke-width="0.45"/><circle cx="300.47" cy="398.48" r="1.53" fill="#1f8e92"/><circle cx="300.01" cy="397.90" r="0.62" fill="#2cb8b8"/><circle cx="301.18" cy="398.68" r="0.62" fill="#2cb8b8"/><circle cx="307.00" cy="400.31" r="2.46" fill="#454848" stroke="#626464" stroke-width="0.45"/><circle cx="306.65" cy="399.95" r="1.53" fill="#1f8e92"/><circle cx="307.11" cy="399.37" r="0.62" fill="#2cb8b8"/><circle cx="306.71" cy="399.21" r="0.62" fill="#2cb8b8"/><circle cx="313.15" cy="403.38" r="2.46" fill="#454848" stroke="#626464" stroke-width="0.45"/><circle cx="312.91" cy="403.75" r="1.53" fill="#1f8e92"/><circle cx="312.19" cy="403.59" r="0.62" fill="#2cb8b8"/><circle cx="312.53" cy="403.11" r="0.62" fill="#2cb8b8"/><circle cx="319.31" cy="402.62" r="2.46" fill="#454848" stroke="#626464" stroke-width="0.45"/><circle cx="319.61" cy="402.82" r="1.53" fill="#1f8e92"/><circle cx="319.43" cy="402.10" r="0.62" fill="#2cb8b8"/><circle cx="319.06" cy="403.31" r="0.62" fill="#2cb8b8"/><circle cx="293.15" cy="404.92" r="2.46" fill="#454848" stroke="#626464" stroke-width="0.45"/><circle cx="292.95" cy="404.69" r="1.53" fill="#1f8e92"/><circle cx="293.67" cy="404.84" r="0.62" fill="#2cb8b8"/><circle cx="293.65" cy="404.45" r="0.62" fill="#2cb8b8"/><circle cx="325.46" cy="394.92" r="2.46" fill="#454848" stroke="#626464" stroke-width="0.45"/><circle cx="325.79" cy="395.13" r="1.53" fill="#1f8e92"/><circle cx="326.42" cy="395.51" r="0.62" fill="#2cb8b8"/><circle cx="325.80" cy="394.39" r="0.62" fill="#2cb8b8"/><circle cx="325.46" cy="389.54" r="2.46" fill="#454848" stroke="#626464" stroke-width="0.45"/><circle cx="325.57" cy="389.52" r="1.53" fill="#1f8e92"/><circle cx="326.06" cy="390.07" r="0.62" fill="#2cb8b8"/><circle cx="325.76" cy="388.81" r="0.62" fill="#2cb8b8"/><circle cx="330.85" cy="391.85" r="2.46" fill="#454848" stroke="#626464" stroke-width="0.45"/><circle cx="330.96" cy="391.68" r="1.53" fill="#1f8e92"/><circle cx="330.58" cy="392.31" r="0.62" fill="#2cb8b8"/><circle cx="330.91" cy="392.42" r="0.62" fill="#2cb8b8"/><circle cx="334.69" cy="402.62" r="2.46" fill="#454848" stroke="#626464" stroke-width="0.45"/><circle cx="334.57" cy="402.96" r="1.53" fill="#1f8e92"/><circle cx="335.28" cy="403.18" r="0.62" fill="#2cb8b8"/><circle cx="334.62" cy="402.22" r="0.62" fill="#2cb8b8"/><circle cx="341.62" cy="401.08" r="2.46" fill="#454848" stroke="#626464" stroke-width="0.45"/><circle cx="341.94" cy="401.29" r="1.53" fill="#1f8e92"/><circle cx="341.35" cy="400.85" r="0.62" fill="#2cb8b8"/><circle cx="341.21" cy="401.40" r="0.62" fill="#2cb8b8"/><circle cx="327.00" cy="411.08" r="2.46" fill="#454848" stroke="#626464" stroke-width="0.45"/><circle cx="326.83" cy="411.27" r="1.53" fill="#1f8e92"/><circle cx="327.01" cy="410.56" r="0.62" fill="#2cb8b8"/><circle cx="327.55" cy="411.42" r="0.62" fill="#2cb8b8"/><circle cx="329.31" cy="418.77" r="2.46" fill="#454848" stroke="#626464" stroke-width="0.45"/><circle cx="329.32" cy="418.45" r="1.53" fill="#1f8e92"/><circle cx="328.60" cy="418.59" r="0.62" fill="#2cb8b8"/><circle cx="330.03" cy="418.67" r="0.62" fill="#2cb8b8"/><circle cx="322.38" cy="415.69" r="2.46" fill="#454848" stroke="#626464" stroke-width="0.45"/><circle cx="322.44" cy="415.86" r="1.53" fill="#1f8e92"/><circle cx="322.78" cy="415.21" r="0.62" fill="#2cb8b8"/><circle cx="321.78" cy="415.53" r="0.62" fill="#2cb8b8"/><circle cx="340.85" cy="418.77" r="2.46" fill="#454848" stroke="#626464" stroke-width="0.45"/><circle cx="340.68" cy="418.72" r="1.53" fill="#1f8e92"/><circle cx="339.95" cy="418.61" r="0.62" fill="#2cb8b8"/><circle cx="340.50" cy="419.44" r="0.62" fill="#2cb8b8"/><circle cx="336.23" cy="422.62" r="2.46" fill="#454848" stroke="#626464" stroke-width="0.45"/><circle cx="336.43" cy="422.26" r="1.53" fill="#1f8e92"/><circle cx="336.01" cy="422.86" r="0.62" fill="#2cb8b8"/><circle cx="337.04" cy="422.68" r="0.62" fill="#2cb8b8"/><circle cx="330.85" cy="424.15" r="2.46" fill="#454848" stroke="#626464" stroke-width="0.45"/><circle cx="331.00" cy="424.41" r="1.53" fill="#1f8e92"/><circle cx="331.73" cy="424.26" r="0.62" fill="#2cb8b8"/><circle cx="330.39" cy="424.01" r="0.62" fill="#2cb8b8"/><circle cx="326.23" cy="428.77" r="2.46" fill="#454848" stroke="#626464" stroke-width="0.45"/><circle cx="326.60" cy="428.78" r="1.53" fill="#1f8e92"/><circle cx="325.95" cy="428.43" r="0.62" fill="#2cb8b8"/><circle cx="327.00" cy="429.40" r="0.62" fill="#2cb8b8"/><circle cx="342.38" cy="430.31" r="2.46" fill="#454848" stroke="#626464" stroke-width="0.45"/><circle cx="342.64" cy="430.66" r="1.53" fill="#1f8e92"/><circle cx="342.72" cy="431.39" r="0.62" fill="#2cb8b8"/><circle cx="343.01" cy="431.30" r="0.62" fill="#2cb8b8"/><circle cx="331.62" cy="439.54" r="2.46" fill="#454848" stroke="#626464" stroke-width="0.45"/><circle cx="331.97" cy="439.75" r="1.53" fill="#1f8e92"/><circle cx="331.23" cy="439.80" r="0.62" fill="#2cb8b8"/><circle cx="332.70" cy="439.71" r="0.62" fill="#2cb8b8"/><circle cx="338.54" cy="442.62" r="2.46" fill="#454848" stroke="#626464" stroke-width="0.45"/><circle cx="338.59" cy="442.30" r="1.53" fill="#1f8e92"/><circle cx="338.25" cy="442.95" r="0.62" fill="#2cb8b8"/><circle cx="339.20" cy="442.71" r="0.62" fill="#2cb8b8"/><circle cx="324.69" cy="443.38" r="2.46" fill="#454848" stroke="#626464" stroke-width="0.45"/><circle cx="325.04" cy="443.70" r="1.53" fill="#1f8e92"/><circle cx="325.01" cy="442.96" r="0.62" fill="#2cb8b8"/><circle cx="324.38" cy="444.05" r="0.62" fill="#2cb8b8"/><circle cx="326.23" cy="448.77" r="2.46" fill="#454848" stroke="#626464" stroke-width="0.45"/><circle cx="326.35" cy="448.67" r="1.53" fill="#1f8e92"/><circle cx="326.11" cy="449.36" r="0.62" fill="#2cb8b8"/><circle cx="325.68" cy="448.99" r="0.62" fill="#2cb8b8"/><circle cx="320.85" cy="449.54" r="2.46" fill="#454848" stroke="#626464" stroke-width="0.45"/><circle cx="320.88" cy="449.28" r="1.53" fill="#1f8e92"/><circle cx="321.62" cy="449.19" r="0.62" fill="#2cb8b8"/><circle cx="320.38" cy="448.73" r="0.62" fill="#2cb8b8"/><circle cx="342.38" cy="441.08" r="2.46" fill="#454848" stroke="#626464" stroke-width="0.45"/><circle cx="342.74" cy="440.78" r="1.53" fill="#1f8e92"/><circle cx="342.13" cy="440.37" r="0.62" fill="#2cb8b8"/><circle cx="342.46" cy="440.09" r="0.62" fill="#2cb8b8"/><circle cx="268.54" cy="391.08" r="2.15" fill="#454848" stroke="#626464" stroke-width="0.45"/><circle cx="268.62" cy="390.70" r="1.34" fill="#1f8e92"/><circle cx="268.06" cy="390.39" r="0.54" fill="#2cb8b8"/><circle cx="267.98" cy="390.62" r="0.54" fill="#2cb8b8"/><circle cx="271.62" cy="399.54" r="2.15" fill="#454848" stroke="#626464" stroke-width="0.45"/><circle cx="271.91" cy="399.50" r="1.34" fill="#1f8e92"/><circle cx="271.30" cy="399.28" r="0.54" fill="#2cb8b8"/><circle cx="271.62" cy="400.08" r="0.54" fill="#2cb8b8"/><circle cx="271.62" cy="415.69" r="2.46" fill="#454848" stroke="#626464" stroke-width="0.45"/><circle cx="271.59" cy="415.84" r="1.53" fill="#1f8e92"/><circle cx="271.55" cy="416.58" r="0.62" fill="#2cb8b8"/><circle cx="271.67" cy="416.58" r="0.62" fill="#2cb8b8"/><circle cx="303.15" cy="424.15" r="2.46" fill="#454848" stroke="#626464" stroke-width="0.45"/><circle cx="303.02" cy="424.27" r="1.53" fill="#1f8e92"/><circle cx="302.78" cy="423.57" r="0.62" fill="#2cb8b8"/><circle cx="302.28" cy="424.23" r="0.62" fill="#2cb8b8"/><circle cx="297.77" cy="428.00" r="2.46" fill="#454848" stroke="#626464" stroke-width="0.45"/><circle cx="297.58" cy="428.20" r="1.53" fill="#1f8e92"/><circle cx="297.92" cy="427.55" r="0.62" fill="#2cb8b8"/><circle cx="297.04" cy="427.71" r="0.62" fill="#2cb8b8"/><circle cx="308.54" cy="444.15" r="2.46" fill="#454848" stroke="#626464" stroke-width="0.45"/><circle cx="308.72" cy="444.53" r="1.53" fill="#1f8e92"/><circle cx="308.59" cy="443.81" r="0.62" fill="#2cb8b8"/><circle cx="308.13" cy="444.09" r="0.62" fill="#2cb8b8"/><circle cx="311.62" cy="448.77" r="2.46" fill="#454848" stroke="#626464" stroke-width="0.45"/><circle cx="311.49" cy="448.56" r="1.53" fill="#1f8e92"/><circle cx="312.20" cy="448.36" r="0.62" fill="#2cb8b8"/><circle cx="311.45" cy="449.30" r="0.62" fill="#2cb8b8"/><circle cx="318.54" cy="424.15" r="2.15" fill="#454848" stroke="#626464" stroke-width="0.45"/><circle cx="318.90" cy="424.55" r="1.34" fill="#1f8e92"/><circle cx="319.23" cy="425.11" r="0.54" fill="#2cb8b8"/><circle cx="318.55" cy="424.01" r="0.54" fill="#2cb8b8"/><circle cx="319.31" cy="430.31" r="2.15" fill="#454848" stroke="#626464" stroke-width="0.45"/><circle cx="319.06" cy="430.03" r="1.34" fill="#1f8e92"/><circle cx="319.45" cy="430.55" r="0.54" fill="#2cb8b8"/><circle cx="318.86" cy="430.64" r="0.54" fill="#2cb8b8"/><circle cx="276.23" cy="453.38" r="2.15" fill="#454848" stroke="#626464" stroke-width="0.45"/><circle cx="276.07" cy="453.20" r="1.34" fill="#1f8e92"/><circle cx="276.57" cy="453.61" r="0.54" fill="#2cb8b8"/><circle cx="276.62" cy="452.86" r="0.54" fill="#2cb8b8"/><circle cx="279.31" cy="454.92" r="2.15" fill="#454848" stroke="#626464" stroke-width="0.45"/><circle cx="279.13" cy="455.23" r="1.34" fill="#1f8e92"/><circle cx="278.50" cy="455.38" r="0.54" fill="#2cb8b8"/><circle cx="279.78" cy="455.28" r="0.54" fill="#2cb8b8"/><circle cx="336.72" cy="406.48" r="1.27" fill="#22d4dc"/><circle cx="336.39" cy="407.37" r="1.26" fill="#22d4dc"/><circle cx="336.25" cy="407.74" r="1.37" fill="#22d4dc"/><circle cx="336.25" cy="407.59" r="1.31" fill="#22d4dc"/><circle cx="311.34" cy="436.51" r="1.28" fill="#22d4dc"/><circle cx="311.47" cy="436.63" r="1.25" fill="#22d4dc"/><circle cx="310.93" cy="437.87" r="1.08" fill="#22d4dc"/><circle cx="310.22" cy="437.51" r="1.30" fill="#22d4dc"/><circle cx="294.73" cy="427.98" r="1.30" fill="#22d4dc"/><circle cx="295.23" cy="428.03" r="1.21" fill="#22d4dc"/><circle cx="295.65" cy="427.35" r="1.23" fill="#22d4dc"/><circle cx="294.18" cy="426.41" r="1.37" fill="#22d4dc"/><circle cx="287.11" cy="427.41" r="0.97" fill="#22d4dc"/><circle cx="287.46" cy="427.93" r="0.99" fill="#22d4dc"/><circle cx="287.40" cy="428.63" r="1.11" fill="#22d4dc"/><circle cx="337.60" cy="397.68" r="1.11" fill="#22d4dc"/><circle cx="336.85" cy="396.52" r="1.15" fill="#22d4dc"/><circle cx="337.35" cy="396.59" r="1.07" fill="#22d4dc"/><circle cx="294.89" cy="381.85" r="1.06" fill="#22d4dc"/><circle cx="294.74" cy="380.52" r="1.26" fill="#22d4dc"/><circle cx="294.37" cy="381.50" r="1.02" fill="#22d4dc"/><circle cx="294.28" cy="381.38" r="1.07" fill="#22d4dc"/><circle cx="284.98" cy="389.80" r="1.00" fill="#22d4dc"/><circle cx="285.90" cy="390.67" r="0.95" fill="#22d4dc"/><circle cx="286.24" cy="390.07" r="1.12" fill="#22d4dc"/><circle cx="286.07" cy="390.16" r="0.88" fill="#22d4dc"/><circle cx="278.54" cy="418.31" r="1.23" fill="#f2ec3a"/><circle cx="280.85" cy="419.54" r="1.23" fill="#f2ec3a"/><circle cx="289.31" cy="431.08" r="1.23" fill="#f2ec3a"/><circle cx="287.00" cy="433.38" r="1.08" fill="#f2ec3a"/><circle cx="290.85" cy="431.85" r="1.08" fill="#f2ec3a"/><circle cx="296.23" cy="437.69" r="0.92" fill="#f2ec3a"/><circle cx="299.31" cy="439.54" r="0.77" fill="#f2ec3a"/><circle cx="325.46" cy="431.85" r="1.69" fill="#f2ec3a"/><circle cx="330.08" cy="428.77" r="1.69" fill="#f2ec3a"/><circle cx="331.62" cy="431.85" r="1.69" fill="#f2ec3a"/><circle cx="328.54" cy="434.92" r="1.54" fill="#f2ec3a"/><circle cx="333.15" cy="436.15" r="1.38" fill="#f2ec3a"/><circle cx="327.77" cy="431.08" r="1.38" fill="#f2ec3a"/><circle cx="330.85" cy="426.46" r="1.23" fill="#f2ec3a"/><circle cx="306.23" cy="453.38" r="1.23" fill="#f2ec3a"/><circle cx="307.77" cy="454.92" r="1.23" fill="#f2ec3a"/><circle cx="337.77" cy="383.38" r="1.23" fill="#f2ec3a"/><circle cx="274.69" cy="444.15" r="0.77" fill="#8a8a3a"/></g><text x="267.8" y="382.90000000000003" font-size="4.4" fill="#e2e2e2">00:31:30.055</text><text x="319.5" y="455.90000000000003" font-size="5.6" fill="#e8e8e8">0</text><text x="330.0" y="455.90000000000003" font-size="5.6" fill="#e8e8e8">μm</text><text x="339.0" y="455.90000000000003" font-size="5.6" fill="#e8e8e8">50</text></g><rect x="278.5" y="413.1" width="39" height="38" fill="none" stroke="#fff" stroke-width="1.6"/><clipPath id="cp4"><rect x="349.5" y="378.3" width="80.0" height="80.0"/></clipPath><g clip-path="url(#cp4)"><rect x="349.50" y="378.30" width="80.00" height="80.00" fill="#464c4c"/><g filter="url(#bl)"><path d="M385.64 379.05 A1.14 1.14 0 1 1 383.63 378.98" fill="none" stroke="#22d4dc" stroke-width="1.86" stroke-linecap="round"/><path d="M366.59 386.25 A1.33 1.33 0 1 1 365.15 384.39" fill="none" stroke="#22d4dc" stroke-width="2.17" stroke-linecap="round"/><path d="M360.37 389.13 A1.23 1.23 0 1 1 358.83 390.68" fill="none" stroke="#22d4dc" stroke-width="2.02" stroke-linecap="round"/><path d="M388.09 387.53 A1.14 1.14 0 1 1 388.34 385.52" fill="none" stroke="#22d4dc" stroke-width="1.86" stroke-linecap="round"/><path d="M408.40 383.12 A1.33 1.33 0 1 1 408.86 385.43" fill="none" stroke="#22d4dc" stroke-width="2.17" stroke-linecap="round"/><path d="M419.01 378.33 A1.23 1.23 0 1 1 418.37 380.42" fill="none" stroke="#22d4dc" stroke-width="2.02" stroke-linecap="round"/><path d="M427.45 386.01 A1.33 1.33 0 1 1 425.62 387.50" fill="none" stroke="#22d4dc" stroke-width="2.17" stroke-linecap="round"/><path d="M419.21 393.59 A1.23 1.23 0 1 1 418.84 391.44" fill="none" stroke="#22d4dc" stroke-width="2.02" stroke-linecap="round"/><path d="M427.07 396.17 A1.23 1.23 0 1 1 427.18 398.35" fill="none" stroke="#22d4dc" stroke-width="2.02" stroke-linecap="round"/><path d="M403.72 396.84 A1.33 1.33 0 1 1 401.76 398.14" fill="none" stroke="#22d4dc" stroke-width="2.17" stroke-linecap="round"/><path d="M413.42 400.66 A1.23 1.23 0 1 1 411.91 402.24" fill="none" stroke="#22d4dc" stroke-width="2.02" stroke-linecap="round"/><path d="M421.94 404.84 A1.33 1.33 0 1 1 424.29 404.69" fill="none" stroke="#22d4dc" stroke-width="2.17" stroke-linecap="round"/><path d="M422.86 412.58 A1.33 1.33 0 1 1 420.75 411.55" fill="none" stroke="#22d4dc" stroke-width="2.17" stroke-linecap="round"/><path d="M427.76 408.40 A1.14 1.14 0 1 1 426.72 410.13" fill="none" stroke="#22d4dc" stroke-width="1.86" stroke-linecap="round"/><path d="M414.66 416.24 A1.23 1.23 0 1 1 414.99 418.40" fill="none" stroke="#22d4dc" stroke-width="2.02" stroke-linecap="round"/><path d="M428.67 417.65 A1.14 1.14 0 1 1 427.42 419.24" fill="none" stroke="#22d4dc" stroke-width="1.86" stroke-linecap="round"/><path d="M397.25 415.16 A1.23 1.23 0 1 1 399.35 415.78" fill="none" stroke="#22d4dc" stroke-width="2.02" stroke-linecap="round"/><path d="M391.80 408.33 A1.23 1.23 0 1 1 390.40 410.02" fill="none" stroke="#22d4dc" stroke-width="2.02" stroke-linecap="round"/><path d="M383.24 413.93 A1.33 1.33 0 1 1 384.06 411.73" fill="none" stroke="#22d4dc" stroke-width="2.17" stroke-linecap="round"/><path d="M377.32 406.73 A1.33 1.33 0 1 1 376.87 409.04" fill="none" stroke="#22d4dc" stroke-width="2.17" stroke-linecap="round"/><path d="M370.26 411.39 A1.33 1.33 0 1 1 370.06 413.73" fill="none" stroke="#22d4dc" stroke-width="2.17" stroke-linecap="round"/><path d="M366.61 407.87 A1.23 1.23 0 1 1 364.57 407.07" fill="none" stroke="#22d4dc" stroke-width="2.02" stroke-linecap="round"/><path d="M373.35 397.74 A1.14 1.14 0 1 1 373.29 399.76" fill="none" stroke="#22d4dc" stroke-width="1.86" stroke-linecap="round"/><path d="M382.72 396.59 A1.14 1.14 0 1 1 384.60 397.31" fill="none" stroke="#22d4dc" stroke-width="1.86" stroke-linecap="round"/><path d="M378.15 422.14 A1.33 1.33 0 1 1 376.41 423.73" fill="none" stroke="#22d4dc" stroke-width="2.17" stroke-linecap="round"/><path d="M354.99 421.44 A1.23 1.23 0 1 1 353.44 422.98" fill="none" stroke="#22d4dc" stroke-width="2.02" stroke-linecap="round"/><path d="M350.88 403.43 A1.04 1.04 0 1 1 352.58 402.69" fill="none" stroke="#22d4dc" stroke-width="1.71" stroke-linecap="round"/><path d="M350.18 435.60 A1.04 1.04 0 1 1 350.40 437.44" fill="none" stroke="#22d4dc" stroke-width="1.71" stroke-linecap="round"/><path d="M359.47 439.11 A1.23 1.23 0 1 1 361.21 437.79" fill="none" stroke="#22d4dc" stroke-width="2.02" stroke-linecap="round"/><path d="M367.24 435.81 A1.23 1.23 0 1 1 369.26 436.63" fill="none" stroke="#22d4dc" stroke-width="2.02" stroke-linecap="round"/><path d="M379.12 444.83 A1.23 1.23 0 1 1 379.80 446.91" fill="none" stroke="#22d4dc" stroke-width="2.02" stroke-linecap="round"/><path d="M392.60 445.55 A1.23 1.23 0 1 1 391.45 443.69" fill="none" stroke="#22d4dc" stroke-width="2.02" stroke-linecap="round"/><path d="M400.91 439.62 A1.14 1.14 0 1 1 398.92 439.96" fill="none" stroke="#22d4dc" stroke-width="1.86" stroke-linecap="round"/><path d="M409.94 428.24 A1.23 1.23 0 1 1 409.65 426.07" fill="none" stroke="#22d4dc" stroke-width="2.02" stroke-linecap="round"/><path d="M424.21 431.47 A1.23 1.23 0 1 1 425.80 429.97" fill="none" stroke="#22d4dc" stroke-width="2.02" stroke-linecap="round"/><path d="M357.54 450.35 A1.23 1.23 0 1 1 359.66 449.83" fill="none" stroke="#22d4dc" stroke-width="2.02" stroke-linecap="round"/><path d="M352.43 446.99 A1.04 1.04 0 1 1 351.46 445.42" fill="none" stroke="#22d4dc" stroke-width="1.71" stroke-linecap="round"/><path d="M412.12 451.43 A1.04 1.04 0 1 1 413.29 452.87" fill="none" stroke="#22d4dc" stroke-width="1.71" stroke-linecap="round"/><path d="M368.80 406.54 A0.95 0.95 0 1 1 370.17 405.56" fill="none" stroke="#22d4dc" stroke-width="1.55" stroke-linecap="round"/><path d="M352.34 384.62 A0.85 0.85 0 1 1 350.83 384.44" fill="none" stroke="#22d4dc" stroke-width="1.40" stroke-linecap="round"/><circle cx="366.92" cy="404.15" r="1.23" fill="#f2ec3a"/><circle cx="354.62" cy="407.23" r="0.92" fill="#f2ec3a"/><circle cx="416.15" cy="398.77" r="1.85" fill="#f2ec3a"/><circle cx="418.46" cy="402.62" r="1.54" fill="#f2ec3a"/><circle cx="417.69" cy="405.69" r="1.23" fill="#f2ec3a"/><circle cx="420.00" cy="401.08" r="1.23" fill="#f2ec3a"/><circle cx="410.00" cy="432.62" r="1.54" fill="#f2ec3a"/><circle cx="408.46" cy="436.46" r="1.23" fill="#f2ec3a"/><circle cx="373.08" cy="438.77" r="1.54" fill="#f2ec3a"/><circle cx="372.31" cy="441.08" r="1.23" fill="#f2ec3a"/><circle cx="379.23" cy="441.08" r="1.23" fill="#f2ec3a"/><circle cx="353.08" cy="447.23" r="1.54" fill="#f2ec3a"/><circle cx="355.38" cy="448.77" r="1.54" fill="#f2ec3a"/><circle cx="424.62" cy="438.00" r="1.08" fill="#f2ec3a"/><circle cx="425.38" cy="390.31" r="0.92" fill="#f2ec3a"/><circle cx="390.00" cy="404.15" r="0.77" fill="#f2ec3a"/><circle cx="370.77" cy="395.69" r="0.62" fill="#f2ec3a"/><circle cx="378.46" cy="388.00" r="0.62" fill="#f2ec3a"/><circle cx="350.77" cy="392.62" r="0.62" fill="#f2ec3a"/><circle cx="414.62" cy="424.15" r="0.77" fill="#f2ec3a"/></g><text x="350.8" y="382.90000000000003" font-size="4.4" fill="#e2e2e2">00:31:30.002</text><text x="402.5" y="455.90000000000003" font-size="5.6" fill="#e8e8e8">0</text><text x="413.0" y="455.90000000000003" font-size="5.6" fill="#e8e8e8">μm</text><text x="422.0" y="455.90000000000003" font-size="5.6" fill="#e8e8e8">50</text></g><rect x="357.4" y="392.9" width="38.4" height="38.2" fill="none" stroke="#fff" stroke-width="1.6"/><clipPath id="cp5"><rect x="432.5" y="378.3" width="80.0" height="80.0"/></clipPath><g clip-path="url(#cp5)"><rect x="432.50" y="378.30" width="80.00" height="80.00" fill="#464c4c"/><g filter="url(#bl)"><circle cx="438.81" cy="396.08" r="0.93" fill="#22d4dc"/><circle cx="439.90" cy="396.23" r="1.01" fill="#22d4dc"/><circle cx="439.61" cy="396.80" r="1.01" fill="#22d4dc"/><circle cx="435.02" cy="403.03" r="1.10" fill="#22d4dc"/><circle cx="435.44" cy="402.12" r="1.09" fill="#22d4dc"/><circle cx="434.73" cy="402.15" r="1.03" fill="#22d4dc"/><circle cx="435.89" cy="402.15" r="1.08" fill="#22d4dc"/><circle cx="443.88" cy="404.95" r="1.06" fill="#22d4dc"/><circle cx="445.01" cy="404.18" r="1.08" fill="#22d4dc"/><circle cx="445.10" cy="405.44" r="1.34" fill="#22d4dc"/><circle cx="455.55" cy="401.10" r="1.09" fill="#22d4dc"/><circle cx="456.52" cy="401.64" r="1.10" fill="#22d4dc"/><circle cx="455.23" cy="400.86" r="0.93" fill="#22d4dc"/><circle cx="456.46" cy="400.48" r="1.12" fill="#22d4dc"/><circle cx="455.63" cy="388.27" r="0.95" fill="#22d4dc"/><circle cx="455.77" cy="388.65" r="1.02" fill="#22d4dc"/><circle cx="455.01" cy="388.42" r="1.01" fill="#22d4dc"/><circle cx="460.10" cy="386.78" r="0.97" fill="#22d4dc"/><circle cx="459.95" cy="386.73" r="0.89" fill="#22d4dc"/><circle cx="459.49" cy="387.48" r="0.85" fill="#22d4dc"/><circle cx="477.21" cy="380.93" r="0.99" fill="#22d4dc"/><circle cx="478.09" cy="380.02" r="0.93" fill="#22d4dc"/><circle cx="477.61" cy="380.78" r="0.91" fill="#22d4dc"/><circle cx="487.16" cy="379.71" r="1.10" fill="#22d4dc"/><circle cx="486.75" cy="381.02" r="1.26" fill="#22d4dc"/><circle cx="486.37" cy="379.61" r="1.04" fill="#22d4dc"/><circle cx="494.42" cy="379.05" r="1.12" fill="#22d4dc"/><circle cx="495.24" cy="379.97" r="0.95" fill="#22d4dc"/><circle cx="493.97" cy="379.34" r="1.00" fill="#22d4dc"/><circle cx="495.94" cy="386.12" r="0.88" fill="#22d4dc"/><circle cx="496.67" cy="385.37" r="1.02" fill="#22d4dc"/><circle cx="496.27" cy="384.92" r="1.01" fill="#22d4dc"/><circle cx="495.57" cy="385.23" r="1.03" fill="#22d4dc"/><circle cx="473.93" cy="386.37" r="0.96" fill="#22d4dc"/><circle cx="473.81" cy="385.21" r="0.88" fill="#22d4dc"/><circle cx="465.65" cy="389.77" r="1.11" fill="#22d4dc"/><circle cx="466.85" cy="389.60" r="0.87" fill="#22d4dc"/><circle cx="467.82" cy="400.07" r="1.03" fill="#22d4dc"/><circle cx="467.82" cy="400.61" r="1.07" fill="#22d4dc"/><circle cx="467.82" cy="399.61" r="0.95" fill="#22d4dc"/><circle cx="470.26" cy="396.57" r="0.95" fill="#22d4dc"/><circle cx="469.72" cy="396.66" r="0.85" fill="#22d4dc"/><circle cx="473.85" cy="396.00" r="1.02" fill="#22d4dc"/><circle cx="474.95" cy="397.07" r="0.99" fill="#22d4dc"/><circle cx="475.08" cy="396.77" r="1.09" fill="#22d4dc"/><circle cx="474.11" cy="396.02" r="0.83" fill="#22d4dc"/><circle cx="479.92" cy="398.70" r="0.89" fill="#22d4dc"/><circle cx="479.61" cy="399.20" r="0.91" fill="#22d4dc"/><circle cx="486.06" cy="392.10" r="1.24" fill="#22d4dc"/><circle cx="486.30" cy="392.46" r="1.16" fill="#22d4dc"/><circle cx="487.35" cy="392.50" r="1.03" fill="#22d4dc"/><circle cx="491.45" cy="395.12" r="0.90" fill="#22d4dc"/><circle cx="492.93" cy="394.76" r="0.83" fill="#22d4dc"/><circle cx="492.92" cy="394.99" r="1.07" fill="#22d4dc"/><circle cx="492.73" cy="395.20" r="1.04" fill="#22d4dc"/><circle cx="489.21" cy="403.16" r="1.13" fill="#22d4dc"/><circle cx="488.02" cy="404.21" r="1.17" fill="#22d4dc"/><circle cx="487.82" cy="403.49" r="1.26" fill="#22d4dc"/><circle cx="494.80" cy="402.44" r="1.14" fill="#22d4dc"/><circle cx="494.73" cy="402.18" r="1.19" fill="#22d4dc"/><circle cx="496.22" cy="407.35" r="0.91" fill="#22d4dc"/><circle cx="496.83" cy="408.30" r="1.04" fill="#22d4dc"/><circle cx="496.35" cy="407.49" r="1.01" fill="#22d4dc"/><circle cx="501.79" cy="400.49" r="0.92" fill="#22d4dc"/><circle cx="500.76" cy="401.42" r="0.94" fill="#22d4dc"/><circle cx="502.29" cy="395.16" r="1.20" fill="#22d4dc"/><circle cx="502.89" cy="396.19" r="1.02" fill="#22d4dc"/><circle cx="502.33" cy="396.05" r="1.20" fill="#22d4dc"/><circle cx="503.40" cy="395.35" r="1.21" fill="#22d4dc"/><circle cx="507.49" cy="405.78" r="1.20" fill="#22d4dc"/><circle cx="507.26" cy="404.10" r="1.05" fill="#22d4dc"/><circle cx="508.25" cy="405.30" r="1.20" fill="#22d4dc"/><circle cx="511.63" cy="406.53" r="1.12" fill="#22d4dc"/><circle cx="511.29" cy="407.67" r="0.94" fill="#22d4dc"/><circle cx="511.26" cy="406.46" r="1.00" fill="#22d4dc"/><circle cx="473.18" cy="409.63" r="0.96" fill="#22d4dc"/><circle cx="473.29" cy="409.53" r="1.01" fill="#22d4dc"/><circle cx="466.56" cy="409.88" r="0.97" fill="#22d4dc"/><circle cx="465.64" cy="410.03" r="0.88" fill="#22d4dc"/><circle cx="466.38" cy="410.95" r="0.93" fill="#22d4dc"/><circle cx="468.56" cy="416.11" r="0.98" fill="#22d4dc"/><circle cx="470.05" cy="415.95" r="1.06" fill="#22d4dc"/><circle cx="469.76" cy="416.17" r="1.20" fill="#22d4dc"/><circle cx="478.97" cy="406.88" r="0.91" fill="#22d4dc"/><circle cx="478.77" cy="406.16" r="0.89" fill="#22d4dc"/><circle cx="479.61" cy="405.98" r="1.00" fill="#22d4dc"/><circle cx="489.86" cy="418.06" r="1.07" fill="#22d4dc"/><circle cx="490.71" cy="416.96" r="1.21" fill="#22d4dc"/><circle cx="490.52" cy="417.09" r="0.94" fill="#22d4dc"/><circle cx="485.13" cy="421.83" r="0.83" fill="#22d4dc"/><circle cx="485.11" cy="421.97" r="1.04" fill="#22d4dc"/><circle cx="483.77" cy="421.91" r="1.09" fill="#22d4dc"/><circle cx="501.40" cy="418.39" r="0.96" fill="#22d4dc"/><circle cx="500.44" cy="419.32" r="0.96" fill="#22d4dc"/><circle cx="501.33" cy="418.43" r="0.99" fill="#22d4dc"/><circle cx="501.08" cy="418.23" r="1.01" fill="#22d4dc"/><circle cx="508.81" cy="424.18" r="1.25" fill="#22d4dc"/><circle cx="509.07" cy="423.65" r="0.94" fill="#22d4dc"/><circle cx="508.92" cy="423.08" r="1.10" fill="#22d4dc"/><circle cx="501.17" cy="427.40" r="1.05" fill="#22d4dc"/><circle cx="501.35" cy="426.97" r="0.92" fill="#22d4dc"/><circle cx="500.08" cy="426.83" r="0.86" fill="#22d4dc"/><circle cx="500.45" cy="427.72" r="0.86" fill="#22d4dc"/><circle cx="474.03" cy="428.48" r="1.20" fill="#22d4dc"/><circle cx="475.30" cy="427.55" r="1.09" fill="#22d4dc"/><circle cx="475.26" cy="427.56" r="0.98" fill="#22d4dc"/><circle cx="474.81" cy="427.53" r="1.14" fill="#22d4dc"/><circle cx="495.74" cy="433.02" r="1.08" fill="#22d4dc"/><circle cx="496.04" cy="433.90" r="1.21" fill="#22d4dc"/><circle cx="494.82" cy="432.88" r="1.04" fill="#22d4dc"/><circle cx="499.93" cy="438.11" r="0.98" fill="#22d4dc"/><circle cx="500.79" cy="438.52" r="1.17" fill="#22d4dc"/><circle cx="500.16" cy="437.81" r="1.22" fill="#22d4dc"/><circle cx="500.99" cy="441.34" r="0.83" fill="#22d4dc"/><circle cx="500.95" cy="440.83" r="1.07" fill="#22d4dc"/><circle cx="501.43" cy="441.57" r="0.96" fill="#22d4dc"/><circle cx="492.15" cy="443.22" r="0.95" fill="#22d4dc"/><circle cx="492.09" cy="442.13" r="1.00" fill="#22d4dc"/><circle cx="490.84" cy="442.70" r="1.02" fill="#22d4dc"/><circle cx="491.66" cy="443.25" r="1.26" fill="#22d4dc"/><circle cx="470.41" cy="443.91" r="1.03" fill="#22d4dc"/><circle cx="470.35" cy="443.83" r="1.17" fill="#22d4dc"/><circle cx="469.67" cy="445.04" r="0.93" fill="#22d4dc"/><circle cx="462.31" cy="445.65" r="1.20" fill="#22d4dc"/><circle cx="463.59" cy="445.47" r="1.05" fill="#22d4dc"/><circle cx="463.66" cy="445.86" r="1.02" fill="#22d4dc"/><circle cx="462.61" cy="449.98" r="1.19" fill="#22d4dc"/><circle cx="462.09" cy="448.97" r="0.96" fill="#22d4dc"/><circle cx="462.88" cy="449.94" r="1.10" fill="#22d4dc"/><circle cx="457.84" cy="437.68" r="1.03" fill="#22d4dc"/><circle cx="457.25" cy="436.85" r="0.92" fill="#22d4dc"/><circle cx="458.32" cy="437.28" r="0.98" fill="#22d4dc"/><circle cx="438.43" cy="430.22" r="1.14" fill="#22d4dc"/><circle cx="438.51" cy="429.54" r="1.07" fill="#22d4dc"/><circle cx="442.06" cy="429.16" r="1.22" fill="#22d4dc"/><circle cx="441.40" cy="430.12" r="1.21" fill="#22d4dc"/><circle cx="441.08" cy="429.97" r="1.05" fill="#22d4dc"/><circle cx="441.04" cy="429.25" r="1.10" fill="#22d4dc"/><circle cx="440.45" cy="438.66" r="1.05" fill="#22d4dc"/><circle cx="439.95" cy="439.63" r="1.24" fill="#22d4dc"/><circle cx="440.08" cy="437.91" r="1.12" fill="#22d4dc"/><circle cx="440.43" cy="438.39" r="0.97" fill="#22d4dc"/><circle cx="437.18" cy="445.84" r="1.07" fill="#22d4dc"/><circle cx="437.98" cy="446.10" r="0.85" fill="#22d4dc"/><circle cx="437.24" cy="445.34" r="0.92" fill="#22d4dc"/><circle cx="436.85" cy="445.42" r="0.83" fill="#22d4dc"/><circle cx="435.25" cy="453.38" r="1.02" fill="#22d4dc"/><circle cx="434.78" cy="452.74" r="0.96" fill="#22d4dc"/><circle cx="435.02" cy="453.01" r="0.88" fill="#22d4dc"/><circle cx="444.99" cy="456.14" r="0.98" fill="#22d4dc"/><circle cx="444.45" cy="456.18" r="0.95" fill="#22d4dc"/><circle cx="444.98" cy="456.20" r="1.08" fill="#22d4dc"/><circle cx="476.54" cy="451.30" r="0.94" fill="#22d4dc"/><circle cx="477.28" cy="451.70" r="1.02" fill="#22d4dc"/><circle cx="476.61" cy="451.21" r="1.01" fill="#22d4dc"/><circle cx="435.44" cy="415.41" r="1.06" fill="#22d4dc"/><circle cx="435.79" cy="415.38" r="0.93" fill="#22d4dc"/><circle cx="451.87" cy="414.30" r="1.26" fill="#22d4dc"/><circle cx="451.17" cy="415.53" r="1.12" fill="#22d4dc"/><circle cx="451.20" cy="415.43" r="1.16" fill="#22d4dc"/><circle cx="450.93" cy="415.62" r="1.15" fill="#22d4dc"/><circle cx="445.65" cy="414.64" r="0.85" fill="#22d4dc"/><circle cx="445.49" cy="414.42" r="0.83" fill="#22d4dc"/><circle cx="469.46" cy="405.94" r="0.98" fill="#22d4dc"/><circle cx="469.53" cy="405.81" r="0.98" fill="#22d4dc"/><circle cx="470.32" cy="405.62" r="0.95" fill="#22d4dc"/><circle cx="435.31" cy="401.08" r="1.23" fill="#f2ec3a"/><circle cx="477.62" cy="402.62" r="1.08" fill="#f2ec3a"/><circle cx="496.08" cy="405.69" r="1.08" fill="#f2ec3a"/><circle cx="479.92" cy="411.08" r="0.92" fill="#f2ec3a"/><circle cx="480.69" cy="414.92" r="1.23" fill="#f2ec3a"/><circle cx="482.23" cy="415.69" r="1.23" fill="#f2ec3a"/><circle cx="484.54" cy="416.46" r="1.23" fill="#f2ec3a"/><circle cx="479.15" cy="416.46" r="0.92" fill="#f2ec3a"/><circle cx="465.31" cy="437.23" r="1.23" fill="#f2ec3a"/><circle cx="462.23" cy="439.54" r="1.08" fill="#f2ec3a"/><circle cx="460.69" cy="441.85" r="1.23" fill="#f2ec3a"/><circle cx="472.23" cy="438.00" r="1.08" fill="#f2ec3a"/><circle cx="442.23" cy="448.77" r="1.23" fill="#f2ec3a"/><circle cx="483.77" cy="450.31" r="0.92" fill="#f2ec3a"/></g><text x="433.8" y="382.90000000000003" font-size="4.4" fill="#e2e2e2">00:31:30.055</text><text x="485.5" y="455.90000000000003" font-size="5.6" fill="#e8e8e8">0</text><text x="496.0" y="455.90000000000003" font-size="5.6" fill="#e8e8e8">μm</text><text x="505.0" y="455.90000000000003" font-size="5.6" fill="#e8e8e8">50</text></g><rect x="461.9" y="386.2" width="38.5" height="38" fill="none" stroke="#fff" stroke-width="1.6"/><clipPath id="cp6"><rect x="24.0" y="464.4" width="69.4" height="69.4"/></clipPath><g clip-path="url(#cp6)"><rect x="24.00" y="464.40" width="69.40" height="69.40" fill="#464c4c"/><g filter="url(#bl)"><circle cx="47.90" cy="478.80" r="4.04" fill="#4a5050" stroke="#1a1a1a" stroke-width="0.81"/><circle cx="47.90" cy="478.80" r="4.64" fill="none" stroke="#7a7e7e" stroke-width="0.55"/><circle cx="75.49" cy="511.11" r="4.04" fill="#4a5050" stroke="#1a1a1a" stroke-width="0.81"/><circle cx="75.49" cy="511.11" r="4.64" fill="none" stroke="#7a7e7e" stroke-width="0.55"/><circle cx="33.77" cy="508.41" r="5.17" fill="#1a1a1a" stroke="#1a1a1a" stroke-width="1.4"/><circle cx="31.12" cy="505.90" r="4.54" fill="#1a1a1a" stroke="#1a1a1a" stroke-width="1.4"/><circle cx="31.33" cy="505.88" r="3.80" fill="#1a1a1a" stroke="#1a1a1a" stroke-width="1.4"/><circle cx="35.91" cy="509.98" r="3.77" fill="#1a1a1a" stroke="#1a1a1a" stroke-width="1.4"/><circle cx="33.98" cy="510.96" r="3.90" fill="#1a1a1a" stroke="#1a1a1a" stroke-width="1.4"/><circle cx="32.21" cy="510.63" r="3.83" fill="#1a1a1a" stroke="#1a1a1a" stroke-width="1.4"/><circle cx="33.77" cy="508.41" r="5.17" fill="#535555"/><circle cx="31.12" cy="505.90" r="4.54" fill="#535555"/><circle cx="31.33" cy="505.88" r="3.80" fill="#535555"/><circle cx="35.91" cy="509.98" r="3.77" fill="#535555"/><circle cx="33.98" cy="510.96" r="3.90" fill="#535555"/><circle cx="32.21" cy="510.63" r="3.83" fill="#535555"/><circle cx="39.96" cy="506.79" r="2.25" fill="#565858" stroke="#141414" stroke-width="0.6"/><path d="M41.42 507.64 A1.68 1.68 0 0 1 38.80 508.01" fill="none" stroke="#c4c6c6" stroke-width="0.4"/><circle cx="28.33" cy="504.95" r="1.82" fill="#565858" stroke="#141414" stroke-width="0.6"/><path d="M26.97 504.85 A1.37 1.37 0 0 1 28.74 503.65" fill="none" stroke="#c4c6c6" stroke-width="0.4"/><circle cx="38.56" cy="504.20" r="1.95" fill="#565858" stroke="#141414" stroke-width="0.6"/><path d="M38.34 505.64 A1.46 1.46 0 0 1 37.21 503.65" fill="none" stroke="#c4c6c6" stroke-width="0.4"/><circle cx="33.26" cy="502.69" r="1.68" fill="#565858" stroke="#141414" stroke-width="0.6"/><path d="M32.05 503.05 A1.26 1.26 0 0 1 33.19 501.43" fill="none" stroke="#c4c6c6" stroke-width="0.4"/><circle cx="32.70" cy="505.46" r="1.77" fill="#565858" stroke="#141414" stroke-width="0.6"/><path d="M31.43 505.06 A1.33 1.33 0 0 1 33.38 504.31" fill="none" stroke="#c4c6c6" stroke-width="0.4"/><circle cx="29.54" cy="513.10" r="1.70" fill="#565858" stroke="#141414" stroke-width="0.6"/><path d="M28.28 513.27 A1.27 1.27 0 0 1 29.66 511.83" fill="none" stroke="#c4c6c6" stroke-width="0.4"/><circle cx="34.26" cy="507.35" r="1.72" fill="#565858" stroke="#141414" stroke-width="0.6"/><path d="M34.74 508.55 A1.29 1.29 0 0 1 32.98 507.55" fill="none" stroke="#c4c6c6" stroke-width="0.4"/><circle cx="27.47" cy="506.54" r="1.78" fill="#565858" stroke="#141414" stroke-width="0.6"/><path d="M28.65 505.93 A1.34 1.34 0 0 1 27.79 507.84" fill="none" stroke="#c4c6c6" stroke-width="0.4"/><circle cx="37.18" cy="513.96" r="1.72" fill="#565858" stroke="#141414" stroke-width="0.6"/><path d="M36.59 515.11 A1.29 1.29 0 0 1 36.20 513.13" fill="none" stroke="#c4c6c6" stroke-width="0.4"/><circle cx="43.19" cy="512.45" r="4.01" fill="#1a1a1a" stroke="#1a1a1a" stroke-width="1.4"/><circle cx="42.84" cy="515.22" r="3.12" fill="#1a1a1a" stroke="#1a1a1a" stroke-width="1.4"/><circle cx="45.02" cy="513.14" r="3.44" fill="#1a1a1a" stroke="#1a1a1a" stroke-width="1.4"/><circle cx="41.40" cy="511.05" r="3.54" fill="#1a1a1a" stroke="#1a1a1a" stroke-width="1.4"/><circle cx="40.46" cy="512.16" r="3.25" fill="#1a1a1a" stroke="#1a1a1a" stroke-width="1.4"/><circle cx="43.39" cy="510.02" r="3.87" fill="#1a1a1a" stroke="#1a1a1a" stroke-width="1.4"/><circle cx="43.19" cy="512.45" r="4.01" fill="#535555"/><circle cx="42.84" cy="515.22" r="3.12" fill="#535555"/><circle cx="45.02" cy="513.14" r="3.44" fill="#535555"/><circle cx="41.40" cy="511.05" r="3.54" fill="#535555"/><circle cx="40.46" cy="512.16" r="3.25" fill="#535555"/><circle cx="43.39" cy="510.02" r="3.87" fill="#535555"/><circle cx="41.00" cy="507.96" r="1.39" fill="#565858" stroke="#141414" stroke-width="0.6"/><path d="M40.48 507.05 A1.05 1.05 0 0 1 42.00 507.67" fill="none" stroke="#c4c6c6" stroke-width="0.4"/><circle cx="44.67" cy="514.25" r="1.53" fill="#565858" stroke="#141414" stroke-width="0.6"/><path d="M44.47 515.38 A1.15 1.15 0 0 1 43.61 513.80" fill="none" stroke="#c4c6c6" stroke-width="0.4"/><circle cx="44.03" cy="511.10" r="1.71" fill="#565858" stroke="#141414" stroke-width="0.6"/><path d="M45.16 510.50 A1.28 1.28 0 0 1 44.36 512.34" fill="none" stroke="#c4c6c6" stroke-width="0.4"/><circle cx="45.87" cy="512.38" r="1.55" fill="#565858" stroke="#141414" stroke-width="0.6"/><path d="M45.08 511.52 A1.16 1.16 0 0 1 46.88 511.81" fill="none" stroke="#c4c6c6" stroke-width="0.4"/><circle cx="42.23" cy="509.27" r="1.17" fill="#565858" stroke="#141414" stroke-width="0.6"/><path d="M41.49 509.74 A0.88 0.88 0 0 1 41.94 508.44" fill="none" stroke="#c4c6c6" stroke-width="0.4"/><circle cx="41.50" cy="511.91" r="1.38" fill="#565858" stroke="#141414" stroke-width="0.6"/><path d="M42.54 511.86 A1.04 1.04 0 0 1 41.31 512.92" fill="none" stroke="#c4c6c6" stroke-width="0.4"/><circle cx="46.00" cy="516.30" r="1.30" fill="#565858" stroke="#141414" stroke-width="0.6"/><path d="M45.29 515.63 A0.97 0.97 0 0 1 46.81 515.77" fill="none" stroke="#c4c6c6" stroke-width="0.4"/><circle cx="35.11" cy="523.22" r="4.59" fill="#1a1a1a" stroke="#1a1a1a" stroke-width="1.4"/><circle cx="37.54" cy="525.25" r="4.10" fill="#1a1a1a" stroke="#1a1a1a" stroke-width="1.4"/><circle cx="34.49" cy="525.76" r="3.72" fill="#1a1a1a" stroke="#1a1a1a" stroke-width="1.4"/><circle cx="32.27" cy="522.75" r="4.05" fill="#1a1a1a" stroke="#1a1a1a" stroke-width="1.4"/><circle cx="38.16" cy="523.35" r="4.43" fill="#1a1a1a" stroke="#1a1a1a" stroke-width="1.4"/><circle cx="33.24" cy="524.96" r="3.93" fill="#1a1a1a" stroke="#1a1a1a" stroke-width="1.4"/><circle cx="35.11" cy="523.22" r="4.59" fill="#535555"/><circle cx="37.54" cy="525.25" r="4.10" fill="#535555"/><circle cx="34.49" cy="525.76" r="3.72" fill="#535555"/><circle cx="32.27" cy="522.75" r="4.05" fill="#535555"/><circle cx="38.16" cy="523.35" r="4.43" fill="#535555"/><circle cx="33.24" cy="524.96" r="3.93" fill="#535555"/><circle cx="36.39" cy="519.53" r="1.57" fill="#565858" stroke="#141414" stroke-width="0.6"/><path d="M36.52 520.69 A1.17 1.17 0 0 1 35.22 519.39" fill="none" stroke="#c4c6c6" stroke-width="0.4"/><circle cx="36.59" cy="520.16" r="2.05" fill="#565858" stroke="#141414" stroke-width="0.6"/><path d="M35.40 519.19 A1.54 1.54 0 0 1 37.80 519.21" fill="none" stroke="#c4c6c6" stroke-width="0.4"/><circle cx="35.27" cy="526.60" r="2.05" fill="#565858" stroke="#141414" stroke-width="0.6"/><path d="M36.46 525.63 A1.54 1.54 0 0 1 35.94 527.98" fill="none" stroke="#c4c6c6" stroke-width="0.4"/><circle cx="36.02" cy="522.96" r="1.47" fill="#565858" stroke="#141414" stroke-width="0.6"/><path d="M36.90 522.29 A1.10 1.10 0 0 1 36.48 523.96" fill="none" stroke="#c4c6c6" stroke-width="0.4"/><circle cx="33.78" cy="527.35" r="1.51" fill="#565858" stroke="#141414" stroke-width="0.6"/><path d="M32.95 526.57 A1.13 1.13 0 0 1 34.72 526.72" fill="none" stroke="#c4c6c6" stroke-width="0.4"/><circle cx="30.15" cy="525.29" r="1.85" fill="#565858" stroke="#141414" stroke-width="0.6"/><path d="M28.89 525.88 A1.39 1.39 0 0 1 29.86 523.93" fill="none" stroke="#c4c6c6" stroke-width="0.4"/><circle cx="33.95" cy="523.49" r="1.81" fill="#565858" stroke="#141414" stroke-width="0.6"/><path d="M32.65 523.88 A1.36 1.36 0 0 1 33.86 522.13" fill="none" stroke="#c4c6c6" stroke-width="0.4"/><circle cx="36.66" cy="523.32" r="1.45" fill="#565858" stroke="#141414" stroke-width="0.6"/><path d="M35.74 523.90 A1.08 1.08 0 0 1 36.30 522.30" fill="none" stroke="#c4c6c6" stroke-width="0.4"/><circle cx="48.57" cy="525.24" r="3.76" fill="#1a1a1a" stroke="#1a1a1a" stroke-width="1.4"/><circle cx="46.17" cy="525.22" r="3.57" fill="#1a1a1a" stroke="#1a1a1a" stroke-width="1.4"/><circle cx="49.70" cy="526.88" r="3.11" fill="#1a1a1a" stroke="#1a1a1a" stroke-width="1.4"/><circle cx="46.52" cy="526.69" r="3.54" fill="#1a1a1a" stroke="#1a1a1a" stroke-width="1.4"/><circle cx="46.49" cy="523.96" r="3.40" fill="#1a1a1a" stroke="#1a1a1a" stroke-width="1.4"/><circle cx="50.37" cy="526.41" r="3.06" fill="#1a1a1a" stroke="#1a1a1a" stroke-width="1.4"/><circle cx="48.57" cy="525.24" r="3.76" fill="#535555"/><circle cx="46.17" cy="525.22" r="3.57" fill="#535555"/><circle cx="49.70" cy="526.88" r="3.11" fill="#535555"/><circle cx="46.52" cy="526.69" r="3.54" fill="#535555"/><circle cx="46.49" cy="523.96" r="3.40" fill="#535555"/><circle cx="50.37" cy="526.41" r="3.06" fill="#535555"/><circle cx="50.98" cy="526.47" r="1.15" fill="#565858" stroke="#141414" stroke-width="0.6"/><path d="M50.50 525.75 A0.86 0.86 0 0 1 51.78 526.16" fill="none" stroke="#c4c6c6" stroke-width="0.4"/><circle cx="47.78" cy="527.97" r="1.65" fill="#565858" stroke="#141414" stroke-width="0.6"/><path d="M46.54 527.90 A1.24 1.24 0 0 1 48.13 526.78" fill="none" stroke="#c4c6c6" stroke-width="0.4"/><circle cx="52.36" cy="524.55" r="1.38" fill="#565858" stroke="#141414" stroke-width="0.6"/><path d="M52.78 523.60 A1.03 1.03 0 0 1 53.19 525.17" fill="none" stroke="#c4c6c6" stroke-width="0.4"/><circle cx="49.77" cy="529.66" r="1.30" fill="#565858" stroke="#141414" stroke-width="0.6"/><path d="M50.68 530.02 A0.98 0.98 0 0 1 49.21 530.46" fill="none" stroke="#c4c6c6" stroke-width="0.4"/><circle cx="47.12" cy="524.61" r="1.41" fill="#565858" stroke="#141414" stroke-width="0.6"/><path d="M46.40 523.83 A1.06 1.06 0 0 1 48.04 524.09" fill="none" stroke="#c4c6c6" stroke-width="0.4"/><circle cx="47.89" cy="521.27" r="1.04" fill="#565858" stroke="#141414" stroke-width="0.6"/><path d="M48.67 521.28 A0.78 0.78 0 0 1 47.70 522.02" fill="none" stroke="#c4c6c6" stroke-width="0.4"/><circle cx="59.34" cy="524.57" r="3.76" fill="#1a1a1a" stroke="#1a1a1a" stroke-width="1.4"/><circle cx="58.77" cy="522.32" r="3.56" fill="#1a1a1a" stroke="#1a1a1a" stroke-width="1.4"/><circle cx="57.81" cy="525.71" r="2.74" fill="#1a1a1a" stroke="#1a1a1a" stroke-width="1.4"/><circle cx="61.28" cy="524.93" r="3.42" fill="#1a1a1a" stroke="#1a1a1a" stroke-width="1.4"/><circle cx="56.96" cy="523.50" r="3.54" fill="#1a1a1a" stroke="#1a1a1a" stroke-width="1.4"/><circle cx="57.40" cy="524.39" r="2.91" fill="#1a1a1a" stroke="#1a1a1a" stroke-width="1.4"/><circle cx="59.34" cy="524.57" r="3.76" fill="#535555"/><circle cx="58.77" cy="522.32" r="3.56" fill="#535555"/><circle cx="57.81" cy="525.71" r="2.74" fill="#535555"/><circle cx="61.28" cy="524.93" r="3.42" fill="#535555"/><circle cx="56.96" cy="523.50" r="3.54" fill="#535555"/><circle cx="57.40" cy="524.39" r="2.91" fill="#535555"/><circle cx="57.86" cy="523.46" r="1.37" fill="#565858" stroke="#141414" stroke-width="0.6"/><path d="M56.83 523.40 A1.03 1.03 0 0 1 58.15 522.47" fill="none" stroke="#c4c6c6" stroke-width="0.4"/><circle cx="60.65" cy="524.81" r="1.66" fill="#565858" stroke="#141414" stroke-width="0.6"/><path d="M59.41 524.88 A1.25 1.25 0 0 1 60.86 523.58" fill="none" stroke="#c4c6c6" stroke-width="0.4"/><circle cx="56.23" cy="525.21" r="1.56" fill="#565858" stroke="#141414" stroke-width="0.6"/><path d="M55.54 524.26 A1.17 1.17 0 0 1 57.31 524.75" fill="none" stroke="#c4c6c6" stroke-width="0.4"/><circle cx="57.87" cy="521.19" r="1.13" fill="#565858" stroke="#141414" stroke-width="0.6"/><path d="M57.93 522.03 A0.84 0.84 0 0 1 57.03 521.06" fill="none" stroke="#c4c6c6" stroke-width="0.4"/><circle cx="59.20" cy="525.43" r="1.45" fill="#565858" stroke="#141414" stroke-width="0.6"/><path d="M59.89 524.59 A1.09 1.09 0 0 1 59.86 526.29" fill="none" stroke="#c4c6c6" stroke-width="0.4"/><circle cx="60.49" cy="524.17" r="1.16" fill="#565858" stroke="#141414" stroke-width="0.6"/><path d="M59.87 523.56 A0.87 0.87 0 0 1 61.22 523.71" fill="none" stroke="#c4c6c6" stroke-width="0.4"/><circle cx="87.60" cy="528.60" r="4.04" fill="#4a5050" stroke="#1a1a1a" stroke-width="0.81"/><circle cx="87.60" cy="528.60" r="4.64" fill="none" stroke="#7a7e7e" stroke-width="0.55"/><circle cx="28.82" cy="474.06" r="2.41" fill="#22d4dc"/><circle cx="28.47" cy="473.05" r="2.43" fill="#22d4dc"/><circle cx="25.11" cy="475.32" r="1.10" fill="#22d4dc"/><circle cx="25.25" cy="475.21" r="1.19" fill="#22d4dc"/><circle cx="24.38" cy="474.95" r="0.99" fill="#22d4dc"/><circle cx="49.35" cy="464.57" r="1.69" fill="#22d4dc"/><circle cx="48.07" cy="463.69" r="1.56" fill="#22d4dc"/><circle cx="47.63" cy="465.37" r="1.37" fill="#22d4dc"/><circle cx="49.11" cy="464.09" r="1.44" fill="#22d4dc"/><circle cx="54.30" cy="466.17" r="1.00" fill="#22d4dc"/><circle cx="53.46" cy="465.14" r="1.08" fill="#22d4dc"/><circle cx="53.46" cy="465.78" r="0.92" fill="#22d4dc"/><circle cx="54.55" cy="465.93" r="1.02" fill="#22d4dc"/><circle cx="68.09" cy="466.02" r="2.02" fill="#f2ec3a"/><circle cx="70.00" cy="468.70" r="1.52" fill="#22d4dc"/><circle cx="69.94" cy="468.40" r="1.37" fill="#22d4dc"/><circle cx="71.08" cy="467.20" r="1.42" fill="#22d4dc"/><circle cx="73.37" cy="466.17" r="0.95" fill="#22d4dc"/><circle cx="72.69" cy="465.64" r="1.17" fill="#22d4dc"/><circle cx="73.82" cy="465.88" r="1.14" fill="#22d4dc"/><circle cx="60.35" cy="478.42" r="2.00" fill="#22d4dc"/><circle cx="60.22" cy="479.65" r="2.37" fill="#22d4dc"/><circle cx="60.56" cy="477.91" r="2.46" fill="#22d4dc"/><circle cx="60.25" cy="478.71" r="2.46" fill="#22d4dc"/><circle cx="58.64" cy="478.61" r="1.13" fill="#22d4dc"/><circle cx="59.34" cy="477.21" r="1.12" fill="#22d4dc"/><circle cx="59.91" cy="477.37" r="1.39" fill="#22d4dc"/><circle cx="62.90" cy="480.10" r="1.21" fill="#22d4dc"/><circle cx="62.89" cy="481.23" r="1.15" fill="#22d4dc"/><circle cx="74.14" cy="480.82" r="2.02" fill="#f2ec3a"/><circle cx="77.59" cy="482.74" r="1.69" fill="#22d4dc"/><circle cx="77.11" cy="481.06" r="1.92" fill="#22d4dc"/><circle cx="77.91" cy="482.39" r="1.81" fill="#22d4dc"/><circle cx="79.23" cy="486.07" r="1.55" fill="#22d4dc"/><circle cx="78.75" cy="485.85" r="1.58" fill="#22d4dc"/><circle cx="78.75" cy="484.05" r="1.78" fill="#22d4dc"/><circle cx="72.80" cy="486.21" r="2.02" fill="#f2ec3a"/><circle cx="74.82" cy="487.55" r="1.35" fill="#f2ec3a"/><circle cx="77.18" cy="484.88" r="1.40" fill="#22d4dc"/><circle cx="76.46" cy="483.23" r="1.09" fill="#22d4dc"/><circle cx="76.60" cy="483.40" r="1.48" fill="#22d4dc"/><circle cx="66.74" cy="492.49" r="1.44" fill="#22d4dc"/><circle cx="68.39" cy="492.45" r="1.72" fill="#22d4dc"/><circle cx="67.24" cy="490.85" r="1.37" fill="#22d4dc"/><circle cx="67.87" cy="492.32" r="1.50" fill="#22d4dc"/><circle cx="68.76" cy="494.28" r="2.02" fill="#f2ec3a"/><circle cx="64.72" cy="495.63" r="2.02" fill="#f2ec3a"/><circle cx="60.59" cy="495.68" r="2.00" fill="#22d4dc"/><circle cx="61.90" cy="496.51" r="1.76" fill="#22d4dc"/><circle cx="59.41" cy="496.99" r="2.17" fill="#22d4dc"/><circle cx="60.05" cy="495.82" r="2.18" fill="#22d4dc"/><circle cx="62.03" cy="498.32" r="1.62" fill="#f2ec3a"/><circle cx="62.77" cy="499.75" r="1.79" fill="#22d4dc"/><circle cx="63.49" cy="501.42" r="1.98" fill="#22d4dc"/><circle cx="74.84" cy="510.88" r="1.65" fill="#22d4dc"/><circle cx="72.86" cy="512.43" r="1.83" fill="#22d4dc"/><circle cx="37.77" cy="503.15" r="2.46" fill="#22d4dc"/><circle cx="38.28" cy="501.58" r="2.15" fill="#22d4dc"/><circle cx="35.79" cy="500.34" r="1.35" fill="#f2ec3a"/><circle cx="37.40" cy="504.05" r="1.81" fill="#22d4dc"/><circle cx="36.03" cy="503.26" r="1.76" fill="#22d4dc"/><circle cx="35.75" cy="503.64" r="1.38" fill="#22d4dc"/><circle cx="29.06" cy="507.07" r="2.02" fill="#f2ec3a"/><circle cx="28.59" cy="510.31" r="2.17" fill="#22d4dc"/><circle cx="30.74" cy="510.80" r="1.65" fill="#22d4dc"/><circle cx="29.30" cy="508.34" r="1.78" fill="#22d4dc"/><circle cx="34.43" cy="511.52" r="1.95" fill="#22d4dc"/><circle cx="33.10" cy="512.71" r="1.84" fill="#22d4dc"/><circle cx="32.21" cy="512.33" r="1.81" fill="#22d4dc"/><circle cx="33.44" cy="507.65" r="1.27" fill="#22d4dc"/><circle cx="33.60" cy="507.84" r="1.36" fill="#22d4dc"/><circle cx="34.37" cy="509.09" r="1.36" fill="#22d4dc"/><circle cx="43.81" cy="508.54" r="1.63" fill="#22d4dc"/><circle cx="42.57" cy="510.16" r="1.62" fill="#22d4dc"/><circle cx="43.24" cy="508.25" r="1.68" fill="#22d4dc"/><circle cx="51.79" cy="510.27" r="1.46" fill="#22d4dc"/><circle cx="50.99" cy="510.41" r="1.59" fill="#22d4dc"/><circle cx="52.51" cy="511.45" r="1.50" fill="#22d4dc"/><circle cx="51.98" cy="511.70" r="1.83" fill="#22d4dc"/><circle cx="52.82" cy="516.06" r="1.53" fill="#22d4dc"/><circle cx="53.67" cy="515.83" r="1.36" fill="#22d4dc"/><circle cx="54.48" cy="515.08" r="1.40" fill="#22d4dc"/><circle cx="51.94" cy="514.47" r="1.35" fill="#f2ec3a"/><circle cx="26.98" cy="519.02" r="1.69" fill="#22d4dc"/><circle cx="24.49" cy="519.27" r="1.74" fill="#22d4dc"/><circle cx="24.83" cy="518.94" r="2.17" fill="#22d4dc"/><circle cx="27.96" cy="520.74" r="2.01" fill="#22d4dc"/><circle cx="29.05" cy="522.94" r="1.71" fill="#22d4dc"/><circle cx="30.49" cy="522.13" r="2.12" fill="#22d4dc"/><circle cx="24.97" cy="525.35" r="1.29" fill="#22d4dc"/><circle cx="26.43" cy="524.00" r="1.12" fill="#22d4dc"/><circle cx="25.55" cy="523.84" r="1.33" fill="#22d4dc"/><circle cx="29.73" cy="526.58" r="2.02" fill="#f2ec3a"/><circle cx="33.09" cy="530.80" r="2.02" fill="#22d4dc"/><circle cx="31.45" cy="530.33" r="2.05" fill="#22d4dc"/><circle cx="33.00" cy="528.25" r="1.83" fill="#22d4dc"/><circle cx="31.05" cy="528.66" r="2.34" fill="#22d4dc"/><circle cx="36.51" cy="526.76" r="1.07" fill="#22d4dc"/><circle cx="35.23" cy="527.26" r="1.00" fill="#22d4dc"/><circle cx="35.33" cy="527.00" r="1.13" fill="#22d4dc"/><circle cx="36.13" cy="527.83" r="1.22" fill="#22d4dc"/><circle cx="40.50" cy="523.22" r="1.62" fill="#f2ec3a"/><circle cx="43.19" cy="525.24" r="1.62" fill="#f2ec3a"/><circle cx="45.79" cy="527.76" r="1.59" fill="#22d4dc"/><circle cx="44.73" cy="528.88" r="1.37" fill="#22d4dc"/><circle cx="49.24" cy="527.26" r="2.02" fill="#f2ec3a"/><circle cx="47.04" cy="531.24" r="1.38" fill="#22d4dc"/><circle cx="46.24" cy="529.37" r="1.39" fill="#22d4dc"/><circle cx="47.88" cy="530.70" r="1.44" fill="#22d4dc"/><circle cx="46.40" cy="529.66" r="1.36" fill="#22d4dc"/><circle cx="51.26" cy="531.97" r="1.62" fill="#f2ec3a"/><circle cx="55.71" cy="524.82" r="1.62" fill="#22d4dc"/><circle cx="55.65" cy="525.13" r="1.62" fill="#22d4dc"/><circle cx="56.06" cy="524.65" r="1.55" fill="#22d4dc"/><circle cx="57.99" cy="523.89" r="1.62" fill="#f2ec3a"/><circle cx="61.36" cy="523.22" r="2.42" fill="#f2ec3a"/><circle cx="63.38" cy="525.24" r="1.62" fill="#f2ec3a"/><circle cx="64.34" cy="525.86" r="1.69" fill="#22d4dc"/><circle cx="63.34" cy="526.00" r="1.64" fill="#22d4dc"/><circle cx="59.11" cy="527.37" r="1.20" fill="#22d4dc"/><circle cx="59.44" cy="528.11" r="1.09" fill="#22d4dc"/><circle cx="60.36" cy="528.12" r="1.26" fill="#22d4dc"/><circle cx="72.79" cy="524.09" r="1.63" fill="#22d4dc"/><circle cx="73.03" cy="522.88" r="1.47" fill="#22d4dc"/><circle cx="73.47" cy="527.26" r="1.62" fill="#f2ec3a"/><circle cx="70.35" cy="528.93" r="0.96" fill="#22d4dc"/><circle cx="71.33" cy="528.15" r="0.94" fill="#22d4dc"/><circle cx="71.17" cy="528.15" r="0.93" fill="#22d4dc"/><circle cx="70.19" cy="528.49" r="1.06" fill="#22d4dc"/><circle cx="86.49" cy="530.19" r="2.07" fill="#22d4dc"/><circle cx="84.65" cy="528.47" r="2.04" fill="#22d4dc"/><circle cx="85.29" cy="529.23" r="2.30" fill="#22d4dc"/><circle cx="87.29" cy="527.41" r="2.50" fill="#22d4dc"/><circle cx="54.68" cy="518.55" r="1.07" fill="#22d4dc"/><circle cx="54.55" cy="519.37" r="1.08" fill="#22d4dc"/><circle cx="49.17" cy="518.87" r="0.95" fill="#22d4dc"/><circle cx="50.00" cy="518.67" r="0.98" fill="#22d4dc"/><circle cx="49.57" cy="519.54" r="1.10" fill="#22d4dc"/></g></g><clipPath id="cp7"><rect x="106.0" y="465.0" width="70.2" height="69.0"/></clipPath><g clip-path="url(#cp7)"><rect x="106.00" y="465.00" width="70.20" height="69.00" fill="#464c4c"/><g filter="url(#bl)"><circle cx="148.72" cy="499.52" r="9.32" fill="#1a1a1a" stroke="#1a1a1a" stroke-width="1.4"/><circle cx="149.91" cy="504.56" r="8.36" fill="#1a1a1a" stroke="#1a1a1a" stroke-width="1.4"/><circle cx="142.90" cy="502.44" r="8.16" fill="#1a1a1a" stroke="#1a1a1a" stroke-width="1.4"/><circle cx="152.73" cy="495.36" r="8.83" fill="#1a1a1a" stroke="#1a1a1a" stroke-width="1.4"/><circle cx="152.08" cy="495.97" r="8.44" fill="#1a1a1a" stroke="#1a1a1a" stroke-width="1.4"/><circle cx="145.33" cy="504.75" r="8.30" fill="#1a1a1a" stroke="#1a1a1a" stroke-width="1.4"/><circle cx="148.72" cy="499.52" r="9.32" fill="#535555"/><circle cx="149.91" cy="504.56" r="8.36" fill="#535555"/><circle cx="142.90" cy="502.44" r="8.16" fill="#535555"/><circle cx="152.73" cy="495.36" r="8.83" fill="#535555"/><circle cx="152.08" cy="495.97" r="8.44" fill="#535555"/><circle cx="145.33" cy="504.75" r="8.30" fill="#535555"/><circle cx="150.64" cy="495.77" r="3.17" fill="#565858" stroke="#141414" stroke-width="0.6"/><path d="M150.45 493.40 A2.38 2.38 0 0 1 152.99 496.13" fill="none" stroke="#c4c6c6" stroke-width="0.4"/><circle cx="158.39" cy="496.24" r="2.63" fill="#565858" stroke="#141414" stroke-width="0.6"/><path d="M156.82 495.05 A1.97 1.97 0 0 1 159.91 494.99" fill="none" stroke="#c4c6c6" stroke-width="0.4"/><circle cx="155.93" cy="504.74" r="3.88" fill="#565858" stroke="#141414" stroke-width="0.6"/><path d="M158.14 506.64 A2.91 2.91 0 0 1 153.58 506.46" fill="none" stroke="#c4c6c6" stroke-width="0.4"/><circle cx="157.53" cy="495.05" r="2.98" fill="#565858" stroke="#141414" stroke-width="0.6"/><path d="M158.31 497.14 A2.23 2.23 0 0 1 155.31 495.34" fill="none" stroke="#c4c6c6" stroke-width="0.4"/><circle cx="138.32" cy="503.13" r="3.52" fill="#565858" stroke="#141414" stroke-width="0.6"/><path d="M140.31 504.86 A2.64 2.64 0 0 1 136.19 504.68" fill="none" stroke="#c4c6c6" stroke-width="0.4"/><circle cx="152.68" cy="500.04" r="3.88" fill="#565858" stroke="#141414" stroke-width="0.6"/><path d="M153.83 502.71 A2.91 2.91 0 0 1 149.81 500.56" fill="none" stroke="#c4c6c6" stroke-width="0.4"/><circle cx="142.61" cy="497.35" r="3.69" fill="#565858" stroke="#141414" stroke-width="0.6"/><path d="M140.59 499.24 A2.77 2.77 0 0 1 141.24 494.95" fill="none" stroke="#c4c6c6" stroke-width="0.4"/><circle cx="155.65" cy="508.37" r="3.44" fill="#565858" stroke="#141414" stroke-width="0.6"/><path d="M154.69 505.97 A2.58 2.58 0 0 1 158.21 507.99" fill="none" stroke="#c4c6c6" stroke-width="0.4"/><circle cx="152.90" cy="488.58" r="2.58" fill="#565858" stroke="#141414" stroke-width="0.6"/><path d="M151.84 490.20 A1.93 1.93 0 0 1 151.57 487.18" fill="none" stroke="#c4c6c6" stroke-width="0.4"/><circle cx="153.68" cy="506.44" r="4.00" fill="#565858" stroke="#141414" stroke-width="0.6"/><path d="M154.62 503.59 A3.00 3.00 0 0 1 156.24 508.00" fill="none" stroke="#c4c6c6" stroke-width="0.4"/><circle cx="153.72" cy="500.65" r="3.91" fill="#565858" stroke="#141414" stroke-width="0.6"/><path d="M152.47 498.01 A2.93 2.93 0 0 1 156.59 500.03" fill="none" stroke="#c4c6c6" stroke-width="0.4"/><circle cx="142.24" cy="504.70" r="2.82" fill="#565858" stroke="#141414" stroke-width="0.6"/><path d="M143.43 502.95 A2.11 2.11 0 0 1 143.67 506.26" fill="none" stroke="#c4c6c6" stroke-width="0.4"/><circle cx="139.91" cy="506.49" r="3.56" fill="#565858" stroke="#141414" stroke-width="0.6"/><path d="M142.28 507.72 A2.67 2.67 0 0 1 138.17 508.53" fill="none" stroke="#c4c6c6" stroke-width="0.4"/><circle cx="146.04" cy="504.43" r="4.03" fill="#565858" stroke="#141414" stroke-width="0.6"/><path d="M143.48 502.82 A3.02 3.02 0 0 1 148.19 502.30" fill="none" stroke="#c4c6c6" stroke-width="0.4"/><circle cx="153.48" cy="500.86" r="3.15" fill="#565858" stroke="#141414" stroke-width="0.6"/><path d="M151.17 501.34 A2.36 2.36 0 0 1 153.55 498.50" fill="none" stroke="#c4c6c6" stroke-width="0.4"/><circle cx="142.09" cy="496.03" r="3.14" fill="#565858" stroke="#141414" stroke-width="0.6"/><path d="M144.44 496.12 A2.35 2.35 0 0 1 141.47 498.31" fill="none" stroke="#c4c6c6" stroke-width="0.4"/><circle cx="163.74" cy="483.13" r="2.46" fill="#4a5050" stroke="#1a1a1a" stroke-width="0.55"/><circle cx="163.74" cy="483.13" r="3.06" fill="none" stroke="#7a7e7e" stroke-width="0.55"/><circle cx="161.01" cy="488.59" r="2.05" fill="#4a5050" stroke="#1a1a1a" stroke-width="0.55"/><circle cx="161.01" cy="488.59" r="2.65" fill="none" stroke="#7a7e7e" stroke-width="0.55"/><circle cx="136.42" cy="496.79" r="2.73" fill="#4a5050" stroke="#1a1a1a" stroke-width="0.55"/><circle cx="136.42" cy="496.79" r="3.33" fill="none" stroke="#7a7e7e" stroke-width="0.55"/><circle cx="118.66" cy="487.91" r="5.46" fill="#4a5050" stroke="#1a1a1a" stroke-width="1.09"/><circle cx="118.66" cy="487.91" r="6.06" fill="none" stroke="#7a7e7e" stroke-width="0.55"/><circle cx="171.26" cy="502.93" r="1.64" fill="#4a5050" stroke="#1a1a1a" stroke-width="0.55"/><circle cx="171.26" cy="502.93" r="2.24" fill="none" stroke="#7a7e7e" stroke-width="0.55"/><circle cx="107.27" cy="482.55" r="1.93" fill="#22d4dc"/><circle cx="108.66" cy="481.68" r="1.74" fill="#22d4dc"/><circle cx="107.21" cy="480.79" r="1.81" fill="#22d4dc"/><circle cx="106.64" cy="481.76" r="1.99" fill="#22d4dc"/><circle cx="105.68" cy="484.49" r="0.68" fill="#f2ec3a"/><circle cx="116.85" cy="485.81" r="1.99" fill="#22d4dc"/><circle cx="116.13" cy="484.32" r="2.11" fill="#22d4dc"/><circle cx="115.01" cy="484.84" r="1.87" fill="#22d4dc"/><circle cx="120.32" cy="487.55" r="2.13" fill="#22d4dc"/><circle cx="120.63" cy="489.33" r="2.23" fill="#22d4dc"/><circle cx="119.39" cy="489.57" r="2.16" fill="#22d4dc"/><circle cx="113.88" cy="490.64" r="1.91" fill="#f2ec3a"/><circle cx="117.98" cy="491.32" r="1.09" fill="#f2ec3a"/><circle cx="110.55" cy="508.54" r="1.47" fill="#22d4dc"/><circle cx="111.98" cy="508.05" r="1.43" fill="#22d4dc"/><circle cx="112.13" cy="507.64" r="1.45" fill="#22d4dc"/><circle cx="115.71" cy="505.84" r="1.35" fill="#22d4dc"/><circle cx="115.58" cy="508.20" r="1.60" fill="#22d4dc"/><circle cx="114.48" cy="507.56" r="1.64" fill="#22d4dc"/><circle cx="118.09" cy="504.64" r="1.39" fill="#22d4dc"/><circle cx="118.65" cy="505.87" r="1.36" fill="#22d4dc"/><circle cx="119.28" cy="504.85" r="1.18" fill="#22d4dc"/><circle cx="149.00" cy="492.05" r="2.07" fill="#22d4dc"/><circle cx="148.31" cy="493.05" r="2.29" fill="#22d4dc"/><circle cx="154.78" cy="493.77" r="1.76" fill="#22d4dc"/><circle cx="155.23" cy="493.95" r="2.11" fill="#22d4dc"/><circle cx="147.43" cy="499.85" r="1.87" fill="#22d4dc"/><circle cx="145.70" cy="499.40" r="2.02" fill="#22d4dc"/><circle cx="146.27" cy="498.82" r="1.99" fill="#22d4dc"/><circle cx="147.59" cy="503.92" r="2.07" fill="#22d4dc"/><circle cx="146.68" cy="502.53" r="2.27" fill="#22d4dc"/><circle cx="144.17" cy="505.01" r="1.70" fill="#22d4dc"/><circle cx="144.20" cy="505.07" r="1.39" fill="#22d4dc"/><circle cx="142.69" cy="506.15" r="1.39" fill="#22d4dc"/><circle cx="155.49" cy="504.58" r="2.26" fill="#22d4dc"/><circle cx="158.30" cy="504.14" r="2.05" fill="#22d4dc"/><circle cx="155.93" cy="502.61" r="2.38" fill="#22d4dc"/><circle cx="155.82" cy="502.85" r="2.36" fill="#22d4dc"/><circle cx="155.80" cy="501.04" r="1.70" fill="#22d4dc"/><circle cx="154.47" cy="501.82" r="1.73" fill="#22d4dc"/><circle cx="150.77" cy="496.79" r="1.64" fill="#f2ec3a"/><circle cx="157.60" cy="500.20" r="1.37" fill="#f2ec3a"/><circle cx="159.64" cy="507.72" r="1.09" fill="#f2ec3a"/><circle cx="173.31" cy="475.61" r="1.09" fill="#f2ec3a"/><circle cx="146.67" cy="517.96" r="1.37" fill="#f2ec3a"/><circle cx="156.91" cy="527.52" r="2.10" fill="none" stroke="#22d4dc" stroke-width="1.80"/><circle cx="128.73" cy="531.02" r="1.78" fill="#22d4dc"/><circle cx="126.72" cy="529.97" r="1.86" fill="#22d4dc"/><circle cx="127.48" cy="531.14" r="2.06" fill="#22d4dc"/><circle cx="125.68" cy="530.87" r="1.23" fill="#22d4dc"/><circle cx="126.13" cy="530.90" r="1.38" fill="#22d4dc"/><circle cx="126.26" cy="530.64" r="1.22" fill="#22d4dc"/></g></g><clipPath id="cp8"><rect x="189.0" y="464.8" width="69.2" height="68.4"/></clipPath><g clip-path="url(#cp8)"><rect x="189.00" y="464.80" width="69.20" height="68.40" fill="#464c4c"/><g filter="url(#bl)"><circle cx="202.34" cy="470.15" r="5.19" fill="#4a5050" stroke="#1a1a1a" stroke-width="1.04"/><circle cx="202.34" cy="470.15" r="5.79" fill="none" stroke="#7a7e7e" stroke-width="0.55"/><circle cx="222.15" cy="479.71" r="5.19" fill="#4a5050" stroke="#1a1a1a" stroke-width="1.04"/><circle cx="222.15" cy="479.71" r="5.79" fill="none" stroke="#7a7e7e" stroke-width="0.55"/><circle cx="194.83" cy="485.86" r="4.78" fill="#4a5050" stroke="#1a1a1a" stroke-width="0.96"/><circle cx="194.83" cy="485.86" r="5.38" fill="none" stroke="#7a7e7e" stroke-width="0.55"/><circle cx="205.08" cy="487.91" r="5.19" fill="#4a5050" stroke="#1a1a1a" stroke-width="1.04"/><circle cx="205.08" cy="487.91" r="5.79" fill="none" stroke="#7a7e7e" stroke-width="0.55"/><circle cx="200.98" cy="500.89" r="5.46" fill="#4a5050" stroke="#1a1a1a" stroke-width="1.09"/><circle cx="200.98" cy="500.89" r="6.06" fill="none" stroke="#7a7e7e" stroke-width="0.55"/><circle cx="213.27" cy="498.84" r="5.19" fill="#4a5050" stroke="#1a1a1a" stroke-width="1.04"/><circle cx="213.27" cy="498.84" r="5.79" fill="none" stroke="#7a7e7e" stroke-width="0.55"/><circle cx="215.32" cy="511.81" r="5.74" fill="#4a5050" stroke="#1a1a1a" stroke-width="1.15"/><circle cx="215.32" cy="511.81" r="6.34" fill="none" stroke="#7a7e7e" stroke-width="0.55"/><circle cx="230.35" cy="516.60" r="5.46" fill="#4a5050" stroke="#1a1a1a" stroke-width="1.09"/><circle cx="230.35" cy="516.60" r="6.06" fill="none" stroke="#7a7e7e" stroke-width="0.55"/><circle cx="230.35" cy="496.79" r="5.19" fill="#4a5050" stroke="#1a1a1a" stroke-width="1.04"/><circle cx="230.35" cy="496.79" r="5.79" fill="none" stroke="#7a7e7e" stroke-width="0.55"/><circle cx="196.20" cy="525.48" r="5.19" fill="#4a5050" stroke="#1a1a1a" stroke-width="1.04"/><circle cx="196.20" cy="525.48" r="5.79" fill="none" stroke="#7a7e7e" stroke-width="0.55"/><circle cx="205.08" cy="522.74" r="5.19" fill="#4a5050" stroke="#1a1a1a" stroke-width="1.04"/><circle cx="205.08" cy="522.74" r="5.79" fill="none" stroke="#7a7e7e" stroke-width="0.55"/><circle cx="214.64" cy="527.52" r="5.19" fill="#4a5050" stroke="#1a1a1a" stroke-width="1.04"/><circle cx="214.64" cy="527.52" r="5.79" fill="none" stroke="#7a7e7e" stroke-width="0.55"/><circle cx="252.21" cy="467.42" r="5.19" fill="#4a5050" stroke="#1a1a1a" stroke-width="1.04"/><circle cx="252.21" cy="467.42" r="5.79" fill="none" stroke="#7a7e7e" stroke-width="0.55"/><circle cx="250.84" cy="529.57" r="5.19" fill="#4a5050" stroke="#1a1a1a" stroke-width="1.04"/><circle cx="250.84" cy="529.57" r="5.79" fill="none" stroke="#7a7e7e" stroke-width="0.55"/><circle cx="202.80" cy="469.79" r="1.64" fill="#22d4dc"/><circle cx="203.57" cy="471.05" r="1.65" fill="#22d4dc"/><circle cx="204.73" cy="470.88" r="1.86" fill="#22d4dc"/><circle cx="204.38" cy="471.07" r="1.58" fill="#22d4dc"/><circle cx="221.02" cy="477.96" r="1.24" fill="#22d4dc"/><circle cx="219.37" cy="478.14" r="1.53" fill="#22d4dc"/><circle cx="220.77" cy="481.49" r="1.06" fill="#22d4dc"/><circle cx="220.49" cy="482.56" r="1.35" fill="#22d4dc"/><circle cx="220.40" cy="482.24" r="1.29" fill="#22d4dc"/><circle cx="193.27" cy="484.15" r="1.09" fill="#22d4dc"/><circle cx="194.97" cy="483.30" r="1.15" fill="#22d4dc"/><circle cx="194.36" cy="484.69" r="1.02" fill="#22d4dc"/><circle cx="194.92" cy="488.93" r="1.16" fill="#22d4dc"/><circle cx="194.53" cy="488.15" r="1.22" fill="#22d4dc"/><circle cx="203.85" cy="487.36" r="1.70" fill="#22d4dc"/><circle cx="203.52" cy="487.32" r="1.39" fill="#22d4dc"/><circle cx="202.80" cy="487.04" r="1.55" fill="#22d4dc"/><circle cx="202.56" cy="488.81" r="1.51" fill="#22d4dc"/><circle cx="199.14" cy="502.58" r="1.36" fill="#22d4dc"/><circle cx="199.72" cy="500.65" r="1.41" fill="#22d4dc"/><circle cx="198.94" cy="500.39" r="1.42" fill="#22d4dc"/><circle cx="198.45" cy="502.43" r="1.70" fill="#22d4dc"/><circle cx="210.74" cy="499.86" r="1.85" fill="#22d4dc"/><circle cx="211.41" cy="499.60" r="1.77" fill="#22d4dc"/><circle cx="211.94" cy="497.86" r="1.40" fill="#22d4dc"/><circle cx="229.62" cy="497.51" r="2.25" fill="#22d4dc"/><circle cx="228.71" cy="496.98" r="1.72" fill="#22d4dc"/><circle cx="229.88" cy="495.96" r="2.20" fill="#22d4dc"/><circle cx="229.83" cy="497.28" r="1.71" fill="#22d4dc"/><circle cx="227.46" cy="518.84" r="1.37" fill="#22d4dc"/><circle cx="227.67" cy="517.86" r="1.36" fill="#22d4dc"/><circle cx="227.72" cy="519.62" r="1.45" fill="#22d4dc"/><circle cx="196.44" cy="525.93" r="1.12" fill="#22d4dc"/><circle cx="195.48" cy="526.82" r="1.27" fill="#22d4dc"/><circle cx="196.68" cy="527.21" r="1.50" fill="#22d4dc"/><circle cx="203.78" cy="523.07" r="1.85" fill="#22d4dc"/><circle cx="204.09" cy="522.55" r="1.38" fill="#22d4dc"/><circle cx="203.20" cy="523.82" r="1.69" fill="#22d4dc"/><circle cx="214.32" cy="526.65" r="1.48" fill="#22d4dc"/><circle cx="216.28" cy="527.35" r="1.44" fill="#22d4dc"/><circle cx="251.44" cy="465.32" r="1.17" fill="#22d4dc"/><circle cx="251.47" cy="466.68" r="1.12" fill="#22d4dc"/><circle cx="250.72" cy="466.00" r="1.32" fill="#22d4dc"/><circle cx="249.37" cy="530.52" r="1.40" fill="#22d4dc"/><circle cx="248.59" cy="529.84" r="1.54" fill="#22d4dc"/><circle cx="248.32" cy="530.31" r="1.75" fill="#22d4dc"/><circle cx="246.13" cy="507.48" r="1.27" fill="#22d4dc"/><circle cx="247.53" cy="506.90" r="1.25" fill="#22d4dc"/><circle cx="246.18" cy="507.39" r="1.50" fill="#22d4dc"/><circle cx="229.72" cy="516.01" r="1.37" fill="#22d4dc"/><circle cx="229.36" cy="514.40" r="1.37" fill="#22d4dc"/><path d="M231.72 484.49 L232.40 491.32 L233.77 496.79 L235.13 501.57 L239.23 504.98 L241.28 509.08" fill="none" stroke="#f2ec3a" stroke-width="3.0" stroke-linecap="round" stroke-linejoin="round"/><path d="M233.08 500.89 L237.18 501.57 L242.64 501.57 L248.11 499.52 L253.57 495.42" fill="none" stroke="#f2ec3a" stroke-width="3.0" stroke-linecap="round" stroke-linejoin="round"/><path d="M242.64 503.62 L241.28 510.45" fill="none" stroke="#f2ec3a" stroke-width="3.0" stroke-linecap="round" stroke-linejoin="round"/><path d="M254.94 517.96 L256.31 522.06" fill="none" stroke="#f2ec3a" stroke-width="3.0" stroke-linecap="round" stroke-linejoin="round"/><circle cx="233.77" cy="500.20" r="2.19" fill="#f2ec3a"/><circle cx="238.55" cy="504.98" r="2.19" fill="#f2ec3a"/><circle cx="241.96" cy="507.72" r="1.91" fill="#f2ec3a"/><circle cx="237.18" cy="502.93" r="1.91" fill="#f2ec3a"/><circle cx="245.38" cy="502.25" r="1.78" fill="#f2ec3a"/><circle cx="233.08" cy="493.37" r="1.64" fill="#f2ec3a"/><circle cx="220.79" cy="532.99" r="1.64" fill="#f2ec3a"/><circle cx="219.42" cy="531.62" r="1.37" fill="#f2ec3a"/><circle cx="250.16" cy="517.28" r="1.64" fill="#f2ec3a"/><circle cx="192.10" cy="465.37" r="2.73" fill="#f2ec3a"/></g></g><clipPath id="cp9"><rect x="272.1" y="466.1" width="69.9" height="68.7"/></clipPath><g clip-path="url(#cp9)"><rect x="272.10" y="466.10" width="69.90" height="68.70" fill="#464c4c"/><g filter="url(#bl)"><circle cx="288.08" cy="468.42" r="4.78" fill="#4a5050" stroke="#1a1a1a" stroke-width="0.96"/><circle cx="288.08" cy="468.42" r="5.38" fill="none" stroke="#7a7e7e" stroke-width="0.55"/><circle cx="288.76" cy="493.69" r="4.78" fill="#4a5050" stroke="#1a1a1a" stroke-width="0.96"/><circle cx="288.76" cy="493.69" r="5.38" fill="none" stroke="#7a7e7e" stroke-width="0.55"/><circle cx="299.69" cy="491.64" r="5.46" fill="#4a5050" stroke="#1a1a1a" stroke-width="1.09"/><circle cx="299.69" cy="491.64" r="6.06" fill="none" stroke="#7a7e7e" stroke-width="0.55"/><circle cx="307.20" cy="493.01" r="4.78" fill="#4a5050" stroke="#1a1a1a" stroke-width="0.96"/><circle cx="307.20" cy="493.01" r="5.38" fill="none" stroke="#7a7e7e" stroke-width="0.55"/><circle cx="314.72" cy="486.86" r="5.46" fill="#4a5050" stroke="#1a1a1a" stroke-width="1.09"/><circle cx="314.72" cy="486.86" r="6.06" fill="none" stroke="#7a7e7e" stroke-width="0.55"/><circle cx="317.45" cy="495.74" r="4.78" fill="#4a5050" stroke="#1a1a1a" stroke-width="0.96"/><circle cx="317.45" cy="495.74" r="5.38" fill="none" stroke="#7a7e7e" stroke-width="0.55"/><circle cx="305.84" cy="504.62" r="5.46" fill="#4a5050" stroke="#1a1a1a" stroke-width="1.09"/><circle cx="305.84" cy="504.62" r="6.06" fill="none" stroke="#7a7e7e" stroke-width="0.55"/><circle cx="330.43" cy="510.77" r="5.46" fill="#4a5050" stroke="#1a1a1a" stroke-width="1.09"/><circle cx="330.43" cy="510.77" r="6.06" fill="none" stroke="#7a7e7e" stroke-width="0.55"/><circle cx="340.67" cy="485.49" r="4.10" fill="#4a5050" stroke="#1a1a1a" stroke-width="0.82"/><circle cx="340.67" cy="485.49" r="4.70" fill="none" stroke="#7a7e7e" stroke-width="0.55"/><circle cx="339.99" cy="505.98" r="4.10" fill="#4a5050" stroke="#1a1a1a" stroke-width="0.82"/><circle cx="339.99" cy="505.98" r="4.70" fill="none" stroke="#7a7e7e" stroke-width="0.55"/><circle cx="327.69" cy="523.74" r="5.46" fill="#4a5050" stroke="#1a1a1a" stroke-width="1.09"/><circle cx="327.69" cy="523.74" r="6.06" fill="none" stroke="#7a7e7e" stroke-width="0.55"/><circle cx="335.21" cy="531.94" r="5.46" fill="#4a5050" stroke="#1a1a1a" stroke-width="1.09"/><circle cx="335.21" cy="531.94" r="6.06" fill="none" stroke="#7a7e7e" stroke-width="0.55"/><circle cx="313.35" cy="518.28" r="2.73" fill="#4a5050" stroke="#1a1a1a" stroke-width="0.55"/><circle cx="313.35" cy="518.28" r="3.33" fill="none" stroke="#7a7e7e" stroke-width="0.55"/><circle cx="313.35" cy="522.38" r="2.46" fill="#4a5050" stroke="#1a1a1a" stroke-width="0.55"/><circle cx="313.35" cy="522.38" r="3.06" fill="none" stroke="#7a7e7e" stroke-width="0.55"/><circle cx="288.08" cy="468.42" r="2.05" fill="#2b9ea8"/><circle cx="288.32" cy="492.95" r="1.80" fill="#22d4dc"/><circle cx="290.01" cy="493.96" r="1.68" fill="#22d4dc"/><circle cx="287.59" cy="493.24" r="1.70" fill="#22d4dc"/><circle cx="298.26" cy="492.05" r="2.15" fill="#22d4dc"/><circle cx="298.85" cy="490.53" r="2.06" fill="#22d4dc"/><circle cx="298.43" cy="491.26" r="2.38" fill="#22d4dc"/><circle cx="299.98" cy="489.41" r="1.49" fill="#22d4dc"/><circle cx="300.28" cy="489.83" r="1.43" fill="#22d4dc"/><circle cx="301.27" cy="489.34" r="1.37" fill="#22d4dc"/><circle cx="301.24" cy="488.46" r="1.20" fill="#22d4dc"/><circle cx="307.20" cy="493.01" r="2.19" fill="#2b9ea8"/><circle cx="314.72" cy="486.86" r="2.46" fill="#2b9ea8"/><circle cx="317.45" cy="495.74" r="2.19" fill="#2b9ea8"/><circle cx="306.48" cy="503.81" r="1.78" fill="#22d4dc"/><circle cx="304.51" cy="503.99" r="1.50" fill="#22d4dc"/><circle cx="305.88" cy="503.58" r="1.58" fill="#22d4dc"/><circle cx="306.34" cy="505.53" r="1.83" fill="#22d4dc"/><circle cx="331.03" cy="509.52" r="2.26" fill="#22d4dc"/><circle cx="331.24" cy="509.22" r="2.41" fill="#22d4dc"/><circle cx="331.70" cy="511.12" r="2.39" fill="#22d4dc"/><circle cx="339.99" cy="505.98" r="1.91" fill="#2b9ea8"/><circle cx="328.34" cy="524.37" r="1.60" fill="#22d4dc"/><circle cx="328.52" cy="524.37" r="1.90" fill="#22d4dc"/><circle cx="326.60" cy="523.60" r="1.51" fill="#22d4dc"/><circle cx="326.53" cy="524.64" r="1.84" fill="#22d4dc"/><circle cx="335.21" cy="531.94" r="3.01" fill="#2b9ea8"/><circle cx="275.10" cy="477.30" r="2.46" fill="#f2ec3a"/><circle cx="293.54" cy="497.79" r="2.05" fill="#f2ec3a"/><circle cx="290.81" cy="500.52" r="1.91" fill="#f2ec3a"/><circle cx="287.39" cy="503.93" r="1.91" fill="#f2ec3a"/><circle cx="303.79" cy="511.45" r="1.91" fill="#f2ec3a"/><circle cx="308.57" cy="513.50" r="1.64" fill="#8a8a3a"/><circle cx="279.20" cy="508.72" r="1.09" fill="#8a8a3a"/><circle cx="324.28" cy="530.57" r="1.64" fill="#8a8a3a"/><circle cx="313.35" cy="518.28" r="1.37" fill="#8a8a3a"/></g></g><clipPath id="cp10"><rect x="355.8" y="465.7" width="69.5" height="69.1"/></clipPath><g clip-path="url(#cp10)"><rect x="355.80" y="465.70" width="69.50" height="69.10" fill="#464c4c"/><g filter="url(#bl)"><circle cx="415.79" cy="524.43" r="12.30" fill="#4d4f4f"/><circle cx="408.52" cy="526.82" r="1.08" fill="none" stroke="#5a5c5c" stroke-width="0.35"/><circle cx="416.03" cy="520.15" r="1.01" fill="none" stroke="#5a5c5c" stroke-width="0.35"/><circle cx="410.44" cy="530.35" r="0.74" fill="none" stroke="#5a5c5c" stroke-width="0.35"/><circle cx="411.35" cy="529.11" r="0.83" fill="none" stroke="#5a5c5c" stroke-width="0.35"/><circle cx="420.72" cy="524.98" r="0.94" fill="none" stroke="#5a5c5c" stroke-width="0.35"/><circle cx="420.16" cy="526.08" r="1.03" fill="none" stroke="#5a5c5c" stroke-width="0.35"/><circle cx="414.82" cy="530.65" r="0.75" fill="none" stroke="#5a5c5c" stroke-width="0.35"/><circle cx="417.48" cy="521.54" r="0.98" fill="none" stroke="#5a5c5c" stroke-width="0.35"/><circle cx="418.93" cy="520.58" r="0.85" fill="none" stroke="#5a5c5c" stroke-width="0.35"/><circle cx="418.08" cy="516.03" r="0.82" fill="none" stroke="#5a5c5c" stroke-width="0.35"/><circle cx="422.88" cy="526.43" r="0.82" fill="none" stroke="#5a5c5c" stroke-width="0.35"/><circle cx="414.39" cy="518.58" r="0.84" fill="none" stroke="#5a5c5c" stroke-width="0.35"/><circle cx="409.84" cy="516.43" r="0.81" fill="none" stroke="#5a5c5c" stroke-width="0.35"/><circle cx="409.47" cy="529.98" r="1.15" fill="none" stroke="#5a5c5c" stroke-width="0.35"/><circle cx="364.04" cy="466.83" r="2.00" fill="#22d4dc"/><circle cx="363.48" cy="467.46" r="2.17" fill="#22d4dc"/><circle cx="363.60" cy="467.64" r="1.89" fill="#22d4dc"/><path d="M404.06 472.44 A2.52 2.52 0 1 1 408.53 472.19" fill="none" stroke="#22d4dc" stroke-width="4.13" stroke-linecap="round"/><path d="M389.04 476.47 A2.10 2.10 0 1 1 385.32 476.18" fill="none" stroke="#22d4dc" stroke-width="3.44" stroke-linecap="round"/><path d="M369.93 490.48 A2.36 2.36 0 1 1 370.73 494.58" fill="none" stroke="#22d4dc" stroke-width="3.86" stroke-linecap="round"/><path d="M395.23 491.41 A2.36 2.36 0 1 1 392.40 494.49" fill="none" stroke="#22d4dc" stroke-width="3.86" stroke-linecap="round"/><path d="M384.16 503.36 A2.36 2.36 0 1 1 382.48 499.53" fill="none" stroke="#22d4dc" stroke-width="3.86" stroke-linecap="round"/><path d="M400.64 501.65 A2.36 2.36 0 1 1 403.31 504.87" fill="none" stroke="#22d4dc" stroke-width="3.86" stroke-linecap="round"/><path d="M421.37 495.49 A2.36 2.36 0 1 1 417.20 495.19" fill="none" stroke="#22d4dc" stroke-width="3.86" stroke-linecap="round"/><path d="M393.22 519.45 A2.36 2.36 0 1 1 392.51 523.57" fill="none" stroke="#22d4dc" stroke-width="3.86" stroke-linecap="round"/><circle cx="360.46" cy="482.76" r="0.68" fill="#2b9ea8"/><circle cx="380.96" cy="471.15" r="1.37" fill="#f2ec3a"/><circle cx="380.96" cy="480.71" r="1.09" fill="#f2ec3a"/><circle cx="375.49" cy="486.86" r="2.46" fill="#f2ec3a"/><circle cx="416.48" cy="486.17" r="0.82" fill="#f2ec3a"/><circle cx="415.11" cy="488.22" r="0.82" fill="#f2ec3a"/><circle cx="418.52" cy="484.13" r="0.82" fill="#f2ec3a"/><circle cx="382.32" cy="525.11" r="0.68" fill="#8a8a3a"/><circle cx="406.91" cy="532.62" r="0.77" fill="none" stroke="#bbb" stroke-width="0.6"/></g></g><clipPath id="cp11"><rect x="439.7" y="465.7" width="68.6" height="69.1"/></clipPath><g clip-path="url(#cp11)"><rect x="439.70" y="465.70" width="68.60" height="69.10" fill="#464c4c"/><g filter="url(#bl)"><circle cx="441.73" cy="470.46" r="4.78" fill="#4a5050" stroke="#1a1a1a" stroke-width="0.96"/><circle cx="441.73" cy="470.46" r="5.38" fill="none" stroke="#7a7e7e" stroke-width="0.55"/><circle cx="449.25" cy="473.20" r="4.78" fill="#4a5050" stroke="#1a1a1a" stroke-width="0.96"/><circle cx="449.25" cy="473.20" r="5.38" fill="none" stroke="#7a7e7e" stroke-width="0.55"/><circle cx="463.59" cy="467.73" r="4.78" fill="#4a5050" stroke="#1a1a1a" stroke-width="0.96"/><circle cx="463.59" cy="467.73" r="5.38" fill="none" stroke="#7a7e7e" stroke-width="0.55"/><circle cx="475.89" cy="470.46" r="4.78" fill="#4a5050" stroke="#1a1a1a" stroke-width="0.96"/><circle cx="475.89" cy="470.46" r="5.38" fill="none" stroke="#7a7e7e" stroke-width="0.55"/><circle cx="486.13" cy="469.10" r="4.78" fill="#4a5050" stroke="#1a1a1a" stroke-width="0.96"/><circle cx="486.13" cy="469.10" r="5.38" fill="none" stroke="#7a7e7e" stroke-width="0.55"/><circle cx="497.06" cy="472.51" r="4.78" fill="#4a5050" stroke="#1a1a1a" stroke-width="0.96"/><circle cx="497.06" cy="472.51" r="5.38" fill="none" stroke="#7a7e7e" stroke-width="0.55"/><circle cx="505.94" cy="471.83" r="4.78" fill="#4a5050" stroke="#1a1a1a" stroke-width="0.96"/><circle cx="505.94" cy="471.83" r="5.38" fill="none" stroke="#7a7e7e" stroke-width="0.55"/><circle cx="486.81" cy="477.30" r="4.78" fill="#4a5050" stroke="#1a1a1a" stroke-width="0.96"/><circle cx="486.81" cy="477.30" r="5.38" fill="none" stroke="#7a7e7e" stroke-width="0.55"/><circle cx="492.28" cy="484.13" r="4.78" fill="#4a5050" stroke="#1a1a1a" stroke-width="0.96"/><circle cx="492.28" cy="484.13" r="5.38" fill="none" stroke="#7a7e7e" stroke-width="0.55"/><circle cx="453.34" cy="486.17" r="4.78" fill="#4a5050" stroke="#1a1a1a" stroke-width="0.96"/><circle cx="453.34" cy="486.17" r="5.38" fill="none" stroke="#7a7e7e" stroke-width="0.55"/><circle cx="464.96" cy="485.49" r="4.78" fill="#4a5050" stroke="#1a1a1a" stroke-width="0.96"/><circle cx="464.96" cy="485.49" r="5.38" fill="none" stroke="#7a7e7e" stroke-width="0.55"/><circle cx="473.84" cy="488.91" r="4.78" fill="#4a5050" stroke="#1a1a1a" stroke-width="0.96"/><circle cx="473.84" cy="488.91" r="5.38" fill="none" stroke="#7a7e7e" stroke-width="0.55"/><circle cx="451.98" cy="493.01" r="4.78" fill="#4a5050" stroke="#1a1a1a" stroke-width="0.96"/><circle cx="451.98" cy="493.01" r="5.38" fill="none" stroke="#7a7e7e" stroke-width="0.55"/><circle cx="460.17" cy="493.69" r="4.78" fill="#4a5050" stroke="#1a1a1a" stroke-width="0.96"/><circle cx="460.17" cy="493.69" r="5.38" fill="none" stroke="#7a7e7e" stroke-width="0.55"/><circle cx="486.81" cy="497.10" r="4.78" fill="#4a5050" stroke="#1a1a1a" stroke-width="0.96"/><circle cx="486.81" cy="497.10" r="5.38" fill="none" stroke="#7a7e7e" stroke-width="0.55"/><circle cx="492.96" cy="499.84" r="4.78" fill="#4a5050" stroke="#1a1a1a" stroke-width="0.96"/><circle cx="492.96" cy="499.84" r="5.38" fill="none" stroke="#7a7e7e" stroke-width="0.55"/><circle cx="501.84" cy="495.74" r="4.78" fill="#4a5050" stroke="#1a1a1a" stroke-width="0.96"/><circle cx="501.84" cy="495.74" r="5.38" fill="none" stroke="#7a7e7e" stroke-width="0.55"/><circle cx="505.26" cy="488.91" r="4.78" fill="#4a5050" stroke="#1a1a1a" stroke-width="0.96"/><circle cx="505.26" cy="488.91" r="5.38" fill="none" stroke="#7a7e7e" stroke-width="0.55"/><circle cx="499.11" cy="506.67" r="4.78" fill="#4a5050" stroke="#1a1a1a" stroke-width="0.96"/><circle cx="499.11" cy="506.67" r="5.38" fill="none" stroke="#7a7e7e" stroke-width="0.55"/><circle cx="472.47" cy="504.62" r="4.78" fill="#4a5050" stroke="#1a1a1a" stroke-width="0.96"/><circle cx="472.47" cy="504.62" r="5.38" fill="none" stroke="#7a7e7e" stroke-width="0.55"/><circle cx="449.93" cy="510.77" r="4.78" fill="#4a5050" stroke="#1a1a1a" stroke-width="0.96"/><circle cx="449.93" cy="510.77" r="5.38" fill="none" stroke="#7a7e7e" stroke-width="0.55"/><circle cx="460.86" cy="510.77" r="4.78" fill="#4a5050" stroke="#1a1a1a" stroke-width="0.96"/><circle cx="460.86" cy="510.77" r="5.38" fill="none" stroke="#7a7e7e" stroke-width="0.55"/><circle cx="454.71" cy="520.33" r="4.78" fill="#4a5050" stroke="#1a1a1a" stroke-width="0.96"/><circle cx="454.71" cy="520.33" r="5.38" fill="none" stroke="#7a7e7e" stroke-width="0.55"/><circle cx="490.91" cy="523.74" r="4.78" fill="#4a5050" stroke="#1a1a1a" stroke-width="0.96"/><circle cx="490.91" cy="523.74" r="5.38" fill="none" stroke="#7a7e7e" stroke-width="0.55"/><circle cx="481.35" cy="530.57" r="4.78" fill="#4a5050" stroke="#1a1a1a" stroke-width="0.96"/><circle cx="481.35" cy="530.57" r="5.38" fill="none" stroke="#7a7e7e" stroke-width="0.55"/><circle cx="467.01" cy="533.31" r="4.78" fill="#4a5050" stroke="#1a1a1a" stroke-width="0.96"/><circle cx="467.01" cy="533.31" r="5.38" fill="none" stroke="#7a7e7e" stroke-width="0.55"/><circle cx="440.36" cy="471.05" r="1.91" fill="#27a2ac"/><circle cx="442.74" cy="470.90" r="1.89" fill="#27a2ac"/><circle cx="441.75" cy="469.63" r="1.94" fill="#27a2ac"/><circle cx="442.16" cy="471.78" r="1.10" fill="#22d4dc"/><circle cx="441.43" cy="471.52" r="0.88" fill="#22d4dc"/><circle cx="440.97" cy="470.66" r="1.07" fill="#22d4dc"/><circle cx="440.83" cy="470.03" r="0.53" fill="#1b5f66"/><circle cx="450.40" cy="473.31" r="2.25" fill="#27a2ac"/><circle cx="449.49" cy="474.30" r="2.24" fill="#27a2ac"/><circle cx="449.57" cy="474.20" r="2.26" fill="#27a2ac"/><circle cx="447.67" cy="472.68" r="1.07" fill="#22d4dc"/><circle cx="450.01" cy="474.13" r="0.75" fill="#22d4dc"/><circle cx="448.48" cy="472.42" r="0.81" fill="#22d4dc"/><circle cx="450.24" cy="473.09" r="0.53" fill="#1b5f66"/><circle cx="464.00" cy="468.70" r="1.85" fill="#27a2ac"/><circle cx="464.42" cy="468.23" r="1.92" fill="#27a2ac"/><circle cx="463.30" cy="468.66" r="2.02" fill="#27a2ac"/><circle cx="463.19" cy="466.87" r="0.74" fill="#22d4dc"/><circle cx="462.78" cy="468.49" r="0.84" fill="#22d4dc"/><circle cx="463.34" cy="468.43" r="0.72" fill="#22d4dc"/><circle cx="463.08" cy="467.01" r="0.47" fill="#1b5f66"/><circle cx="477.04" cy="469.94" r="2.18" fill="#27a2ac"/><circle cx="476.80" cy="471.59" r="2.00" fill="#27a2ac"/><circle cx="474.63" cy="470.82" r="2.16" fill="#27a2ac"/><circle cx="475.80" cy="469.79" r="0.76" fill="#22d4dc"/><circle cx="477.56" cy="469.94" r="0.74" fill="#22d4dc"/><circle cx="476.12" cy="471.69" r="0.81" fill="#22d4dc"/><circle cx="476.14" cy="471.43" r="0.53" fill="#1b5f66"/><circle cx="487.35" cy="468.89" r="2.03" fill="#27a2ac"/><circle cx="486.00" cy="468.14" r="1.93" fill="#27a2ac"/><circle cx="486.73" cy="470.37" r="1.89" fill="#27a2ac"/><circle cx="487.33" cy="470.49" r="1.05" fill="#22d4dc"/><circle cx="485.45" cy="469.11" r="1.02" fill="#22d4dc"/><circle cx="486.06" cy="468.22" r="0.82" fill="#22d4dc"/><circle cx="485.95" cy="468.12" r="0.53" fill="#1b5f66"/><circle cx="497.05" cy="471.30" r="1.86" fill="#27a2ac"/><circle cx="497.71" cy="473.52" r="1.94" fill="#27a2ac"/><circle cx="496.05" cy="472.41" r="1.71" fill="#27a2ac"/><circle cx="497.61" cy="472.87" r="0.73" fill="#22d4dc"/><circle cx="497.77" cy="471.28" r="0.81" fill="#22d4dc"/><circle cx="495.62" cy="473.25" r="0.98" fill="#22d4dc"/><circle cx="497.65" cy="473.17" r="0.47" fill="#1b5f66"/><circle cx="506.41" cy="472.57" r="1.71" fill="#27a2ac"/><circle cx="506.69" cy="471.08" r="1.69" fill="#27a2ac"/><circle cx="505.79" cy="471.04" r="1.52" fill="#27a2ac"/><circle cx="505.24" cy="471.61" r="0.86" fill="#22d4dc"/><circle cx="505.56" cy="471.18" r="0.87" fill="#22d4dc"/><circle cx="505.62" cy="472.43" r="0.66" fill="#22d4dc"/><circle cx="505.50" cy="471.19" r="0.41" fill="#1b5f66"/><circle cx="486.48" cy="476.39" r="1.90" fill="#27a2ac"/><circle cx="487.24" cy="478.26" r="2.03" fill="#27a2ac"/><circle cx="487.85" cy="477.55" r="2.15" fill="#27a2ac"/><circle cx="487.19" cy="478.78" r="0.94" fill="#22d4dc"/><circle cx="487.99" cy="477.88" r="0.74" fill="#22d4dc"/><circle cx="487.18" cy="475.49" r="1.09" fill="#22d4dc"/><circle cx="487.12" cy="478.24" r="0.53" fill="#1b5f66"/><circle cx="492.11" cy="485.03" r="1.88" fill="#27a2ac"/><circle cx="492.31" cy="483.27" r="1.83" fill="#27a2ac"/><circle cx="492.41" cy="482.94" r="2.02" fill="#27a2ac"/><circle cx="491.45" cy="483.68" r="0.85" fill="#22d4dc"/><circle cx="492.76" cy="484.48" r="0.72" fill="#22d4dc"/><circle cx="492.82" cy="484.90" r="0.71" fill="#22d4dc"/><circle cx="491.76" cy="484.84" r="0.47" fill="#1b5f66"/><circle cx="452.30" cy="486.30" r="2.01" fill="#27a2ac"/><circle cx="454.41" cy="487.05" r="2.23" fill="#27a2ac"/><circle cx="453.16" cy="485.06" r="2.20" fill="#27a2ac"/><circle cx="454.01" cy="486.75" r="0.89" fill="#22d4dc"/><circle cx="454.04" cy="486.34" r="0.96" fill="#22d4dc"/><circle cx="451.99" cy="487.00" r="0.90" fill="#22d4dc"/><circle cx="453.86" cy="485.32" r="0.53" fill="#1b5f66"/><circle cx="465.99" cy="486.03" r="1.95" fill="#27a2ac"/><circle cx="464.24" cy="486.36" r="1.66" fill="#27a2ac"/><circle cx="466.07" cy="485.53" r="1.99" fill="#27a2ac"/><circle cx="464.66" cy="486.34" r="0.69" fill="#22d4dc"/><circle cx="465.01" cy="486.26" r="0.74" fill="#22d4dc"/><circle cx="464.02" cy="485.24" r="0.74" fill="#22d4dc"/><circle cx="464.15" cy="485.12" r="0.47" fill="#1b5f66"/><circle cx="474.69" cy="489.14" r="2.04" fill="#27a2ac"/><circle cx="473.61" cy="489.95" r="2.06" fill="#27a2ac"/><circle cx="474.81" cy="488.27" r="1.86" fill="#27a2ac"/><circle cx="473.88" cy="489.61" r="0.69" fill="#22d4dc"/><circle cx="475.27" cy="489.41" r="0.90" fill="#22d4dc"/><circle cx="474.19" cy="490.33" r="0.68" fill="#22d4dc"/><circle cx="474.26" cy="489.69" r="0.47" fill="#1b5f66"/><circle cx="452.79" cy="491.75" r="2.04" fill="#27a2ac"/><circle cx="451.34" cy="492.37" r="2.11" fill="#27a2ac"/><circle cx="452.90" cy="493.88" r="1.93" fill="#27a2ac"/><circle cx="452.05" cy="494.70" r="0.93" fill="#22d4dc"/><circle cx="452.72" cy="491.41" r="0.76" fill="#22d4dc"/><circle cx="451.56" cy="493.68" r="0.82" fill="#22d4dc"/><circle cx="452.12" cy="492.02" r="0.53" fill="#1b5f66"/><circle cx="460.64" cy="494.61" r="1.87" fill="#27a2ac"/><circle cx="460.25" cy="492.47" r="1.92" fill="#27a2ac"/><circle cx="459.58" cy="495.01" r="2.22" fill="#27a2ac"/><circle cx="461.85" cy="494.03" r="0.79" fill="#22d4dc"/><circle cx="459.29" cy="493.63" r="1.05" fill="#22d4dc"/><circle cx="460.29" cy="492.76" r="1.10" fill="#22d4dc"/><circle cx="459.79" cy="492.77" r="0.53" fill="#1b5f66"/><circle cx="486.59" cy="496.26" r="1.83" fill="#27a2ac"/><circle cx="487.44" cy="496.52" r="2.09" fill="#27a2ac"/><circle cx="486.39" cy="497.87" r="2.13" fill="#27a2ac"/><circle cx="488.49" cy="497.80" r="0.75" fill="#22d4dc"/><circle cx="486.01" cy="498.01" r="0.99" fill="#22d4dc"/><circle cx="488.23" cy="496.85" r="1.05" fill="#22d4dc"/><circle cx="485.82" cy="497.15" r="0.53" fill="#1b5f66"/><circle cx="493.12" cy="498.69" r="1.95" fill="#27a2ac"/><circle cx="492.60" cy="498.87" r="1.85" fill="#27a2ac"/><circle cx="491.64" cy="500.12" r="2.16" fill="#27a2ac"/><circle cx="493.56" cy="500.85" r="0.99" fill="#22d4dc"/><circle cx="494.20" cy="499.32" r="1.03" fill="#22d4dc"/><circle cx="491.69" cy="498.99" r="0.98" fill="#22d4dc"/><circle cx="493.87" cy="500.25" r="0.53" fill="#1b5f66"/><circle cx="502.12" cy="494.40" r="2.20" fill="#27a2ac"/><circle cx="502.41" cy="494.93" r="2.12" fill="#27a2ac"/><circle cx="500.53" cy="495.20" r="2.11" fill="#27a2ac"/><circle cx="503.53" cy="494.99" r="0.75" fill="#22d4dc"/><circle cx="501.23" cy="494.72" r="0.98" fill="#22d4dc"/><circle cx="502.01" cy="494.63" r="0.88" fill="#22d4dc"/><circle cx="502.78" cy="495.42" r="0.53" fill="#1b5f66"/><circle cx="505.39" cy="489.89" r="1.73" fill="#27a2ac"/><circle cx="504.68" cy="487.96" r="1.59" fill="#27a2ac"/><circle cx="504.99" cy="489.66" r="1.65" fill="#27a2ac"/><circle cx="506.61" cy="488.48" r="0.72" fill="#22d4dc"/><circle cx="504.56" cy="489.35" r="0.61" fill="#22d4dc"/><circle cx="504.68" cy="488.74" r="0.69" fill="#22d4dc"/><circle cx="504.50" cy="489.07" r="0.41" fill="#1b5f66"/><circle cx="500.14" cy="506.88" r="2.32" fill="#27a2ac"/><circle cx="499.65" cy="507.98" r="2.03" fill="#27a2ac"/><circle cx="498.15" cy="506.43" r="1.93" fill="#27a2ac"/><circle cx="498.30" cy="505.83" r="1.09" fill="#22d4dc"/><circle cx="498.26" cy="507.37" r="0.79" fill="#22d4dc"/><circle cx="499.67" cy="507.65" r="1.06" fill="#22d4dc"/><circle cx="499.84" cy="505.99" r="0.53" fill="#1b5f66"/><circle cx="473.47" cy="504.36" r="1.98" fill="#27a2ac"/><circle cx="473.44" cy="503.67" r="2.13" fill="#27a2ac"/><circle cx="473.39" cy="503.46" r="2.02" fill="#27a2ac"/><circle cx="474.26" cy="504.72" r="0.77" fill="#22d4dc"/><circle cx="472.51" cy="506.03" r="0.99" fill="#22d4dc"/><circle cx="472.34" cy="503.06" r="1.12" fill="#22d4dc"/><circle cx="472.37" cy="503.63" r="0.53" fill="#1b5f66"/><circle cx="449.95" cy="509.49" r="1.89" fill="#27a2ac"/><circle cx="449.95" cy="509.77" r="2.03" fill="#27a2ac"/><circle cx="448.88" cy="510.67" r="1.96" fill="#27a2ac"/><circle cx="449.63" cy="511.79" r="1.01" fill="#22d4dc"/><circle cx="449.19" cy="509.01" r="1.05" fill="#22d4dc"/><circle cx="451.36" cy="511.33" r="0.93" fill="#22d4dc"/><circle cx="449.57" cy="509.84" r="0.53" fill="#1b5f66"/><circle cx="462.26" cy="510.92" r="2.27" fill="#27a2ac"/><circle cx="461.65" cy="511.50" r="1.98" fill="#27a2ac"/><circle cx="459.93" cy="510.69" r="2.13" fill="#27a2ac"/><circle cx="459.00" cy="511.26" r="0.92" fill="#22d4dc"/><circle cx="462.76" cy="510.85" r="0.84" fill="#22d4dc"/><circle cx="461.58" cy="512.51" r="0.93" fill="#22d4dc"/><circle cx="461.85" cy="510.75" r="0.53" fill="#1b5f66"/><circle cx="455.27" cy="521.41" r="2.31" fill="#27a2ac"/><circle cx="454.02" cy="519.62" r="2.21" fill="#27a2ac"/><circle cx="455.89" cy="520.52" r="2.03" fill="#27a2ac"/><circle cx="456.37" cy="521.30" r="0.99" fill="#22d4dc"/><circle cx="452.75" cy="520.41" r="0.87" fill="#22d4dc"/><circle cx="455.61" cy="519.70" r="1.06" fill="#22d4dc"/><circle cx="453.71" cy="520.35" r="0.53" fill="#1b5f66"/><circle cx="492.04" cy="524.10" r="2.27" fill="#27a2ac"/><circle cx="491.33" cy="525.04" r="1.86" fill="#27a2ac"/><circle cx="490.49" cy="524.84" r="2.17" fill="#27a2ac"/><circle cx="492.12" cy="522.95" r="1.12" fill="#22d4dc"/><circle cx="491.11" cy="522.62" r="1.01" fill="#22d4dc"/><circle cx="490.65" cy="525.57" r="0.92" fill="#22d4dc"/><circle cx="490.19" cy="523.06" r="0.53" fill="#1b5f66"/><circle cx="482.34" cy="530.09" r="2.17" fill="#27a2ac"/><circle cx="480.68" cy="531.37" r="2.22" fill="#27a2ac"/><circle cx="480.46" cy="530.73" r="2.29" fill="#27a2ac"/><circle cx="480.40" cy="529.65" r="0.89" fill="#22d4dc"/><circle cx="482.34" cy="532.13" r="0.75" fill="#22d4dc"/><circle cx="481.10" cy="531.93" r="0.99" fill="#22d4dc"/><circle cx="481.93" cy="529.76" r="0.53" fill="#1b5f66"/><circle cx="466.26" cy="533.77" r="2.02" fill="#27a2ac"/><circle cx="466.78" cy="532.24" r="2.23" fill="#27a2ac"/><circle cx="467.55" cy="532.57" r="2.05" fill="#27a2ac"/><circle cx="468.37" cy="533.41" r="1.01" fill="#22d4dc"/><circle cx="466.50" cy="534.68" r="0.87" fill="#22d4dc"/><circle cx="468.83" cy="533.08" r="1.08" fill="#22d4dc"/><circle cx="467.82" cy="533.87" r="0.53" fill="#1b5f66"/><circle cx="469.05" cy="497.10" r="1.91" fill="#f2ec3a"/><circle cx="502.52" cy="501.89" r="1.91" fill="#f2ec3a"/><circle cx="475.20" cy="512.13" r="1.91" fill="#f2ec3a"/><circle cx="475.20" cy="516.23" r="1.64" fill="#f2ec3a"/><circle cx="473.15" cy="520.74" r="2.05" fill="#f2ec3a"/><circle cx="479.30" cy="520.33" r="2.05" fill="#f2ec3a"/><circle cx="483.40" cy="522.38" r="1.64" fill="#f2ec3a"/><circle cx="476.57" cy="518.28" r="1.37" fill="#f2ec3a"/><circle cx="447.88" cy="503.25" r="1.37" fill="#2c2c2c"/><circle cx="502.52" cy="530.57" r="1.64" fill="#2c2c2c"/></g></g><rect x="18.4" y="366" width="79.2" height="92.30000000000001" rx="1" fill="none" stroke="#9a9a9a" stroke-width="0.9"/><rect x="18.849999999999998" y="366.45" width="78.3" height="11.850000000000023" fill="#fff"/><text x="57.4" y="375.5" font-size="8" text-anchor="middle" font-weight="bold" fill="#111" stroke="#111" stroke-width="0.05">Vehicle</text><rect x="101.0" y="366" width="79.5" height="92.30000000000001" rx="1" fill="none" stroke="#9a9a9a" stroke-width="0.9"/><rect x="101.45" y="366.45" width="78.6" height="11.850000000000023" fill="#fff"/><text x="140.15" y="375.5" font-size="8" text-anchor="middle" font-weight="bold" fill="#111" stroke="#111" stroke-width="0.05">CK-666</text><rect x="183.5" y="366" width="80.0" height="92.30000000000001" rx="1" fill="none" stroke="#9a9a9a" stroke-width="0.9"/><rect x="183.95" y="366.45" width="79.1" height="11.850000000000023" fill="#fff"/><text x="222.9" y="375.5" font-size="8" text-anchor="middle" font-weight="bold" fill="#111" stroke="#111" stroke-width="0.05">CB</text><rect x="266.5" y="366" width="80.0" height="92.30000000000001" rx="1" fill="none" stroke="#9a9a9a" stroke-width="0.9"/><rect x="266.95" y="366.45" width="79.1" height="11.850000000000023" fill="#fff"/><text x="305.9" y="375.5" font-size="8" text-anchor="middle" font-weight="bold" fill="#111" stroke="#111" stroke-width="0.05">LatB</text><rect x="349.5" y="366" width="80.0" height="92.30000000000001" rx="1" fill="none" stroke="#9a9a9a" stroke-width="0.9"/><rect x="349.95" y="366.45" width="79.1" height="11.850000000000023" fill="#fff"/><text x="388.9" y="375.5" font-size="8" text-anchor="middle" font-weight="bold" fill="#111" stroke="#111" stroke-width="0.05">SMIFH2</text><rect x="432.5" y="366" width="80.0" height="92.30000000000001" rx="1" fill="none" stroke="#9a9a9a" stroke-width="0.9"/><rect x="432.95" y="366.45" width="79.1" height="11.850000000000023" fill="#fff"/><text x="471.9" y="375.5" font-size="8" text-anchor="middle" font-weight="bold" fill="#111" stroke="#111" stroke-width="0.05">JSP</text><path d="M18.4 378.5 H8.2 Q7.7 378.5 7.7 379 V457.9 Q7.7 458.4 8.2 458.4 H18.4" fill="none" stroke="#9a9a9a" stroke-width="0.9"/><text x="16" y="418.2" font-size="8" text-anchor="middle" font-weight="bold" fill="#111" stroke="#111" stroke-width="0.05" transform="rotate(-90 16 418.2)">T = 31 minutes</text><text x="16" y="499.5" font-size="8" text-anchor="middle" font-weight="bold" fill="#111" stroke="#111" stroke-width="0.05" transform="rotate(-90 16 499.5)">Zoom</text><text x="7.8" y="548.3" font-size="9.8" text-anchor="start" font-weight="bold" fill="#000" stroke="#000" stroke-width="0.3">E</text><line x1="53.8" y1="551.4" x2="53.8" y2="690.1" stroke="#231f20" stroke-width="1.2"/><line x1="53.199999999999996" y1="689.7" x2="299.5" y2="689.7" stroke="#231f20" stroke-width="1.35"/><line x1="50.5" y1="689.5" x2="53.8" y2="689.5" stroke="#231f20" stroke-width="1.1"/><text x="0" y="0" font-size="8.4" text-anchor="end" font-weight="normal" fill="#231f20" stroke="#231f20" stroke-width="0.12" transform="translate(47.4 692.5) scale(0.92 1)">0</text><line x1="50.5" y1="644.7666666666667" x2="53.8" y2="644.7666666666667" stroke="#231f20" stroke-width="1.1"/><text x="0" y="0" font-size="8.4" text-anchor="end" font-weight="normal" fill="#231f20" stroke="#231f20" stroke-width="0.12" transform="translate(47.4 647.7666666666667) scale(0.92 1)">4000</text><line x1="50.5" y1="600.0333333333333" x2="53.8" y2="600.0333333333333" stroke="#231f20" stroke-width="1.1"/><text x="0" y="0" font-size="8.4" text-anchor="end" font-weight="normal" fill="#231f20" stroke="#231f20" stroke-width="0.12" transform="translate(47.4 603.0333333333333) scale(0.92 1)">8000</text><line x1="50.5" y1="555.3" x2="53.8" y2="555.3" stroke="#231f20" stroke-width="1.1"/><text x="0" y="0" font-size="8.4" text-anchor="end" font-weight="normal" fill="#231f20" stroke="#231f20" stroke-width="0.12" transform="translate(47.4 558.3) scale(0.92 1)">12000</text><line x1="179.4" y1="555.6" x2="179.4" y2="689.5" stroke="#222" stroke-width="1.15" stroke-dasharray="2.8 2.6"/><line x1="117.5" y1="689.5" x2="117.5" y2="692.0" stroke="#231f20" stroke-width="1"/><line x1="237.5" y1="689.5" x2="237.5" y2="692.0" stroke="#231f20" stroke-width="1"/><text x="117.5" y="702.5" font-size="8" text-anchor="middle" font-weight="normal" fill="#231f20" stroke="#231f20" stroke-width="0.12">Unstimulated</text><text x="237.5" y="702.5" font-size="8" text-anchor="middle" font-weight="normal" fill="#231f20" stroke="#231f20" stroke-width="0.12">C5a</text><text x="23.3" y="623" font-size="7.3" text-anchor="middle" font-weight="normal" fill="#231f20" stroke="#231f20" stroke-width="0.12" transform="rotate(-90 23.3 623)">Chemotaxis extent (RFU)</text><rect x="313.00" y="596.60" width="4.30" height="4.30" fill="#c8102e"/><text x="320" y="601.25" font-size="7.1" text-anchor="start" font-weight="normal" fill="#231f20" stroke="#231f20" stroke-width="0.12">Vehicle</text><rect x="313.00" y="606.25" width="4.30" height="4.30" fill="#114e85"/><text x="320" y="610.9" font-size="7.1" text-anchor="start" font-weight="normal" fill="#231f20" stroke="#231f20" stroke-width="0.12">CK-666</text><rect x="313.00" y="615.85" width="4.30" height="4.30" fill="#3bb54a"/><text x="320" y="620.5" font-size="7.1" text-anchor="start" font-weight="normal" fill="#231f20" stroke="#231f20" stroke-width="0.12">CB</text><rect x="313.00" y="625.45" width="4.30" height="4.30" fill="#5b2a70"/><text x="320" y="630.1" font-size="7.1" text-anchor="start" font-weight="normal" fill="#231f20" stroke="#231f20" stroke-width="0.12">LatB</text><rect x="313.00" y="635.15" width="4.30" height="4.30" fill="#f7941d"/><text x="320" y="639.8" font-size="7.1" text-anchor="start" font-weight="normal" fill="#231f20" stroke="#231f20" stroke-width="0.12">SMIFH2</text><rect x="313.00" y="644.85" width="4.30" height="4.30" fill="#0b6b50"/><text x="320" y="649.5" font-size="7.1" text-anchor="start" font-weight="normal" fill="#231f20" stroke="#231f20" stroke-width="0.12">JSP</text><rect x="185.50" y="602.00" width="10.50" height="87.50" fill="#e27f90"/><line x1="190.75" y1="602" x2="190.75" y2="575.5" stroke="#3a3a3a" stroke-width="0.9"/><line x1="188" y1="575.5" x2="193.5" y2="575.5" stroke="#3a3a3a" stroke-width="1"/><rect x="201.75" y="624.25" width="10.75" height="65.25" fill="#84a6c6"/><line x1="207.1" y1="624.25" x2="207.1" y2="599.25" stroke="#3a3a3a" stroke-width="0.9"/><line x1="204.4" y1="599.25" x2="209.8" y2="599.25" stroke="#3a3a3a" stroke-width="1"/><path d="M190.75 568.00 L193.25 570.50 L190.75 573.00 L188.25 570.50Z" fill="#c8102e"/><path d="M190.75 577.50 L193.25 580.00 L190.75 582.50 L188.25 580.00Z" fill="#c8102e"/><path d="M190.75 603.75 L193.25 606.25 L190.75 608.75 L188.25 606.25Z" fill="#c8102e"/><path d="M188.00 624.50 L190.50 627.00 L188.00 629.50 L185.50 627.00Z" fill="#c8102e"/><path d="M193.75 624.50 L196.25 627.00 L193.75 629.50 L191.25 627.00Z" fill="#c8102e"/><path d="M207.00 589.50 L209.50 592.00 L207.00 594.50 L204.50 592.00Z" fill="#114e85"/><path d="M207.00 613.00 L209.50 615.50 L207.00 618.00 L204.50 615.50Z" fill="#114e85"/><path d="M204.25 621.25 L206.75 623.75 L204.25 626.25 L201.75 623.75Z" fill="#114e85"/><path d="M209.50 625.50 L212.00 628.00 L209.50 630.50 L207.00 628.00Z" fill="#114e85"/><path d="M207.00 658.75 L209.50 661.25 L207.00 663.75 L204.50 661.25Z" fill="#114e85"/><rect x="62.50" y="685.00" width="10.00" height="4.50" fill="#e27f90"/><path d="M64.40 680.40 L66.90 682.90 L64.40 685.40 L61.90 682.90Z" fill="#c8102e"/><path d="M67.80 679.00 L70.30 681.50 L67.80 684.00 L65.30 681.50Z" fill="#c8102e"/><path d="M70.50 680.40 L73.00 682.90 L70.50 685.40 L68.00 682.90Z" fill="#c8102e"/><path d="M63.70 685.80 L66.20 688.30 L63.70 690.80 L61.20 688.30Z" fill="#c8102e"/><path d="M67.10 684.40 L69.60 686.90 L67.10 689.40 L64.60 686.90Z" fill="#c8102e"/><path d="M70.50 685.80 L73.00 688.30 L70.50 690.80 L68.00 688.30Z" fill="#c8102e"/><path d="M86.00 683.10 L88.50 685.60 L86.00 688.10 L83.50 685.60Z" fill="#114e85"/><path d="M83.90 685.10 L86.40 687.60 L83.90 690.10 L81.40 687.60Z" fill="#114e85"/><path d="M88.00 685.10 L90.50 687.60 L88.00 690.10 L85.50 687.60Z" fill="#114e85"/><path d="M90.00 686.50 L92.50 689.00 L90.00 691.50 L87.50 689.00Z" fill="#114e85"/><path d="M85.30 686.50 L87.80 689.00 L85.30 691.50 L82.80 689.00Z" fill="#114e85"/><path d="M103.50 685.90 L105.90 688.30 L103.50 690.70 L101.10 688.30Z" fill="#3bb54a"/><path d="M106.10 685.20 L108.50 687.60 L106.10 690.00 L103.70 687.60Z" fill="#3bb54a"/><path d="M108.80 685.90 L111.20 688.30 L108.80 690.70 L106.40 688.30Z" fill="#3bb54a"/><path d="M107.50 686.60 L109.90 689.00 L107.50 691.40 L105.10 689.00Z" fill="#3bb54a"/><path d="M105.00 686.80 L107.40 689.20 L105.00 691.60 L102.60 689.20Z" fill="#3bb54a"/><rect x="124.20" y="679.50" width="10.30" height="10.00" fill="#a88fbd"/><line x1="128.1" y1="679.5" x2="128.1" y2="674.5" stroke="#3a3a3a" stroke-width="0.9"/><line x1="126.4" y1="674.5" x2="129.8" y2="674.5" stroke="#3a3a3a" stroke-width="1"/><path d="M131.80 670.00 L134.30 672.50 L131.80 675.00 L129.30 672.50Z" fill="#5b2a70"/><path d="M126.40 676.30 L128.90 678.80 L126.40 681.30 L123.90 678.80Z" fill="#5b2a70"/><path d="M129.10 677.70 L131.60 680.20 L129.10 682.70 L126.60 680.20Z" fill="#5b2a70"/><path d="M131.80 679.00 L134.30 681.50 L131.80 684.00 L129.30 681.50Z" fill="#5b2a70"/><path d="M126.40 683.10 L128.90 685.60 L126.40 688.10 L123.90 685.60Z" fill="#5b2a70"/><path d="M148.60 686.20 L151.00 688.60 L148.60 691.00 L146.20 688.60Z" fill="#f7941d"/><path d="M165.80 687.10 L168.20 689.50 L165.80 691.90 L163.40 689.50Z" fill="#0b6b50"/><path d="M167.60 687.10 L170.00 689.50 L167.60 691.90 L165.20 689.50Z" fill="#0b6b50"/><path d="M169.40 687.10 L171.80 689.50 L169.40 691.90 L167.00 689.50Z" fill="#0b6b50"/><path d="M171.20 687.10 L173.60 689.50 L171.20 691.90 L168.80 689.50Z" fill="#0b6b50"/><rect x="221.50" y="686.50" width="10.00" height="3.00" fill="#a9dcb0"/><path d="M223.00 683.60 L225.40 686.00 L223.00 688.40 L220.60 686.00Z" fill="#3bb54a"/><path d="M225.60 681.00 L228.00 683.40 L225.60 685.80 L223.20 683.40Z" fill="#3bb54a"/><path d="M228.20 681.80 L230.60 684.20 L228.20 686.60 L225.80 684.20Z" fill="#3bb54a"/><path d="M227.30 684.40 L229.70 686.80 L227.30 689.20 L224.90 686.80Z" fill="#3bb54a"/><path d="M224.50 685.10 L226.90 687.50 L224.50 689.90 L222.10 687.50Z" fill="#3bb54a"/><rect x="243.70" y="680.80" width="10.40" height="8.70" fill="#a88fbd"/><path d="M248.90 674.80 L251.40 677.30 L248.90 679.80 L246.40 677.30Z" fill="#5b2a70"/><path d="M246.30 678.30 L248.80 680.80 L246.30 683.30 L243.80 680.80Z" fill="#5b2a70"/><path d="M250.70 679.10 L253.20 681.60 L250.70 684.10 L248.20 681.60Z" fill="#5b2a70"/><path d="M247.20 680.90 L249.70 683.40 L247.20 685.90 L244.70 683.40Z" fill="#5b2a70"/><path d="M251.50 676.50 L254.00 679.00 L251.50 681.50 L249.00 679.00Z" fill="#5b2a70"/><path d="M268.50 687.20 L270.90 689.60 L268.50 692.00 L266.10 689.60Z" fill="#f7941d"/><path d="M285.20 687.10 L287.60 689.50 L285.20 691.90 L282.80 689.50Z" fill="#0b6b50"/><path d="M287.00 687.10 L289.40 689.50 L287.00 691.90 L284.60 689.50Z" fill="#0b6b50"/><path d="M288.80 687.10 L291.20 689.50 L288.80 691.90 L286.40 689.50Z" fill="#0b6b50"/><path d="M290.60 687.10 L293.00 689.50 L290.60 691.90 L288.20 689.50Z" fill="#0b6b50"/></g>
<rect x="0.5" y="0.5" width="519" height="709" fill="none" stroke="#000" stroke-width="1.2"/>
</svg></body></html>
